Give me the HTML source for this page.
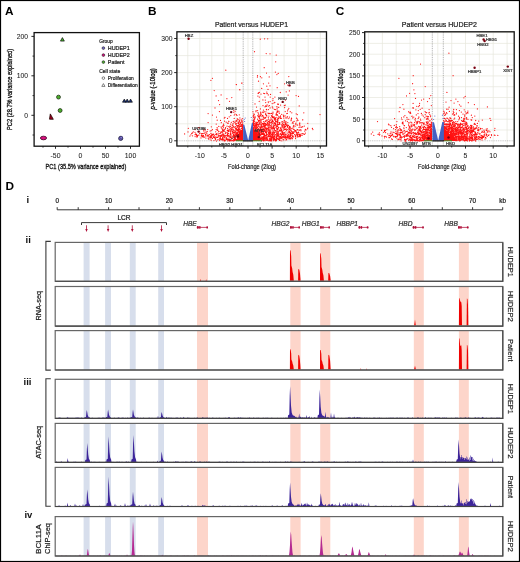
<!DOCTYPE html>
<html><head><meta charset="utf-8"><style>
html,body{margin:0;padding:0;background:#fff;width:520px;height:562px;overflow:hidden}
svg{display:block;will-change:transform}
text{font-family:"Liberation Sans",sans-serif}
</style></head><body>
<svg width="520" height="562" viewBox="0 0 520 562">
<rect width="520" height="562" fill="#fff"/>
<rect x="0.5" y="0.5" width="519" height="561" fill="none" stroke="#000" stroke-width="1.2"/>
<text x="4.9" y="15.0" font-size="11.8" text-anchor="start" fill="#000" font-weight="bold">A</text>
<text x="148.1" y="15.2" font-size="11.8" text-anchor="start" fill="#000" font-weight="bold">B</text>
<text x="335.7" y="15.2" font-size="11.8" text-anchor="start" fill="#000" font-weight="bold">C</text>
<text x="5.5" y="189.6" font-size="11.8" text-anchor="start" fill="#000" font-weight="bold">D</text>
<rect x="34.1" y="32.6" width="105.30000000000001" height="113.6" fill="none" stroke="#111" stroke-width="1.3"/>
<line x1="31.400000000000002" y1="36.4" x2="34.1" y2="36.4" stroke="#111" stroke-width="0.9"/>
<text x="28.0" y="38.79999999999999" font-size="6.8" text-anchor="end" fill="#222" stroke="#222" stroke-width="0.05">200</text>
<line x1="31.400000000000002" y1="75.8" x2="34.1" y2="75.8" stroke="#111" stroke-width="0.9"/>
<text x="28.0" y="78.25" font-size="6.8" text-anchor="end" fill="#222" stroke="#222" stroke-width="0.05">100</text>
<line x1="31.400000000000002" y1="115.3" x2="34.1" y2="115.3" stroke="#111" stroke-width="0.9"/>
<text x="28.0" y="117.7" font-size="6.8" text-anchor="end" fill="#222" stroke="#222" stroke-width="0.05">0</text>
<line x1="32.5" y1="56.1" x2="34.1" y2="56.1" stroke="#111" stroke-width="0.8"/>
<line x1="32.5" y1="95.6" x2="34.1" y2="95.6" stroke="#111" stroke-width="0.8"/>
<line x1="32.5" y1="135.0" x2="34.1" y2="135.0" stroke="#111" stroke-width="0.8"/>
<line x1="55.5" y1="146.2" x2="55.5" y2="148.79999999999998" stroke="#111" stroke-width="0.9"/>
<text x="55.5" y="157.6" font-size="6.9" text-anchor="middle" fill="#222" stroke="#222" stroke-width="0.05">-50</text>
<line x1="80.5" y1="146.2" x2="80.5" y2="148.79999999999998" stroke="#111" stroke-width="0.9"/>
<text x="80.5" y="157.6" font-size="6.9" text-anchor="middle" fill="#222" stroke="#222" stroke-width="0.05">0</text>
<line x1="105.5" y1="146.2" x2="105.5" y2="148.79999999999998" stroke="#111" stroke-width="0.9"/>
<text x="105.5" y="157.6" font-size="6.9" text-anchor="middle" fill="#222" stroke="#222" stroke-width="0.05">50</text>
<line x1="130.5" y1="146.2" x2="130.5" y2="148.79999999999998" stroke="#111" stroke-width="0.9"/>
<text x="130.5" y="157.6" font-size="6.9" text-anchor="middle" fill="#222" stroke="#222" stroke-width="0.05">100</text>
<line x1="43.0" y1="146.2" x2="43.0" y2="147.7" stroke="#111" stroke-width="0.8"/>
<line x1="68.0" y1="146.2" x2="68.0" y2="147.7" stroke="#111" stroke-width="0.8"/>
<line x1="93.0" y1="146.2" x2="93.0" y2="147.7" stroke="#111" stroke-width="0.8"/>
<line x1="118.0" y1="146.2" x2="118.0" y2="147.7" stroke="#111" stroke-width="0.8"/>
<text x="85.9" y="169.3" font-size="8.0" text-anchor="middle" fill="#111" textLength="80.8" lengthAdjust="spacingAndGlyphs" stroke="#111" stroke-width="0.32">PC1 (35.5% variance explained)</text>
<text x="12.5" y="89.4" font-size="8.0" text-anchor="middle" fill="#111" transform="rotate(-90 12.5 89.4)" textLength="81" lengthAdjust="spacingAndGlyphs" stroke="#111" stroke-width="0.32">PC2 (28.7% variance explained)</text>
<text x="99.2" y="42.8" font-size="5.6" text-anchor="start" fill="#222" stroke="#222" stroke-width="0.22" textLength="13.5" lengthAdjust="spacingAndGlyphs">Group</text>
<circle cx="103.4" cy="48.1" r="1.35" fill="#7466c8" stroke="#222" stroke-width="0.6"/>
<text x="107.8" y="50.1" font-size="5.4" text-anchor="start" fill="#222" stroke="#222" stroke-width="0.22">HUDEP1</text>
<circle cx="103.4" cy="55.1" r="1.35" fill="#d8107e" stroke="#222" stroke-width="0.6"/>
<text x="107.8" y="57.1" font-size="5.4" text-anchor="start" fill="#222" stroke="#222" stroke-width="0.22">HUDEP2</text>
<circle cx="103.4" cy="62.1" r="1.35" fill="#4cb02c" stroke="#222" stroke-width="0.6"/>
<text x="107.8" y="64.1" font-size="5.4" text-anchor="start" fill="#222" stroke="#222" stroke-width="0.22">Patient</text>
<text x="99.2" y="72.9" font-size="5.4" text-anchor="start" fill="#222" stroke="#222" stroke-width="0.22" textLength="21" lengthAdjust="spacingAndGlyphs">Cell state</text>
<circle cx="103.4" cy="78.1" r="1.3" fill="none" stroke="#222" stroke-width="0.55"/>
<text x="107.8" y="80.1" font-size="5.4" text-anchor="start" fill="#222" stroke="#222" stroke-width="0.22" textLength="26" lengthAdjust="spacingAndGlyphs">Proliferation</text>
<path d="M103.4 83.6 L105 86.4 L101.8 86.4 Z" fill="none" stroke="#222" stroke-width="0.55"/>
<text x="107.8" y="87.2" font-size="5.4" text-anchor="start" fill="#222" stroke="#222" stroke-width="0.22" textLength="30" lengthAdjust="spacingAndGlyphs">Differentiation</text>
<path d="M62.40 37.60 L64.35 41.10 L60.45 41.10 Z" fill="#46b02c" stroke="#111" stroke-width="0.7" stroke-linejoin="round"/>
<circle cx="58.5" cy="97.1" r="1.95" fill="#4cb02c" stroke="#1a2a10" stroke-width="0.75"/>
<circle cx="60.1" cy="110.5" r="1.95" fill="#4cb02c" stroke="#1a2a10" stroke-width="0.75"/>
<ellipse cx="43.5" cy="138.0" rx="3.1" ry="1.8" fill="#d8107e" stroke="#3a0020" stroke-width="0.8"/>
<path d="M50.3 113.9 L53.3 119.3 L49.5 119.2 Z" fill="#a0001e" stroke="#200" stroke-width="0.8" stroke-linejoin="round"/>
<path d="M124.30 99.10 L126.10 102.20 L122.50 102.20 Z" fill="#17307a" stroke="#111" stroke-width="0.7" stroke-linejoin="round"/>
<path d="M127.20 99.10 L129.00 102.20 L125.40 102.20 Z" fill="#17307a" stroke="#111" stroke-width="0.7" stroke-linejoin="round"/>
<path d="M130.60 99.10 L132.40 102.20 L128.80 102.20 Z" fill="#17307a" stroke="#111" stroke-width="0.7" stroke-linejoin="round"/>
<circle cx="120.7" cy="138.4" r="2.1" fill="#7466c8" stroke="#1a1a3a" stroke-width="0.75"/>
<circle cx="121.2" cy="137.7" r="1.4" fill="#8478d8" stroke="#1a1a3a" stroke-width="0.5"/>
<clipPath id="clip11"><rect x="176.9" y="31.8" width="149.6" height="114.2"/></clipPath>
<rect x="176.9" y="31.8" width="149.6" height="114.2" fill="#fff"/>
<path d="M187.8 31.8V146.0M199.8 31.8V146.0M211.8 31.8V146.0M223.9 31.8V146.0M235.9 31.8V146.0M248.0 31.8V146.0M260.1 31.8V146.0M272.1 31.8V146.0M284.1 31.8V146.0M296.2 31.8V146.0M308.2 31.8V146.0M320.3 31.8V146.0M176.9 123.8H326.5M176.9 106.7H326.5M176.9 89.7H326.5M176.9 72.6H326.5M176.9 55.6H326.5M176.9 38.5H326.5" stroke="#e6e6dc" stroke-width="0.7" fill="none"/>
<line x1="243.2" y1="31.8" x2="243.2" y2="146.0" stroke="#666" stroke-width="0.5" stroke-dasharray="1 0.8"/>
<line x1="252.8" y1="31.8" x2="252.8" y2="146.0" stroke="#666" stroke-width="0.5" stroke-dasharray="1 0.8"/>
<line x1="176.9" y1="140.8" x2="326.5" y2="140.8" stroke="#888" stroke-width="0.5" stroke-dasharray="1 0.8"/>
<g clip-path="url(#clip11)">
<path d="M254.5 51.7h0M225.8 70.2h0M257.5 75.7h0M257.4 77.0h0M260.4 76.7h0M261.8 77.8h0M268.7 83.1h0M287.8 85.1h0M266.8 86.2h0M261.7 88.4h0M268.0 89.4h0M286.2 91.8h0M259.4 92.3h0M258.2 93.4h0M263.7 93.3h0M264.7 93.5h0M266.9 93.5h0M267.3 93.6h0M270.5 94.4h0M257.9 96.0h0M288.1 95.1h0M296.1 95.5h0M259.3 97.0h0M298.5 96.4h0M265.0 97.1h0M270.2 97.1h0M273.0 98.7h0M262.9 99.9h0M268.3 101.8h0M270.1 101.6h0M265.7 102.6h0M268.3 102.6h0M274.8 102.4h0M255.0 103.9h0M272.2 103.5h0M273.9 103.1h0M277.9 103.9h0M267.1 104.9h0M277.9 104.4h0M263.0 105.6h0M265.7 105.8h0M268.3 106.0h0M269.5 105.5h0M280.6 105.1h0M284.3 105.5h0M285.2 105.2h0M265.0 106.8h0M266.2 106.4h0M266.3 106.2h0M272.3 106.9h0M276.9 106.7h0M256.5 107.1h0M270.1 107.9h0M278.7 107.4h0M284.6 107.6h0M260.4 108.9h0M272.9 108.0h0M277.1 108.2h0M288.8 108.3h0M266.8 109.8h0M266.4 109.4h0M268.5 109.6h0M274.3 109.3h0M275.4 109.6h0M277.0 109.8h0M288.1 109.6h0M233.8 110.5h0M256.1 110.6h0M257.6 110.5h0M263.4 110.1h0M287.5 110.9h0M219.4 111.6h0M235.1 111.3h0M253.0 111.8h0M255.9 111.7h0M264.1 111.4h0M265.9 111.8h0M277.5 111.2h0M279.0 111.9h0M278.8 111.1h0M285.2 111.5h0M290.2 111.7h0M233.8 112.3h0M258.0 112.6h0M260.7 112.1h0M260.9 112.8h0M262.6 112.2h0M263.8 112.5h0M268.0 113.0h0M273.0 112.0h0M276.7 112.2h0M277.5 112.2h0M291.8 112.8h0M253.9 113.9h0M258.4 113.9h0M260.5 113.1h0M265.7 113.7h0M268.5 113.6h0M269.5 113.6h0M269.3 113.4h0M270.8 113.6h0M271.6 113.4h0M272.9 113.2h0M276.3 113.6h0M279.3 113.3h0M286.8 113.5h0M287.4 113.3h0M296.2 113.8h0M235.0 114.1h0M236.5 114.5h0M239.3 114.8h0M254.3 114.7h0M259.0 115.0h0M260.6 114.9h0M261.1 114.7h0M261.1 114.2h0M265.6 114.5h0M272.6 114.8h0M276.0 114.6h0M276.5 114.3h0M277.3 114.6h0M281.7 114.3h0M297.3 114.5h0M230.8 115.6h0M234.2 115.1h0M236.9 115.4h0M253.5 115.3h0M257.8 115.6h0M260.3 115.2h0M260.2 115.9h0M262.9 115.3h0M262.3 115.7h0M266.6 115.2h0M266.4 115.5h0M268.9 116.0h0M271.4 115.7h0M276.2 115.5h0M277.7 115.3h0M280.5 115.9h0M283.8 116.0h0M283.3 115.1h0M285.1 115.9h0M229.2 116.8h0M253.3 116.2h0M255.0 116.3h0M258.3 116.8h0M258.3 116.4h0M259.3 117.0h0M259.4 116.7h0M259.7 116.3h0M262.0 116.5h0M262.0 116.7h0M263.6 116.8h0M266.8 116.1h0M271.8 116.3h0M272.9 116.8h0M272.4 116.4h0M273.0 116.8h0M274.1 116.8h0M278.9 116.6h0M283.6 116.6h0M287.3 116.7h0M224.9 117.4h0M224.3 118.0h0M239.9 117.9h0M253.5 117.3h0M254.8 117.5h0M255.3 117.8h0M263.5 117.8h0M264.4 117.9h0M265.1 117.9h0M265.8 117.3h0M268.3 117.5h0M270.8 117.8h0M272.4 117.5h0M272.6 117.4h0M274.0 118.0h0M273.5 117.5h0M274.9 117.9h0M276.1 117.6h0M279.3 117.2h0M280.5 117.1h0M283.8 118.0h0M285.8 117.9h0M287.0 117.9h0M289.4 117.1h0M227.5 118.4h0M234.2 118.4h0M237.2 118.8h0M237.7 119.0h0M242.3 118.5h0M254.3 118.6h0M259.3 118.1h0M259.7 118.8h0M265.0 118.5h0M274.6 118.5h0M275.4 118.3h0M277.8 118.1h0M278.4 118.6h0M278.7 118.2h0M280.4 118.4h0M281.5 118.3h0M288.8 118.6h0M291.6 118.2h0M291.4 118.5h0M296.5 118.2h0M238.1 119.4h0M238.0 119.5h0M240.0 119.8h0M241.7 119.9h0M254.6 119.7h0M254.1 119.6h0M257.5 119.0h0M257.5 119.2h0M260.9 119.4h0M262.1 119.1h0M263.2 119.4h0M267.6 120.0h0M268.5 119.1h0M270.0 119.9h0M271.3 119.2h0M274.4 119.2h0M275.6 119.2h0M277.2 119.7h0M277.8 119.1h0M278.1 120.0h0M291.2 119.5h0M297.5 119.1h0M302.7 119.9h0M302.8 119.8h0M217.2 120.2h0M220.5 120.4h0M236.8 120.3h0M239.3 120.7h0M239.9 120.0h0M241.9 120.5h0M253.4 120.2h0M253.7 120.4h0M258.8 120.7h0M258.3 120.3h0M259.0 120.4h0M259.4 120.5h0M259.9 120.5h0M261.1 120.3h0M265.9 120.5h0M265.9 120.6h0M266.5 120.1h0M270.2 120.5h0M272.2 120.4h0M272.7 120.2h0M272.7 120.5h0M274.8 120.1h0M275.5 120.9h0M275.7 121.0h0M275.1 120.1h0M277.3 120.8h0M284.8 121.0h0M284.2 120.3h0M284.6 120.8h0M291.0 120.7h0M291.2 120.5h0M296.9 120.8h0M298.0 120.3h0M224.6 121.2h0M228.9 121.3h0M228.7 121.3h0M233.4 121.8h0M233.2 121.3h0M235.1 121.1h0M236.9 121.2h0M236.5 121.1h0M236.2 121.1h0M239.4 121.3h0M239.1 121.3h0M241.0 122.0h0M241.7 121.8h0M242.7 121.8h0M253.6 121.1h0M253.3 121.9h0M253.7 121.2h0M254.6 121.3h0M258.4 121.6h0M260.4 121.8h0M261.0 122.0h0M263.7 121.6h0M265.3 121.2h0M266.0 121.7h0M268.4 121.7h0M269.2 121.2h0M269.1 121.3h0M269.2 121.8h0M272.0 121.8h0M272.1 121.0h0M273.1 121.5h0M273.3 121.5h0M275.6 121.6h0M276.9 121.3h0M277.4 121.6h0M277.8 121.3h0M281.8 121.9h0M282.7 121.9h0M282.8 121.7h0M286.0 121.5h0M294.1 121.4h0M208.1 122.6h0M221.3 122.7h0M226.2 122.2h0M231.3 122.3h0M234.9 122.3h0M234.9 122.7h0M235.0 122.7h0M237.9 122.9h0M238.4 122.9h0M238.9 122.2h0M239.0 122.1h0M240.1 122.9h0M242.5 122.1h0M253.4 122.7h0M256.1 122.2h0M256.1 122.5h0M257.2 122.8h0M257.5 122.5h0M258.2 122.1h0M259.8 122.7h0M259.7 122.1h0M260.0 122.0h0M261.6 122.0h0M264.5 122.9h0M267.4 122.3h0M267.5 122.3h0M269.5 122.0h0M270.3 122.8h0M271.4 122.8h0M271.2 122.2h0M274.1 122.6h0M274.9 123.0h0M276.0 122.1h0M277.5 122.5h0M277.9 122.7h0M279.8 122.7h0M279.3 122.7h0M284.1 122.4h0M285.7 122.3h0M287.8 122.6h0M292.9 122.1h0M293.3 123.0h0M227.5 123.2h0M228.3 123.2h0M233.1 123.5h0M235.6 123.8h0M236.4 123.7h0M238.5 123.4h0M238.1 123.3h0M240.1 123.3h0M240.6 123.2h0M242.5 123.8h0M253.1 123.5h0M253.2 123.2h0M253.3 123.5h0M253.9 123.1h0M254.8 123.2h0M255.6 123.1h0M257.0 123.7h0M256.2 123.3h0M258.7 124.0h0M259.5 123.6h0M260.1 123.5h0M262.0 123.6h0M262.1 123.6h0M263.8 123.4h0M263.1 123.4h0M264.0 123.9h0M264.6 123.3h0M265.4 123.6h0M265.2 123.7h0M267.1 123.6h0M267.7 123.5h0M268.8 124.0h0M269.0 123.1h0M269.2 123.7h0M272.3 123.3h0M272.4 123.0h0M274.4 123.7h0M274.1 123.5h0M274.9 123.4h0M274.0 123.2h0M275.6 124.0h0M275.7 123.0h0M277.6 123.0h0M279.5 123.5h0M282.4 123.7h0M282.7 123.8h0M285.3 123.7h0M286.2 123.1h0M292.3 123.0h0M296.0 123.1h0M299.6 123.1h0M299.9 123.1h0M299.6 123.8h0M307.8 123.3h0M216.2 124.1h0M223.5 124.2h0M230.7 124.2h0M232.8 124.0h0M235.8 124.4h0M239.4 124.7h0M239.4 125.0h0M240.9 124.7h0M241.9 124.3h0M242.9 124.9h0M254.0 124.2h0M253.8 124.5h0M253.3 124.4h0M255.3 124.7h0M256.1 124.8h0M256.2 124.8h0M256.4 124.1h0M256.6 124.4h0M257.7 124.7h0M258.7 124.9h0M258.4 125.0h0M260.0 124.5h0M260.4 124.8h0M261.7 124.2h0M261.7 124.5h0M263.4 124.1h0M263.2 124.3h0M264.0 124.4h0M265.5 124.7h0M266.3 124.7h0M267.1 124.5h0M267.1 124.2h0M268.3 125.0h0M269.4 124.7h0M271.1 125.0h0M271.7 124.8h0M273.7 124.9h0M275.3 124.8h0M276.1 124.9h0M277.5 124.4h0M278.4 124.6h0M280.0 124.1h0M279.0 124.4h0M281.5 124.8h0M283.8 124.4h0M283.9 125.0h0M283.1 124.3h0M285.7 124.2h0M285.7 124.7h0M285.2 124.5h0M286.4 125.0h0M287.0 124.5h0M295.5 124.1h0M296.9 124.8h0M299.7 124.3h0M223.0 125.8h0M223.9 125.3h0M229.9 126.0h0M232.2 125.7h0M233.1 125.1h0M236.8 125.6h0M236.7 125.6h0M237.4 125.9h0M238.8 125.0h0M238.2 125.3h0M238.5 125.8h0M240.6 125.0h0M241.4 125.7h0M242.3 125.3h0M253.6 125.9h0M253.4 125.4h0M254.1 125.3h0M254.0 125.9h0M255.0 125.9h0M256.0 125.4h0M255.4 125.1h0M255.3 125.1h0M255.9 125.2h0M256.7 125.6h0M257.1 125.0h0M261.6 125.0h0M261.7 125.9h0M263.7 125.1h0M264.4 125.3h0M264.5 125.2h0M264.8 125.9h0M265.5 125.6h0M267.1 125.6h0M267.2 125.5h0M268.8 125.3h0M269.2 125.5h0M270.6 125.7h0M271.3 125.1h0M274.8 125.4h0M275.2 125.2h0M277.0 125.2h0M277.6 125.8h0M282.3 125.8h0M282.3 125.9h0M282.9 125.1h0M284.4 125.8h0M286.6 125.1h0M286.8 125.6h0M288.0 125.4h0M288.4 125.4h0M293.8 125.3h0M297.7 125.0h0M299.8 125.8h0M299.9 125.5h0M211.3 126.8h0M218.8 126.4h0M221.1 126.9h0M222.6 126.2h0M227.0 126.2h0M228.7 126.5h0M230.5 126.3h0M233.7 127.0h0M233.4 126.6h0M233.4 126.5h0M235.7 126.6h0M238.8 126.5h0M240.0 126.5h0M239.4 126.8h0M239.8 126.5h0M240.8 126.4h0M241.3 126.2h0M242.2 126.8h0M242.1 126.6h0M242.4 126.8h0M242.8 126.1h0M243.0 126.6h0M242.2 126.3h0M254.7 126.4h0M254.9 126.0h0M254.6 126.1h0M254.2 126.0h0M254.6 126.2h0M256.2 126.5h0M256.0 126.6h0M257.6 126.8h0M257.7 127.0h0M258.7 126.3h0M259.9 126.9h0M260.8 126.8h0M261.8 126.9h0M261.3 126.1h0M262.5 126.9h0M263.5 126.7h0M263.1 126.2h0M264.2 126.7h0M268.1 126.8h0M269.1 126.9h0M271.1 126.5h0M271.6 126.8h0M273.4 126.8h0M273.9 126.3h0M273.1 126.1h0M276.6 126.3h0M277.8 126.7h0M277.4 126.2h0M281.9 126.1h0M282.7 126.3h0M283.0 126.7h0M284.4 126.7h0M285.6 126.4h0M285.1 126.3h0M287.6 126.2h0M289.5 126.8h0M289.7 126.5h0M289.4 126.4h0M290.0 126.7h0M293.3 126.3h0M293.4 126.0h0M295.1 126.2h0M302.7 126.7h0M304.3 126.1h0M198.4 127.7h0M199.5 127.7h0M217.1 127.6h0M223.4 127.2h0M225.6 127.5h0M229.8 127.3h0M231.7 127.5h0M232.6 127.9h0M232.1 127.3h0M234.6 127.0h0M237.5 127.2h0M238.4 128.0h0M238.8 127.9h0M239.2 127.6h0M242.1 127.7h0M242.6 127.6h0M253.6 127.3h0M254.5 127.6h0M255.6 127.3h0M255.7 127.1h0M256.9 127.3h0M256.9 127.8h0M256.7 127.2h0M257.3 127.7h0M257.7 127.3h0M259.9 127.8h0M260.1 127.7h0M260.9 127.1h0M261.0 127.6h0M264.2 127.3h0M264.9 127.2h0M265.4 127.1h0M266.2 127.8h0M268.8 127.6h0M268.2 128.0h0M269.5 127.1h0M270.7 127.5h0M271.0 127.3h0M272.3 127.7h0M273.8 127.1h0M273.5 127.8h0M274.4 128.0h0M275.8 127.2h0M276.4 127.9h0M278.7 127.6h0M278.6 127.6h0M278.8 127.5h0M281.0 127.4h0M282.8 127.7h0M283.2 127.3h0M283.1 127.6h0M284.4 127.8h0M284.8 127.4h0M287.7 127.1h0M287.4 127.2h0M289.1 127.6h0M289.5 127.4h0M290.5 127.8h0M293.8 127.1h0M299.1 127.4h0M300.9 127.2h0M301.8 127.1h0M188.3 128.3h0M221.4 128.1h0M222.8 128.9h0M225.5 128.6h0M227.6 128.7h0M231.0 128.6h0M230.1 128.8h0M235.5 128.3h0M235.5 128.1h0M235.4 128.4h0M236.3 128.6h0M236.5 128.1h0M238.6 128.5h0M238.8 128.6h0M239.2 128.7h0M241.8 128.8h0M241.3 128.7h0M241.9 128.6h0M242.5 128.7h0M253.7 128.5h0M253.1 128.3h0M254.6 128.0h0M255.3 128.2h0M256.5 128.3h0M256.9 128.4h0M258.5 128.5h0M258.5 129.0h0M260.4 128.6h0M262.1 128.1h0M263.6 128.8h0M263.7 128.5h0M264.3 128.9h0M264.6 129.0h0M265.9 128.4h0M265.9 128.8h0M265.3 128.9h0M267.6 128.8h0M267.2 128.4h0M269.0 128.3h0M271.1 128.5h0M271.5 128.5h0M271.2 128.9h0M272.6 128.9h0M273.2 128.7h0M274.4 128.7h0M274.2 128.6h0M276.4 128.2h0M277.2 128.3h0M277.4 128.7h0M278.2 128.9h0M280.8 128.7h0M280.4 128.1h0M283.7 128.9h0M286.2 128.9h0M288.9 128.4h0M289.5 128.5h0M291.1 128.4h0M292.3 128.1h0M307.6 128.8h0M307.7 128.1h0M312.4 128.4h0M195.1 129.6h0M204.0 129.7h0M204.1 129.2h0M207.7 129.6h0M212.4 129.7h0M216.2 129.4h0M217.6 129.1h0M222.3 129.6h0M224.7 129.4h0M228.7 130.0h0M229.8 129.5h0M231.9 129.4h0M233.2 129.3h0M233.2 129.7h0M235.8 129.6h0M236.6 129.4h0M236.9 129.6h0M236.2 129.4h0M237.7 129.6h0M237.8 129.4h0M237.2 129.6h0M237.9 129.9h0M237.0 129.4h0M238.8 129.9h0M239.0 129.8h0M239.4 129.6h0M240.1 129.3h0M254.3 129.9h0M255.6 129.1h0M255.9 129.0h0M256.1 129.6h0M257.5 129.5h0M257.2 129.9h0M259.4 129.7h0M259.6 129.9h0M260.6 129.4h0M260.9 129.6h0M261.7 129.2h0M262.1 129.6h0M262.7 129.4h0M262.6 129.6h0M263.7 129.6h0M264.5 129.8h0M266.0 130.0h0M266.6 129.4h0M268.5 129.7h0M269.0 129.8h0M269.7 130.0h0M274.4 129.6h0M274.3 129.3h0M276.8 129.8h0M276.9 129.7h0M277.4 129.6h0M281.2 129.8h0M281.7 129.2h0M285.0 129.3h0M284.4 129.6h0M285.7 129.0h0M286.0 129.7h0M286.5 130.0h0M287.5 129.3h0M289.1 129.4h0M289.0 129.3h0M290.1 129.5h0M294.0 129.4h0M293.2 129.1h0M297.6 129.6h0M297.1 129.9h0M298.9 130.0h0M300.8 129.5h0M305.3 129.5h0M305.8 129.3h0M312.9 129.6h0M203.7 130.9h0M205.2 130.1h0M211.2 130.6h0M217.3 130.4h0M222.6 130.7h0M223.0 131.0h0M223.4 130.2h0M224.3 130.8h0M227.2 130.3h0M227.7 130.7h0M228.2 130.3h0M230.1 131.0h0M230.1 130.5h0M231.2 130.2h0M233.3 130.5h0M234.8 130.3h0M234.9 130.6h0M236.4 130.2h0M237.6 130.7h0M238.8 130.3h0M238.0 130.1h0M240.6 130.8h0M240.5 130.7h0M240.2 130.9h0M241.0 130.9h0M255.3 130.1h0M255.9 130.2h0M256.0 130.3h0M256.5 130.4h0M256.2 130.5h0M257.0 130.7h0M257.0 130.1h0M257.9 130.8h0M258.8 130.5h0M260.0 130.7h0M259.2 130.5h0M259.2 130.6h0M260.4 130.7h0M260.7 131.0h0M260.5 130.8h0M262.0 130.1h0M261.5 130.6h0M262.6 130.9h0M262.6 130.2h0M262.8 130.2h0M264.3 130.1h0M264.2 131.0h0M264.6 130.2h0M265.0 130.8h0M266.0 130.2h0M266.8 130.0h0M267.1 130.3h0M268.7 130.5h0M268.7 130.5h0M270.0 130.0h0M269.5 130.1h0M270.7 130.1h0M273.0 130.5h0M274.7 130.7h0M275.3 130.6h0M275.4 130.7h0M275.9 131.0h0M277.2 131.0h0M277.1 130.8h0M279.3 130.9h0M279.4 130.2h0M279.4 130.0h0M279.4 130.2h0M280.9 130.4h0M280.1 130.2h0M281.3 130.0h0M281.5 130.4h0M283.2 130.5h0M286.6 130.3h0M289.1 130.9h0M290.5 130.2h0M291.1 130.0h0M294.7 130.3h0M295.6 130.6h0M295.7 130.6h0M299.6 130.2h0M301.0 130.7h0M305.9 130.1h0M188.0 131.9h0M193.3 131.8h0M207.3 131.5h0M210.1 131.0h0M215.7 131.8h0M218.5 131.1h0M218.9 131.4h0M221.0 131.8h0M221.5 131.9h0M223.9 131.0h0M224.2 131.3h0M228.7 131.4h0M228.2 131.3h0M230.7 131.6h0M232.9 131.4h0M232.2 131.2h0M232.4 131.3h0M232.3 131.9h0M235.0 131.7h0M235.8 131.5h0M238.4 131.2h0M239.3 131.3h0M239.7 131.1h0M255.4 131.2h0M255.3 131.2h0M255.8 131.2h0M255.8 131.7h0M256.3 131.9h0M256.0 131.1h0M257.6 131.5h0M257.5 131.7h0M258.1 131.3h0M258.8 131.3h0M261.8 131.2h0M261.3 131.3h0M261.6 131.5h0M261.3 132.0h0M261.2 131.6h0M262.9 131.9h0M263.6 131.0h0M264.8 131.2h0M265.2 131.9h0M265.1 131.0h0M266.1 131.7h0M267.2 131.6h0M268.9 131.9h0M268.9 131.9h0M268.7 131.9h0M269.7 131.6h0M269.1 131.1h0M270.8 131.6h0M273.1 132.0h0M273.3 131.7h0M273.3 131.8h0M273.0 131.6h0M276.0 131.9h0M278.0 131.9h0M279.1 131.1h0M280.8 131.1h0M281.9 131.1h0M282.3 131.4h0M285.9 131.9h0M288.2 131.0h0M289.3 131.1h0M289.4 131.4h0M291.5 131.1h0M292.2 131.9h0M293.2 131.9h0M293.2 131.9h0M294.2 131.9h0M295.2 131.6h0M296.0 131.2h0M304.7 131.1h0M192.5 132.9h0M195.0 132.3h0M205.1 132.1h0M206.4 132.1h0M220.8 132.3h0M221.6 132.1h0M221.5 132.0h0M222.5 132.2h0M225.5 132.1h0M227.0 132.8h0M227.0 132.4h0M230.6 132.9h0M232.9 132.1h0M233.2 132.2h0M233.4 132.6h0M234.3 132.3h0M234.5 132.9h0M235.7 132.2h0M236.2 132.9h0M236.1 132.9h0M237.7 132.7h0M237.3 132.9h0M237.5 132.3h0M237.0 132.4h0M238.3 132.2h0M239.5 132.2h0M239.6 132.7h0M239.8 132.1h0M240.0 132.7h0M256.2 132.4h0M256.0 132.4h0M257.1 132.9h0M257.1 132.5h0M258.8 132.1h0M258.1 132.3h0M258.9 132.3h0M259.4 132.7h0M259.2 132.5h0M260.6 132.2h0M261.7 132.7h0M263.3 132.4h0M265.6 132.7h0M266.8 132.1h0M266.1 132.6h0M268.6 132.5h0M269.0 132.1h0M269.3 133.0h0M269.7 132.3h0M269.9 132.4h0M270.9 132.6h0M272.2 132.8h0M272.6 133.0h0M272.7 132.4h0M272.7 132.4h0M273.3 132.2h0M274.5 132.4h0M274.1 132.0h0M275.9 132.2h0M276.3 132.0h0M277.9 132.9h0M278.5 132.0h0M281.9 132.1h0M282.8 132.3h0M282.0 132.5h0M283.3 132.8h0M284.4 132.5h0M288.8 132.7h0M289.6 132.3h0M290.7 132.2h0M292.7 132.5h0M292.9 132.2h0M296.4 132.3h0M296.6 133.0h0M297.2 132.7h0M298.4 132.8h0M298.6 132.4h0M298.6 132.2h0M184.6 133.9h0M191.7 133.4h0M195.7 133.8h0M199.6 133.6h0M200.0 133.1h0M201.4 133.6h0M202.3 133.5h0M203.2 133.4h0M204.7 133.2h0M206.8 133.5h0M210.8 133.3h0M216.4 133.7h0M218.1 133.0h0M219.8 133.6h0M220.3 133.3h0M222.3 133.9h0M223.6 134.0h0M225.5 133.3h0M228.0 133.2h0M227.5 133.2h0M228.7 133.6h0M230.7 133.9h0M230.8 133.4h0M230.6 133.6h0M233.0 133.4h0M232.6 133.1h0M235.9 133.6h0M236.6 133.7h0M237.0 133.8h0M237.3 133.8h0M238.1 133.3h0M257.5 133.8h0M257.5 133.8h0M258.3 133.9h0M259.0 134.0h0M258.1 133.7h0M258.8 133.1h0M259.1 133.2h0M259.5 133.7h0M260.2 133.8h0M261.7 133.6h0M261.3 133.1h0M262.8 133.5h0M262.3 133.7h0M263.3 133.5h0M263.5 133.6h0M264.5 133.9h0M266.5 133.1h0M266.6 133.9h0M268.4 133.2h0M269.6 134.0h0M269.0 133.8h0M269.9 133.5h0M270.0 133.4h0M270.5 133.4h0M270.6 133.3h0M270.6 133.0h0M271.8 133.9h0M272.4 133.8h0M274.2 133.2h0M274.2 133.5h0M274.1 133.1h0M276.7 133.4h0M278.0 133.6h0M277.1 133.1h0M278.4 133.6h0M278.2 133.6h0M280.7 133.3h0M282.4 133.0h0M282.3 133.4h0M282.1 133.2h0M283.2 133.5h0M284.3 133.8h0M285.9 133.9h0M287.7 133.0h0M290.0 133.0h0M290.3 133.9h0M291.1 133.4h0M292.9 133.0h0M292.2 133.7h0M292.9 133.4h0M292.9 133.2h0M293.5 133.3h0M293.0 133.0h0M298.0 133.0h0M301.8 133.8h0M302.4 133.5h0M303.6 133.8h0M305.4 133.0h0M190.9 134.8h0M195.1 134.7h0M196.5 134.6h0M196.5 134.4h0M205.8 134.8h0M205.5 134.4h0M209.5 134.6h0M211.9 134.1h0M213.0 134.3h0M213.2 134.6h0M213.7 134.2h0M213.2 134.6h0M215.7 134.3h0M216.2 134.8h0M216.1 134.0h0M216.6 134.4h0M218.1 134.2h0M222.8 134.4h0M223.9 134.1h0M227.4 134.4h0M230.3 134.4h0M231.1 134.8h0M233.4 134.4h0M234.0 134.5h0M235.8 134.6h0M235.3 134.1h0M236.0 134.9h0M236.7 134.4h0M237.1 134.7h0M237.8 134.5h0M237.4 134.1h0M258.4 134.2h0M258.5 134.9h0M259.5 134.7h0M259.3 134.0h0M260.8 134.4h0M260.3 134.0h0M262.0 134.1h0M261.6 134.7h0M262.1 134.3h0M262.5 134.2h0M263.3 134.6h0M263.0 134.3h0M264.3 134.4h0M264.1 134.3h0M266.5 134.4h0M266.5 135.0h0M267.9 134.5h0M267.9 134.5h0M267.8 134.6h0M269.3 134.8h0M270.2 134.8h0M270.1 134.9h0M271.2 134.5h0M272.1 134.4h0M273.1 134.4h0M273.0 134.5h0M273.4 134.1h0M274.3 135.0h0M275.2 134.6h0M277.0 134.4h0M276.0 134.8h0M277.9 134.7h0M278.7 134.8h0M279.9 134.1h0M280.9 134.3h0M280.2 134.2h0M281.5 134.7h0M281.7 134.5h0M282.5 134.3h0M283.9 134.5h0M283.4 134.9h0M283.2 134.1h0M285.2 134.8h0M286.1 134.5h0M288.0 134.9h0M288.8 134.6h0M288.3 135.0h0M290.2 135.0h0M291.0 134.9h0M294.6 134.5h0M295.3 135.0h0M296.6 134.7h0M297.2 134.0h0M298.2 134.7h0M299.5 134.4h0M299.4 134.6h0M300.1 134.1h0M300.3 134.6h0M303.8 134.1h0M304.6 134.3h0M189.9 136.0h0M192.5 135.8h0M196.7 135.7h0M196.6 135.9h0M197.4 135.4h0M198.7 135.2h0M201.7 135.4h0M201.9 135.1h0M201.4 135.3h0M203.4 135.4h0M203.1 135.7h0M205.8 135.9h0M205.8 135.6h0M207.7 135.0h0M207.2 135.8h0M208.5 135.1h0M210.6 135.9h0M211.8 136.0h0M211.2 135.2h0M212.4 135.1h0M214.2 135.4h0M218.3 135.7h0M219.4 135.7h0M220.6 135.4h0M221.5 135.1h0M221.7 135.6h0M222.9 135.6h0M223.9 135.4h0M225.1 135.3h0M226.7 135.5h0M227.7 135.1h0M228.3 135.4h0M228.1 135.7h0M228.1 135.8h0M229.3 135.8h0M230.2 135.9h0M233.4 135.6h0M233.2 135.4h0M233.9 135.3h0M234.9 135.8h0M234.3 135.4h0M234.8 135.5h0M234.3 135.4h0M235.6 135.7h0M236.0 135.5h0M236.8 135.7h0M236.3 135.2h0M236.3 135.8h0M236.5 135.7h0M237.3 135.4h0M258.7 135.7h0M258.4 135.2h0M258.9 135.0h0M258.2 135.1h0M258.9 135.3h0M259.1 135.1h0M259.6 135.3h0M260.4 135.7h0M264.6 135.3h0M264.8 135.8h0M264.0 135.9h0M264.9 135.7h0M264.8 135.2h0M264.4 135.3h0M265.9 135.4h0M265.8 135.5h0M266.4 135.8h0M266.1 135.4h0M266.0 135.5h0M266.0 135.2h0M268.9 135.7h0M268.2 135.9h0M269.1 135.2h0M270.2 135.1h0M270.6 135.3h0M272.3 135.4h0M272.1 135.6h0M272.9 135.3h0M276.8 135.8h0M276.3 135.8h0M277.2 135.8h0M277.8 135.1h0M277.3 135.1h0M278.4 135.5h0M278.5 135.2h0M278.1 135.9h0M281.7 135.5h0M281.3 135.8h0M283.8 135.1h0M285.0 135.3h0M286.1 135.0h0M287.6 135.5h0M287.7 135.4h0M288.2 135.2h0M290.0 135.8h0M290.0 135.5h0M292.1 135.2h0M295.7 135.5h0M297.5 135.4h0M297.6 135.8h0M299.4 135.1h0M300.1 135.7h0M300.8 135.6h0M302.1 135.3h0M195.1 136.5h0M197.4 136.7h0M201.3 136.1h0M202.4 136.3h0M203.6 136.9h0M203.2 137.0h0M204.6 137.0h0M208.2 136.2h0M210.0 136.9h0M210.4 136.1h0M211.1 136.3h0M213.6 136.5h0M213.4 136.9h0M215.0 136.7h0M218.2 136.5h0M220.2 136.7h0M221.2 136.4h0M222.7 136.9h0M223.2 137.0h0M223.2 136.3h0M224.2 136.2h0M225.7 136.1h0M227.7 136.3h0M227.6 136.1h0M228.2 136.3h0M229.7 136.2h0M229.6 136.3h0M230.2 136.2h0M231.2 136.1h0M232.8 136.7h0M232.5 136.8h0M233.5 136.3h0M233.3 136.6h0M234.1 136.1h0M234.6 136.3h0M234.1 136.2h0M235.1 136.9h0M236.3 136.6h0M236.1 136.0h0M259.4 136.6h0M259.4 136.6h0M261.8 136.9h0M263.7 136.1h0M263.2 136.8h0M263.6 136.8h0M263.0 136.8h0M263.9 137.0h0M264.2 136.1h0M264.3 136.9h0M265.8 136.0h0M265.8 136.2h0M267.8 136.2h0M268.6 136.6h0M268.5 136.3h0M268.0 136.7h0M269.9 136.5h0M269.4 136.4h0M270.5 136.9h0M270.4 136.3h0M270.9 136.6h0M271.9 136.0h0M272.2 136.4h0M273.6 136.7h0M273.4 136.9h0M274.8 136.4h0M274.0 136.0h0M276.6 136.1h0M277.3 136.3h0M278.7 136.6h0M279.8 136.1h0M279.8 136.5h0M280.5 136.8h0M280.7 136.4h0M282.6 136.5h0M283.6 136.5h0M284.3 136.3h0M284.2 137.0h0M285.4 136.3h0M287.1 137.0h0M287.7 136.1h0M287.1 136.3h0M287.0 136.6h0M288.2 136.3h0M289.3 136.6h0M289.1 136.1h0M290.7 136.0h0M290.2 136.8h0M292.6 136.4h0M292.6 136.1h0M293.3 136.1h0M295.8 136.9h0M295.6 136.3h0M295.3 136.8h0M297.6 136.9h0M298.8 136.7h0M299.5 136.2h0M300.2 136.7h0M196.9 137.1h0M201.0 137.9h0M203.1 137.2h0M205.9 138.0h0M209.6 137.1h0M209.3 137.0h0M210.7 137.6h0M211.6 137.5h0M213.8 137.4h0M213.5 137.3h0M214.4 137.5h0M215.1 137.5h0M216.7 137.2h0M216.8 137.4h0M217.8 137.4h0M219.9 137.0h0M220.4 137.3h0M222.5 137.9h0M222.9 137.4h0M224.6 137.6h0M224.9 137.1h0M224.7 137.8h0M225.0 137.8h0M226.6 137.5h0M228.9 138.0h0M230.0 137.7h0M230.8 137.4h0M231.7 137.9h0M234.5 137.4h0M234.1 137.5h0M235.1 137.0h0M236.0 137.6h0M259.2 137.5h0M259.7 137.4h0M260.2 137.3h0M262.2 137.5h0M262.7 137.6h0M263.1 137.2h0M264.3 137.8h0M264.3 137.4h0M264.2 137.5h0M265.6 137.9h0M265.5 137.6h0M266.9 137.3h0M266.6 137.4h0M271.4 138.0h0M271.4 137.1h0M271.1 137.7h0M272.0 137.3h0M272.9 137.1h0M272.3 137.3h0M273.3 137.9h0M274.3 137.7h0M276.0 137.4h0M276.7 137.3h0M276.5 137.4h0M279.0 137.5h0M280.9 137.9h0M280.2 137.1h0M280.1 137.3h0M281.8 137.3h0M282.0 137.6h0M281.8 137.6h0M281.6 137.3h0M282.3 137.9h0M283.4 137.6h0M284.4 137.3h0M285.8 137.2h0M286.0 137.1h0M285.3 137.3h0M286.7 137.2h0M286.4 137.1h0M286.0 137.8h0M287.7 137.4h0M288.0 137.2h0M287.3 137.4h0M287.2 137.2h0M288.3 137.4h0M289.4 137.8h0M291.9 137.3h0M291.6 137.9h0M293.2 137.1h0M208.2 138.2h0M208.5 139.0h0M210.0 138.9h0M212.5 138.4h0M215.2 138.7h0M215.7 138.1h0M219.7 138.6h0M220.7 138.4h0M222.4 138.8h0M223.1 138.7h0M226.3 138.7h0M226.2 138.9h0M226.6 138.2h0M226.5 138.5h0M226.8 138.7h0M231.6 138.9h0M231.8 138.8h0M232.3 138.7h0M232.1 138.7h0M234.3 138.8h0M234.3 138.7h0M234.9 138.1h0M235.8 138.1h0M259.4 138.2h0M259.6 138.1h0M259.9 138.3h0M260.7 138.5h0M261.7 138.8h0M261.5 138.8h0M261.4 138.1h0M262.4 138.0h0M263.9 138.7h0M263.6 138.8h0M263.6 138.4h0M263.5 138.1h0M263.4 138.5h0M264.7 138.2h0M264.3 138.9h0M265.8 138.8h0M265.5 138.3h0M266.2 138.4h0M267.0 138.1h0M266.5 138.9h0M267.4 138.1h0M267.1 138.8h0M269.3 138.2h0M269.6 138.8h0M270.3 138.8h0M271.5 138.3h0M271.0 138.2h0M272.9 138.7h0M273.2 138.9h0M273.5 138.5h0M273.2 139.0h0M274.0 138.5h0M274.2 138.5h0M274.6 138.3h0M276.6 138.7h0M277.1 138.3h0M277.9 138.4h0M278.0 138.7h0M279.3 138.1h0M279.3 139.0h0M281.0 138.6h0M280.0 138.2h0M281.3 138.3h0M281.2 138.7h0M285.1 138.6h0M286.2 138.1h0M287.9 138.5h0M289.0 138.9h0M289.3 138.7h0M289.4 138.4h0M289.6 138.6h0M290.4 138.2h0M290.8 138.9h0M290.7 138.4h0M290.5 138.7h0M292.5 138.7h0M295.5 138.6h0M215.5 139.7h0M217.4 139.8h0M219.0 139.4h0M220.7 139.4h0M221.8 139.4h0M221.3 139.4h0M222.5 139.3h0M223.3 139.6h0M224.3 139.8h0M226.2 139.6h0M227.7 139.4h0M227.5 139.0h0M227.3 139.7h0M227.3 139.2h0M228.6 139.6h0M228.5 139.6h0M228.6 139.8h0M229.7 139.7h0M229.8 139.8h0M233.5 139.5h0M234.7 139.4h0M234.4 139.8h0M234.2 139.9h0M234.7 139.3h0M234.0 139.2h0M235.2 139.4h0M235.6 139.2h0M259.7 139.6h0M259.6 139.4h0M259.8 139.3h0M259.2 139.2h0M260.4 139.5h0M260.5 139.2h0M260.3 139.5h0M262.0 139.9h0M262.8 139.3h0M263.7 139.2h0M264.3 139.7h0M264.2 139.9h0M265.7 139.4h0M266.1 139.0h0M266.1 139.8h0M267.4 139.8h0M267.4 139.6h0M267.7 139.4h0M267.2 140.0h0M267.7 139.9h0M270.0 139.4h0M270.8 139.7h0M270.1 139.1h0M271.8 139.2h0M271.3 139.9h0M271.3 139.7h0M271.8 139.2h0M271.1 139.1h0M271.1 139.9h0M274.0 139.2h0M273.5 139.6h0M273.6 139.7h0M274.3 139.5h0M274.6 139.3h0M275.2 139.1h0M276.0 139.7h0M276.8 139.5h0M278.0 139.1h0M278.3 139.1h0M278.5 139.4h0M279.8 139.5h0M283.0 139.3h0M283.8 139.9h0M286.4 139.3h0M286.1 139.9h0M286.6 139.7h0M211.1 140.2h0M214.0 140.5h0M216.5 141.0h0M219.6 140.6h0M222.1 140.5h0M223.9 140.2h0M224.3 140.9h0M224.9 140.9h0M225.2 140.4h0M227.8 140.9h0M229.0 140.4h0M229.3 140.8h0M229.8 140.4h0M230.1 140.2h0M230.6 140.2h0M230.2 140.8h0M231.1 140.6h0M232.0 140.7h0M232.6 140.7h0M233.1 140.8h0M233.9 140.8h0M234.9 140.4h0M234.2 140.7h0M234.2 140.7h0M234.1 140.1h0M236.0 140.1h0M260.9 140.2h0M261.6 140.9h0M261.3 140.5h0M263.0 140.3h0M263.8 140.9h0M263.3 140.1h0M263.3 140.4h0M265.1 140.5h0M266.5 140.2h0M266.9 140.4h0M267.9 140.2h0M268.8 140.8h0M269.9 140.7h0M269.3 140.2h0M270.9 140.6h0M270.7 140.8h0M270.1 140.1h0M271.6 140.8h0M271.5 140.4h0M271.0 140.3h0M273.4 140.7h0M273.7 140.3h0M275.5 140.9h0M276.0 140.5h0M275.1 140.1h0M276.0 140.2h0M276.5 140.5h0M279.5 140.4h0M280.2 140.6h0M281.9 140.8h0" stroke="#ff1414" stroke-width="1.25" stroke-linecap="round" fill="none"/>
<path d="M242 129.5h1M253 129.5h1M241 130.5h2M253 130.5h2M240 131.5h3M253 131.5h2M240 132.5h3M253 132.5h3M239 133.5h4M253 133.5h4M238 134.5h5M253 134.5h5M238 135.5h5M253 135.5h5M237 136.5h6M253 136.5h5M237 137.5h6M253 137.5h6M237 138.5h6M253 138.5h6M236 139.5h7M253 139.5h6M236 140.5h7M253 140.5h7" stroke="#ff1010" stroke-width="1" fill="none"/>
<path d="M260.3 39.2h0M264.6 38.8h0M267.7 38.8h0M266.2 53.5h0M270.0 53.8h0M276.2 55.1h0M275.7 61.8h0M264.2 67.7h0M266.5 73.1h0M275.4 72.0h0M278.2 73.4h0M276.9 74.6h0M269.2 76.9h0M288.8 76.5h0M258.5 81.2h0M263.4 83.8h0M270.0 85.8h0M277.2 87.7h0M242.0 83.1h0M236.2 84.6h0M239.7 89.7h0M280.3 92.3h0M284.6 83.8h0M212.4 78.3h0M210.9 80.3h0M214.2 90.6h0M216.1 95.9h0M221.1 94.9h0M218.5 100.5h0M219.6 104.6h0M226.9 98.7h0M229.5 101.3h0M231.8 97.5h0M236.4 84.5h0M239.9 89.8h0M241.7 83.2h0M215.0 107.9h0M208.1 113.5h0M212.4 115.0h0M216.5 117.0h0M289.4 90.9h0M258.4 92.9h0M261.0 94.0h0M266.8 92.1h0M268.3 94.9h0M280.3 92.6h0M274.9 97.0h0M259.2 101.3h0M265.3 100.1h0M272.9 100.5h0M278.3 104.3h0M285.5 100.1h0M299.2 105.9h0M320.0 114.6h0M303.8 112.8h0" stroke="#ff1414" stroke-width="1.25" stroke-linecap="round" fill="none"/>
<path d="M243.1 124.7L243.1 140.6L248.2 140.6L244.3 124.7Z M253.0 123.0L253.0 140.6L248.2 140.6L251.9 123.0Z" fill="#4560c2"/>
<circle cx="244.6" cy="121.5" r="0.6" fill="#5b6fd0"/><circle cx="245.2" cy="118.0" r="0.6" fill="#5b6fd0"/><circle cx="252.0" cy="120.0" r="0.6" fill="#5b6fd0"/><circle cx="251.3" cy="117.5" r="0.6" fill="#5b6fd0"/><circle cx="244.2" cy="119.5" r="0.6" fill="#5b6fd0"/>
<path d="M236 140.8H243M253 140.8H262" stroke="#2a9a2a" stroke-width="0.9"/>
<path d="M243 140.9H253" stroke="#111" stroke-width="1.1"/>
<circle cx="188.6" cy="38.8" r="1.2" fill="#7a0010"/><circle cx="289.5" cy="85.4" r="1.2" fill="#7a0010"/><circle cx="282.7" cy="101.9" r="1.2" fill="#7a0010"/><circle cx="231.2" cy="112.1" r="1.2" fill="#7a0010"/><circle cx="198.6" cy="131.6" r="1.2" fill="#7a0010"/><circle cx="258.7" cy="137.1" r="1.2" fill="#7a0010"/><circle cx="238.0" cy="136.5" r="1.2" fill="#7a0010"/>
<path d="M229 140.2L239 134.4M259.2 132.3V138" stroke="#222" stroke-width="0.5"/>
</g>
<rect x="176.9" y="31.8" width="149.6" height="114.2" fill="none" stroke="#111" stroke-width="1.3"/>
<line x1="174.20000000000002" y1="140.8" x2="176.9" y2="140.8" stroke="#111" stroke-width="0.9"/>
<text x="172.6" y="143.20000000000002" font-size="6.8" text-anchor="end" fill="#222" stroke="#222" stroke-width="0.05">0</text>
<line x1="174.20000000000002" y1="106.7" x2="176.9" y2="106.7" stroke="#111" stroke-width="0.9"/>
<text x="172.6" y="109.10000000000002" font-size="6.8" text-anchor="end" fill="#222" stroke="#222" stroke-width="0.05">100</text>
<line x1="174.20000000000002" y1="72.6" x2="176.9" y2="72.6" stroke="#111" stroke-width="0.9"/>
<text x="172.6" y="75.00000000000001" font-size="6.8" text-anchor="end" fill="#222" stroke="#222" stroke-width="0.05">200</text>
<line x1="174.20000000000002" y1="38.5" x2="176.9" y2="38.5" stroke="#111" stroke-width="0.9"/>
<text x="172.6" y="40.9" font-size="6.8" text-anchor="end" fill="#222" stroke="#222" stroke-width="0.05">300</text>
<line x1="175.3" y1="123.8" x2="176.9" y2="123.8" stroke="#111" stroke-width="0.8"/>
<line x1="175.3" y1="89.7" x2="176.9" y2="89.7" stroke="#111" stroke-width="0.8"/>
<line x1="175.3" y1="55.6" x2="176.9" y2="55.6" stroke="#111" stroke-width="0.8"/>
<line x1="199.8" y1="146.0" x2="199.8" y2="148.6" stroke="#111" stroke-width="0.9"/>
<text x="199.8" y="157.6" font-size="6.9" text-anchor="middle" fill="#222" stroke="#222" stroke-width="0.05">-10</text>
<line x1="223.9" y1="146.0" x2="223.9" y2="148.6" stroke="#111" stroke-width="0.9"/>
<text x="223.9" y="157.6" font-size="6.9" text-anchor="middle" fill="#222" stroke="#222" stroke-width="0.05">-5</text>
<line x1="248.0" y1="146.0" x2="248.0" y2="148.6" stroke="#111" stroke-width="0.9"/>
<text x="248.0" y="157.6" font-size="6.9" text-anchor="middle" fill="#222" stroke="#222" stroke-width="0.05">0</text>
<line x1="272.1" y1="146.0" x2="272.1" y2="148.6" stroke="#111" stroke-width="0.9"/>
<text x="272.1" y="157.6" font-size="6.9" text-anchor="middle" fill="#222" stroke="#222" stroke-width="0.05">5</text>
<line x1="296.2" y1="146.0" x2="296.2" y2="148.6" stroke="#111" stroke-width="0.9"/>
<text x="296.2" y="157.6" font-size="6.9" text-anchor="middle" fill="#222" stroke="#222" stroke-width="0.05">10</text>
<line x1="320.3" y1="146.0" x2="320.3" y2="148.6" stroke="#111" stroke-width="0.9"/>
<text x="320.3" y="157.6" font-size="6.9" text-anchor="middle" fill="#222" stroke="#222" stroke-width="0.05">15</text>
<line x1="187.8" y1="146.0" x2="187.8" y2="147.5" stroke="#111" stroke-width="0.8"/>
<line x1="211.8" y1="146.0" x2="211.8" y2="147.5" stroke="#111" stroke-width="0.8"/>
<line x1="235.9" y1="146.0" x2="235.9" y2="147.5" stroke="#111" stroke-width="0.8"/>
<line x1="260.1" y1="146.0" x2="260.1" y2="147.5" stroke="#111" stroke-width="0.8"/>
<line x1="284.1" y1="146.0" x2="284.1" y2="147.5" stroke="#111" stroke-width="0.8"/>
<line x1="308.2" y1="146.0" x2="308.2" y2="147.5" stroke="#111" stroke-width="0.8"/>
<text x="251.5" y="27.0" font-size="7.4" text-anchor="middle" fill="#222" stroke="#222" stroke-width="0.22" textLength="73" lengthAdjust="spacingAndGlyphs">Patient versus HUDEP1</text>
<text x="252.0" y="169.0" font-size="7.6" text-anchor="middle" fill="#111" textLength="48" lengthAdjust="spacingAndGlyphs" stroke="#111" stroke-width="0.18">Fold-change (2log)</text>
<text x="154.6" y="88.9" font-size="7.6" text-anchor="middle" fill="#111" stroke="#111" stroke-width="0.32" transform="rotate(-90 154.6 88.9)" textLength="41.3" lengthAdjust="spacingAndGlyphs"><tspan font-style="italic">p</tspan>-value (-10log)</text>
<text x="189" y="37.2" font-size="4.2" text-anchor="middle" fill="#333" stroke="#333" stroke-width="0.22">HBZ</text>
<text x="231.5" y="110.3" font-size="4.2" text-anchor="middle" fill="#333" stroke="#333" stroke-width="0.22">HBE1</text>
<text x="290.4" y="84.0" font-size="4.2" text-anchor="middle" fill="#333" stroke="#333" stroke-width="0.22">HBB</text>
<text x="282.7" y="100.3" font-size="4.2" text-anchor="middle" fill="#333" stroke="#333" stroke-width="0.22">RBD</text>
<text x="199" y="130.3" font-size="4.2" text-anchor="middle" fill="#333" stroke="#333" stroke-width="0.22">UN39B</text>
<text x="259.2" y="131.8" font-size="4.2" text-anchor="middle" fill="#333" stroke="#333" stroke-width="0.22">MYC</text>
<text x="230.8" y="145.5" font-size="4.2" text-anchor="middle" fill="#333" stroke="#333" stroke-width="0.22">HBG2 HBG1</text>
<text x="264.7" y="145.5" font-size="4.2" text-anchor="middle" fill="#333" stroke="#333" stroke-width="0.22">BCL11A</text>
<clipPath id="clip12"><rect x="364.7" y="31.8" width="149.50000000000006" height="114.2"/></clipPath>
<rect x="364.7" y="31.8" width="149.50000000000006" height="114.2" fill="#fff"/>
<path d="M368.6 31.8V146.0M382.4 31.8V146.0M396.2 31.8V146.0M410.1 31.8V146.0M423.9 31.8V146.0M437.8 31.8V146.0M451.7 31.8V146.0M465.5 31.8V146.0M479.4 31.8V146.0M493.2 31.8V146.0M507.1 31.8V146.0M364.7 130.0H514.2M364.7 119.2H514.2M364.7 108.3H514.2M364.7 97.5H514.2M364.7 86.7H514.2M364.7 75.9H514.2M364.7 65.1H514.2M364.7 54.2H514.2M364.7 43.4H514.2M364.7 32.6H514.2" stroke="#e6e6dc" stroke-width="0.7" fill="none"/>
<line x1="432.3" y1="31.8" x2="432.3" y2="146.0" stroke="#666" stroke-width="0.5" stroke-dasharray="1 0.8"/>
<line x1="443.3" y1="31.8" x2="443.3" y2="146.0" stroke="#666" stroke-width="0.5" stroke-dasharray="1 0.8"/>
<line x1="364.7" y1="140.8" x2="514.2" y2="140.8" stroke="#888" stroke-width="0.5" stroke-dasharray="1 0.8"/>
<g clip-path="url(#clip12)">
<path d="M448.9 53.2h0M420.5 64.0h0M453.1 75.7h0M413.9 89.8h0M463.9 97.8h0M415.5 98.4h0M421.5 100.0h0M423.7 99.1h0M455.9 99.0h0M468.3 102.7h0M413.1 103.4h0M419.6 103.3h0M402.9 104.6h0M459.4 104.8h0M419.4 105.4h0M400.0 107.4h0M413.0 107.7h0M449.1 107.2h0M403.9 109.2h0M415.9 109.8h0M420.2 109.3h0M429.1 109.6h0M448.1 109.2h0M453.7 109.4h0M456.4 109.5h0M464.2 109.8h0M443.7 111.0h0M408.6 111.8h0M408.7 111.8h0M425.1 111.5h0M449.4 111.4h0M465.2 111.8h0M467.9 111.0h0M410.3 112.2h0M425.9 112.5h0M426.7 112.5h0M428.9 112.9h0M429.3 112.4h0M444.3 112.2h0M446.5 112.7h0M453.8 112.4h0M461.3 112.0h0M467.1 112.7h0M467.8 112.7h0M467.9 113.0h0M410.6 113.0h0M418.0 113.6h0M421.4 113.4h0M443.5 113.8h0M444.9 113.6h0M447.0 113.6h0M452.6 114.0h0M453.3 113.7h0M456.5 113.1h0M466.2 113.7h0M416.3 114.9h0M422.1 114.9h0M425.2 114.5h0M429.8 114.5h0M445.6 114.5h0M454.4 114.5h0M456.2 114.1h0M463.0 114.1h0M464.8 114.9h0M404.9 115.6h0M412.1 116.0h0M430.6 115.8h0M444.7 115.4h0M453.9 115.1h0M454.7 115.1h0M471.4 115.2h0M403.8 116.9h0M411.9 116.4h0M413.8 117.0h0M423.3 116.1h0M426.1 116.1h0M427.3 116.4h0M428.6 116.8h0M428.5 116.6h0M430.6 116.7h0M458.5 116.2h0M464.7 116.2h0M474.8 116.0h0M401.5 117.9h0M406.9 117.4h0M412.7 117.9h0M418.7 117.1h0M419.0 117.0h0M424.8 117.7h0M449.8 117.9h0M459.5 117.3h0M461.5 117.5h0M466.6 117.5h0M472.3 117.6h0M415.4 118.3h0M418.2 118.4h0M427.2 118.2h0M427.8 118.3h0M427.4 118.2h0M427.5 118.3h0M444.0 118.3h0M444.6 118.3h0M446.9 118.2h0M447.8 118.3h0M450.5 118.2h0M450.9 118.7h0M454.0 119.0h0M454.7 118.0h0M459.4 118.7h0M463.8 118.4h0M464.9 118.1h0M466.7 118.7h0M402.0 119.5h0M407.1 119.2h0M408.8 119.3h0M415.0 119.5h0M420.5 119.2h0M426.5 119.2h0M427.7 119.1h0M428.3 119.1h0M431.6 119.2h0M445.4 119.1h0M448.8 119.5h0M458.8 119.8h0M464.2 119.2h0M464.1 119.7h0M466.4 119.1h0M468.0 119.3h0M471.0 119.8h0M405.6 120.8h0M415.3 120.9h0M420.8 120.6h0M429.3 120.8h0M430.2 120.8h0M443.7 120.6h0M443.7 120.8h0M446.3 120.3h0M448.9 120.5h0M449.6 120.7h0M449.4 120.4h0M450.2 120.5h0M451.4 120.3h0M451.3 120.7h0M452.4 120.5h0M461.5 120.6h0M463.5 120.2h0M471.7 120.1h0M471.6 120.2h0M475.7 120.3h0M475.7 120.5h0M482.3 120.1h0M377.5 121.6h0M403.1 122.0h0M407.4 121.3h0M417.3 121.4h0M418.8 121.3h0M419.5 121.8h0M426.3 121.8h0M427.9 121.3h0M444.0 121.3h0M445.4 121.0h0M445.1 121.0h0M446.5 121.0h0M447.5 121.5h0M448.5 121.7h0M449.7 121.9h0M450.2 121.3h0M451.2 121.2h0M453.3 121.5h0M455.8 121.6h0M457.7 121.5h0M462.5 121.1h0M463.0 121.4h0M462.3 121.3h0M463.6 121.6h0M463.8 121.2h0M463.3 121.1h0M464.3 121.2h0M464.3 121.8h0M465.8 121.8h0M478.7 121.1h0M402.5 122.4h0M402.4 122.7h0M408.4 122.8h0M409.2 122.8h0M410.9 122.2h0M411.8 122.9h0M414.6 122.6h0M416.5 122.2h0M417.6 122.4h0M417.7 122.6h0M419.8 123.0h0M420.8 122.6h0M421.4 122.8h0M422.3 122.6h0M424.0 122.8h0M426.4 122.3h0M427.3 122.9h0M428.2 122.6h0M431.1 122.8h0M431.7 122.2h0M443.6 122.9h0M444.2 122.7h0M449.9 122.5h0M452.5 122.5h0M452.6 122.5h0M453.6 122.1h0M454.3 122.4h0M465.8 122.6h0M466.5 122.6h0M402.3 123.6h0M403.3 123.9h0M416.3 123.9h0M417.3 123.5h0M423.2 123.3h0M424.1 123.7h0M426.8 123.1h0M427.5 123.6h0M427.3 123.5h0M429.1 123.9h0M431.6 123.0h0M431.6 123.2h0M443.5 124.0h0M445.1 123.7h0M446.9 123.6h0M449.6 123.8h0M449.0 123.9h0M450.5 123.5h0M450.4 123.4h0M450.4 123.5h0M452.5 123.1h0M452.5 123.2h0M453.7 123.9h0M453.1 123.9h0M454.7 123.9h0M455.8 123.3h0M455.5 123.7h0M456.5 123.3h0M456.4 123.8h0M457.1 124.0h0M460.4 123.3h0M460.6 123.4h0M463.1 123.5h0M464.9 123.7h0M465.2 123.6h0M465.2 123.5h0M465.0 123.6h0M466.6 123.8h0M467.0 123.2h0M474.7 123.3h0M477.4 123.4h0M389.1 124.9h0M396.3 124.7h0M408.5 124.9h0M411.2 124.9h0M413.2 124.3h0M414.5 124.6h0M423.8 124.7h0M424.0 124.4h0M425.8 124.8h0M427.0 124.8h0M429.5 124.7h0M429.0 124.2h0M430.5 124.3h0M430.6 125.0h0M431.6 124.8h0M431.3 124.3h0M444.9 124.4h0M444.7 124.7h0M444.3 124.4h0M445.4 124.6h0M445.9 124.9h0M446.5 124.0h0M447.5 124.2h0M447.8 124.4h0M448.4 124.3h0M448.1 124.1h0M448.9 124.1h0M449.1 124.5h0M449.9 124.5h0M450.6 124.8h0M450.8 124.2h0M452.4 124.6h0M453.0 124.5h0M454.8 124.4h0M457.8 124.1h0M458.4 124.0h0M458.2 124.5h0M459.6 124.3h0M460.1 124.3h0M460.7 124.3h0M461.6 124.2h0M461.0 124.5h0M462.6 124.1h0M465.2 124.7h0M466.3 124.6h0M467.0 124.6h0M474.9 124.3h0M474.0 124.1h0M475.3 124.4h0M394.3 125.4h0M404.5 125.7h0M404.1 125.6h0M409.0 125.9h0M411.3 125.4h0M412.9 125.0h0M413.3 125.6h0M414.5 125.6h0M421.8 125.1h0M421.6 125.1h0M427.4 125.6h0M427.2 125.8h0M428.5 125.5h0M428.5 125.8h0M431.6 125.6h0M443.8 125.9h0M447.2 125.0h0M448.8 125.8h0M449.3 125.3h0M449.1 125.1h0M450.3 125.0h0M451.5 125.7h0M451.4 125.3h0M452.8 126.0h0M453.2 125.8h0M453.4 125.9h0M454.3 125.7h0M455.4 125.3h0M457.6 125.0h0M458.6 125.0h0M459.7 125.8h0M459.9 125.2h0M459.8 125.8h0M460.5 125.0h0M462.7 125.1h0M463.3 125.4h0M464.8 125.2h0M465.6 125.2h0M467.6 125.8h0M467.9 125.5h0M468.1 125.8h0M470.6 125.4h0M471.8 125.4h0M472.0 125.8h0M476.5 125.8h0M477.4 125.8h0M396.4 126.3h0M399.7 126.5h0M409.6 126.7h0M412.0 126.6h0M411.1 126.6h0M414.9 126.8h0M418.4 126.3h0M419.7 126.7h0M420.3 126.4h0M420.7 126.5h0M424.3 126.7h0M424.5 126.7h0M427.3 126.0h0M428.9 126.8h0M428.7 126.7h0M429.2 126.5h0M429.5 126.8h0M429.5 126.3h0M430.7 126.1h0M430.5 126.9h0M431.5 126.4h0M431.5 126.2h0M431.7 126.0h0M431.9 126.4h0M443.7 126.1h0M443.0 126.5h0M444.5 126.9h0M444.6 126.6h0M444.4 126.5h0M446.9 126.1h0M446.1 126.3h0M447.4 126.6h0M448.2 126.6h0M448.6 126.9h0M449.4 126.2h0M451.1 126.8h0M453.3 126.3h0M454.0 126.6h0M454.7 126.1h0M454.5 126.5h0M455.8 126.8h0M457.9 126.1h0M459.2 126.5h0M460.1 127.0h0M460.1 126.7h0M462.2 126.7h0M462.8 127.0h0M465.2 126.8h0M466.8 127.0h0M467.5 126.2h0M468.0 126.2h0M467.3 126.0h0M467.0 126.8h0M469.8 126.8h0M471.5 126.2h0M473.5 126.8h0M395.7 127.4h0M396.5 127.9h0M397.4 127.6h0M403.8 127.9h0M406.3 127.5h0M409.5 128.0h0M409.3 127.6h0M409.4 127.9h0M410.6 128.0h0M416.0 127.2h0M417.5 127.8h0M419.2 127.9h0M420.2 127.2h0M420.5 127.5h0M422.2 127.0h0M423.4 127.2h0M424.8 127.0h0M425.6 127.8h0M425.2 127.3h0M425.6 127.6h0M427.2 127.7h0M429.0 127.4h0M428.9 127.2h0M428.2 127.3h0M429.8 127.6h0M430.8 127.9h0M430.8 127.1h0M430.5 127.3h0M430.2 127.7h0M431.0 127.8h0M431.2 127.0h0M443.2 127.4h0M443.4 127.1h0M444.4 127.7h0M444.0 127.9h0M445.7 127.9h0M445.5 127.5h0M445.3 127.0h0M446.5 127.7h0M446.1 127.4h0M446.4 127.7h0M447.5 127.1h0M450.0 127.1h0M449.4 127.1h0M449.0 127.7h0M450.7 127.1h0M450.7 128.0h0M451.7 127.1h0M451.9 127.8h0M451.2 127.9h0M451.8 127.6h0M452.4 127.2h0M452.8 127.9h0M452.5 127.2h0M454.1 127.8h0M454.2 127.1h0M456.6 127.5h0M457.6 127.2h0M458.6 127.4h0M459.8 127.2h0M459.6 127.1h0M460.2 127.8h0M461.2 127.6h0M461.7 127.4h0M464.9 127.3h0M465.7 127.5h0M466.0 127.0h0M466.5 127.5h0M468.8 127.8h0M468.6 127.7h0M470.9 127.1h0M471.6 127.1h0M472.0 127.7h0M471.9 127.1h0M471.2 127.8h0M473.6 127.2h0M476.7 127.9h0M476.3 127.6h0M476.9 128.0h0M478.7 127.5h0M393.6 128.7h0M399.9 128.4h0M404.0 128.3h0M416.8 128.8h0M416.6 128.5h0M419.9 128.7h0M421.2 128.3h0M423.5 128.2h0M426.7 128.9h0M427.0 128.7h0M428.5 128.9h0M428.7 128.6h0M428.4 128.9h0M428.3 129.0h0M428.3 128.9h0M429.7 128.0h0M431.4 128.3h0M431.5 128.5h0M443.3 128.2h0M443.9 128.9h0M444.1 128.4h0M444.3 128.3h0M444.3 128.2h0M444.1 128.0h0M444.8 128.3h0M444.8 128.9h0M445.9 128.9h0M445.4 128.3h0M445.9 128.3h0M445.7 128.9h0M445.2 128.3h0M445.2 128.2h0M446.9 128.6h0M446.0 128.2h0M446.7 128.8h0M447.9 128.9h0M448.6 128.3h0M449.6 128.5h0M449.9 128.8h0M451.5 128.6h0M452.0 128.7h0M454.0 128.9h0M453.5 128.5h0M456.0 128.4h0M455.2 128.4h0M455.5 128.2h0M456.0 128.9h0M456.1 128.8h0M457.5 128.6h0M458.1 128.4h0M460.9 128.2h0M462.8 128.9h0M462.8 128.8h0M463.3 128.1h0M463.6 128.6h0M463.6 128.5h0M464.6 128.8h0M466.5 128.2h0M466.1 128.9h0M466.7 128.6h0M467.5 128.9h0M467.0 128.6h0M468.4 128.5h0M470.8 128.5h0M470.1 128.1h0M471.8 128.3h0M473.3 128.7h0M474.6 128.3h0M475.7 128.5h0M475.5 128.2h0M478.0 129.0h0M480.6 128.4h0M482.1 128.6h0M487.3 128.8h0M386.9 129.6h0M395.5 129.6h0M398.8 129.6h0M400.6 129.3h0M401.2 129.7h0M408.7 129.2h0M411.8 129.8h0M411.1 129.8h0M412.7 129.0h0M413.0 129.2h0M415.5 129.8h0M415.0 129.0h0M418.7 129.3h0M419.9 129.9h0M419.8 129.2h0M420.3 129.5h0M423.4 129.4h0M424.4 129.4h0M425.0 129.4h0M425.4 129.4h0M426.3 129.4h0M427.8 129.4h0M427.6 130.0h0M427.2 129.2h0M427.6 129.8h0M427.4 129.1h0M428.7 129.8h0M428.7 129.7h0M430.4 129.4h0M430.6 129.7h0M430.5 129.5h0M430.8 129.1h0M431.7 129.5h0M431.8 129.5h0M444.3 129.8h0M444.4 129.5h0M444.4 129.0h0M445.6 129.3h0M445.5 129.1h0M445.5 129.1h0M446.1 129.3h0M446.0 129.9h0M446.9 129.3h0M447.1 129.4h0M447.6 129.7h0M447.2 129.1h0M448.0 129.1h0M448.5 129.8h0M448.2 129.3h0M448.1 129.5h0M448.5 129.7h0M449.3 129.5h0M450.2 129.0h0M451.9 129.6h0M452.8 129.8h0M452.9 129.1h0M452.6 129.5h0M453.1 130.0h0M454.7 129.2h0M454.9 129.8h0M455.9 129.2h0M456.9 129.8h0M457.3 129.5h0M457.2 129.5h0M457.1 129.4h0M458.6 129.5h0M458.3 129.8h0M459.8 129.2h0M460.1 129.9h0M460.9 129.4h0M460.9 129.4h0M462.8 129.8h0M463.7 129.8h0M463.2 129.6h0M464.9 129.0h0M464.2 129.8h0M465.9 129.2h0M466.8 129.8h0M466.3 129.2h0M467.0 129.6h0M466.7 129.6h0M469.8 129.7h0M471.3 129.8h0M472.0 129.9h0M473.9 129.4h0M474.9 129.1h0M478.7 129.9h0M480.2 129.2h0M486.2 129.1h0M384.6 130.4h0M385.5 130.3h0M397.3 130.2h0M398.9 130.4h0M400.7 130.7h0M401.6 130.3h0M404.5 130.8h0M404.1 130.3h0M409.6 130.7h0M409.8 130.1h0M410.3 130.2h0M411.8 130.3h0M412.1 130.7h0M414.5 130.2h0M418.0 130.5h0M419.2 130.7h0M419.5 130.0h0M419.2 130.8h0M419.5 130.6h0M420.8 130.7h0M420.4 130.8h0M422.6 130.2h0M425.8 130.2h0M425.7 130.5h0M425.6 130.0h0M426.5 130.1h0M427.8 130.8h0M428.0 130.9h0M429.4 130.8h0M429.5 130.3h0M430.0 130.4h0M431.6 130.5h0M431.3 130.8h0M447.0 130.6h0M446.9 130.3h0M447.9 131.0h0M449.0 130.9h0M448.4 130.7h0M448.8 130.3h0M449.5 130.1h0M451.1 130.1h0M451.0 130.5h0M451.1 130.8h0M451.7 130.6h0M451.9 130.2h0M451.2 130.2h0M452.5 130.6h0M453.4 130.7h0M453.7 130.3h0M455.6 130.6h0M456.0 130.1h0M455.2 130.7h0M456.2 130.8h0M456.6 130.7h0M456.2 130.7h0M457.9 131.0h0M457.0 130.5h0M457.6 130.5h0M457.6 130.6h0M458.3 130.0h0M459.5 130.5h0M460.2 130.6h0M461.4 130.4h0M462.7 130.5h0M464.3 130.2h0M466.6 130.9h0M466.9 130.0h0M467.3 130.2h0M467.5 130.6h0M467.4 130.6h0M467.3 130.5h0M468.6 130.4h0M470.7 130.1h0M470.1 130.5h0M471.5 130.1h0M472.0 130.7h0M471.4 130.1h0M472.9 130.2h0M472.9 130.6h0M473.6 130.6h0M473.8 130.1h0M477.6 130.2h0M478.3 130.4h0M478.8 130.1h0M478.6 130.7h0M484.0 130.1h0M484.0 131.0h0M486.7 130.6h0M486.2 130.3h0M488.9 130.9h0M494.7 130.3h0M384.6 131.4h0M391.0 131.8h0M395.9 131.3h0M397.8 131.5h0M403.0 131.6h0M405.9 131.4h0M407.1 131.4h0M407.2 131.4h0M410.9 131.9h0M411.2 131.7h0M418.2 131.7h0M420.8 131.7h0M420.3 131.4h0M421.4 131.4h0M421.1 132.0h0M422.1 131.3h0M423.8 131.4h0M423.5 131.8h0M424.8 131.8h0M424.3 131.4h0M425.7 131.1h0M426.0 131.1h0M426.5 131.7h0M427.4 131.8h0M427.9 131.0h0M430.3 131.5h0M430.8 131.0h0M447.8 131.8h0M447.6 131.1h0M447.3 131.7h0M447.3 131.7h0M447.5 131.6h0M448.0 131.0h0M447.4 131.8h0M448.6 131.1h0M448.1 131.6h0M450.3 131.7h0M450.9 131.3h0M450.8 131.6h0M451.1 131.2h0M451.3 131.5h0M451.6 131.3h0M451.6 131.8h0M451.7 131.5h0M452.0 131.9h0M452.4 131.4h0M453.5 131.0h0M453.2 131.5h0M454.8 131.4h0M455.9 131.2h0M455.1 131.0h0M457.0 131.3h0M456.3 131.5h0M458.9 131.1h0M459.9 131.6h0M459.2 131.1h0M460.0 131.9h0M460.6 131.6h0M461.1 131.4h0M461.5 131.8h0M463.5 131.4h0M463.2 131.7h0M464.6 131.1h0M465.6 131.9h0M466.3 131.3h0M466.6 131.6h0M467.6 131.1h0M467.1 132.0h0M469.4 131.9h0M469.6 131.6h0M469.2 131.7h0M471.3 131.2h0M471.1 131.7h0M472.1 131.3h0M472.1 131.7h0M472.8 131.7h0M473.9 131.4h0M473.9 131.4h0M473.6 131.1h0M475.1 131.8h0M482.3 131.5h0M482.1 131.2h0M482.1 131.3h0M482.2 131.9h0M484.3 131.4h0M487.7 131.0h0M490.0 131.8h0M372.7 132.1h0M379.4 132.8h0M383.7 132.3h0M385.6 132.5h0M393.0 132.2h0M394.1 132.5h0M397.8 132.6h0M397.9 133.0h0M398.0 132.6h0M400.0 132.7h0M400.8 132.3h0M400.4 132.8h0M401.7 132.5h0M401.9 132.2h0M405.1 132.5h0M408.8 132.3h0M408.8 132.5h0M408.2 132.7h0M408.7 132.3h0M410.0 132.1h0M412.1 132.8h0M413.2 132.8h0M413.4 132.4h0M415.1 132.9h0M417.5 132.3h0M418.4 132.8h0M418.1 132.6h0M418.4 132.8h0M421.3 132.5h0M421.8 132.7h0M422.8 132.6h0M424.0 132.5h0M425.9 132.0h0M426.2 132.5h0M426.6 132.6h0M427.9 132.1h0M427.4 132.3h0M428.3 132.9h0M429.5 133.0h0M429.3 132.7h0M431.0 132.0h0M430.2 132.1h0M430.9 132.6h0M448.7 132.1h0M448.3 133.0h0M448.3 132.1h0M449.5 132.3h0M449.1 132.0h0M450.0 132.5h0M450.1 132.8h0M450.2 132.6h0M450.8 132.8h0M450.8 132.2h0M451.0 132.8h0M451.2 132.4h0M451.7 132.3h0M452.1 132.9h0M452.2 133.0h0M453.4 132.7h0M453.9 132.1h0M453.6 132.1h0M453.6 132.9h0M453.8 132.7h0M454.9 133.0h0M454.1 132.9h0M455.8 132.7h0M456.3 132.9h0M456.1 132.2h0M456.5 132.8h0M456.4 132.6h0M457.9 132.7h0M457.3 132.6h0M458.6 132.1h0M458.1 132.7h0M459.7 132.4h0M459.7 132.2h0M460.6 132.7h0M460.1 132.6h0M460.5 132.8h0M461.7 132.3h0M461.3 132.4h0M461.8 133.0h0M462.0 132.2h0M462.4 132.7h0M463.9 133.0h0M463.6 132.3h0M464.0 133.0h0M465.1 132.4h0M465.2 132.0h0M466.4 132.1h0M466.7 132.7h0M467.3 132.1h0M468.3 132.1h0M470.4 132.2h0M471.8 132.3h0M471.3 132.7h0M471.8 132.3h0M472.6 132.0h0M474.8 132.1h0M475.5 132.3h0M475.2 132.7h0M475.3 132.8h0M477.8 132.4h0M481.8 132.4h0M483.8 132.3h0M484.5 132.1h0M487.7 132.2h0M387.8 133.9h0M390.1 133.8h0M391.0 133.1h0M395.5 133.4h0M396.4 133.1h0M396.6 133.4h0M397.9 133.3h0M400.3 133.1h0M402.8 133.1h0M404.1 133.6h0M408.0 133.9h0M408.1 133.7h0M409.5 133.1h0M410.2 133.2h0M411.6 133.9h0M411.7 133.2h0M411.4 133.6h0M414.2 133.3h0M414.3 133.1h0M416.0 134.0h0M415.0 133.8h0M415.8 133.1h0M416.4 133.7h0M416.3 133.5h0M416.1 133.4h0M416.7 134.0h0M418.0 133.2h0M418.7 133.5h0M419.8 133.2h0M419.9 133.9h0M419.7 133.1h0M419.3 133.9h0M421.2 133.1h0M424.3 133.8h0M424.8 133.8h0M425.3 133.0h0M425.3 133.6h0M426.6 133.4h0M426.3 133.5h0M426.8 133.6h0M426.3 133.1h0M427.4 133.9h0M429.3 133.7h0M450.2 133.3h0M450.6 133.3h0M450.5 133.3h0M451.3 133.2h0M451.9 133.8h0M451.2 133.8h0M452.3 133.7h0M452.2 133.5h0M452.9 133.1h0M453.5 133.5h0M453.9 133.4h0M453.4 133.0h0M454.5 133.1h0M454.6 133.6h0M455.9 133.5h0M455.1 133.4h0M455.1 133.6h0M455.6 133.0h0M456.2 133.7h0M456.7 133.6h0M456.2 133.2h0M456.6 133.6h0M456.7 133.7h0M457.8 133.0h0M457.7 133.2h0M458.6 133.2h0M458.9 133.3h0M458.6 134.0h0M459.8 133.7h0M460.7 133.4h0M460.8 133.9h0M461.7 133.0h0M462.0 133.5h0M463.9 133.8h0M463.1 133.7h0M466.3 133.7h0M468.0 133.7h0M467.3 133.3h0M470.4 133.2h0M470.1 133.2h0M470.2 133.8h0M472.1 133.3h0M474.9 133.9h0M475.6 133.8h0M475.8 133.2h0M476.0 133.9h0M477.2 133.8h0M479.0 133.6h0M480.2 133.8h0M486.0 133.1h0M378.3 134.1h0M378.1 134.4h0M379.8 134.3h0M392.3 134.6h0M392.4 134.2h0M396.3 134.1h0M396.6 134.1h0M397.7 134.4h0M399.1 134.4h0M399.9 134.2h0M399.2 135.0h0M400.4 135.0h0M403.0 134.4h0M406.3 134.7h0M407.7 134.6h0M407.4 134.2h0M407.9 134.3h0M413.5 134.8h0M415.9 134.6h0M416.0 134.6h0M416.3 134.5h0M417.9 134.1h0M418.4 134.6h0M418.0 134.7h0M418.6 134.6h0M418.9 134.5h0M419.7 134.1h0M419.4 134.2h0M420.2 134.1h0M420.6 134.5h0M422.2 134.9h0M422.1 134.2h0M423.3 134.5h0M423.6 134.0h0M424.4 134.7h0M424.9 134.5h0M426.0 134.7h0M427.8 134.4h0M429.0 134.9h0M451.4 134.6h0M451.0 134.7h0M452.7 135.0h0M453.5 134.6h0M453.6 134.7h0M453.9 134.7h0M454.5 134.9h0M454.4 134.3h0M454.1 134.3h0M455.2 134.6h0M455.0 134.2h0M455.9 134.3h0M456.2 134.4h0M456.7 134.7h0M457.0 134.5h0M456.3 134.8h0M456.1 134.5h0M457.3 134.8h0M458.3 134.7h0M458.3 134.4h0M461.1 134.9h0M461.0 134.4h0M462.5 134.3h0M464.1 134.2h0M464.5 134.5h0M465.0 134.3h0M465.9 134.6h0M467.4 134.8h0M467.2 134.8h0M467.3 134.9h0M467.1 134.5h0M469.8 134.5h0M470.3 134.0h0M471.5 134.6h0M471.9 134.5h0M473.3 134.9h0M474.0 134.4h0M475.0 134.5h0M475.1 134.1h0M475.0 134.1h0M476.0 134.6h0M476.8 134.3h0M477.2 134.6h0M479.6 134.0h0M484.0 134.9h0M484.5 134.1h0M486.2 134.7h0M486.8 134.3h0M489.0 134.8h0M491.4 134.5h0M373.8 135.3h0M379.4 135.1h0M382.0 135.9h0M388.9 135.6h0M389.9 135.3h0M391.6 135.4h0M392.9 135.0h0M397.6 135.4h0M400.6 135.5h0M404.3 135.5h0M406.6 135.7h0M406.2 135.7h0M407.4 136.0h0M407.1 135.5h0M408.3 135.3h0M409.9 135.0h0M410.7 135.6h0M412.2 135.9h0M414.7 135.7h0M420.7 135.1h0M421.1 135.6h0M422.5 135.9h0M422.7 135.7h0M422.1 135.8h0M423.0 135.1h0M423.3 135.8h0M424.3 135.3h0M425.3 135.6h0M426.5 135.5h0M426.7 135.6h0M426.1 135.1h0M426.5 135.7h0M427.3 135.5h0M427.2 135.2h0M427.9 135.2h0M427.5 135.3h0M428.8 136.0h0M428.6 135.1h0M452.8 135.1h0M452.4 135.1h0M452.4 135.9h0M452.1 135.6h0M452.3 135.1h0M452.5 135.6h0M453.5 135.3h0M453.3 135.2h0M453.9 135.1h0M454.7 135.5h0M455.0 135.7h0M455.1 135.8h0M458.9 135.3h0M459.1 135.1h0M461.8 135.5h0M461.8 135.3h0M461.5 135.4h0M461.7 135.4h0M461.5 135.6h0M461.6 135.8h0M463.1 135.9h0M464.1 135.1h0M465.0 135.9h0M465.6 136.0h0M466.4 135.8h0M467.3 135.6h0M469.7 135.9h0M470.3 135.9h0M471.9 135.5h0M471.6 135.3h0M472.5 135.7h0M474.7 135.4h0M476.1 135.9h0M481.1 135.4h0M482.1 135.7h0M484.5 135.8h0M486.3 135.5h0M488.4 135.4h0M491.5 135.6h0M495.0 135.3h0M494.3 135.1h0M497.8 135.4h0M384.4 136.4h0M385.7 136.3h0M390.4 136.8h0M390.4 136.8h0M390.7 136.2h0M393.4 136.7h0M394.9 136.3h0M395.5 136.5h0M395.9 136.6h0M396.3 136.3h0M397.3 136.3h0M400.1 136.1h0M401.0 136.4h0M403.5 136.6h0M404.7 136.4h0M405.3 136.0h0M406.6 136.3h0M409.0 136.3h0M410.0 136.7h0M412.9 136.2h0M412.6 136.5h0M413.6 136.7h0M413.9 136.3h0M416.5 136.6h0M417.8 136.6h0M417.1 136.6h0M417.3 136.4h0M422.0 136.9h0M422.8 136.3h0M422.9 136.0h0M423.9 136.1h0M423.7 136.4h0M423.7 136.7h0M423.6 136.6h0M424.9 136.4h0M424.6 136.5h0M425.7 136.5h0M426.2 136.0h0M428.0 136.9h0M427.4 136.5h0M427.8 136.8h0M427.7 137.0h0M428.3 136.7h0M428.6 136.2h0M428.4 136.1h0M453.9 136.6h0M453.6 136.8h0M453.6 136.2h0M453.9 136.9h0M456.0 136.9h0M456.0 136.6h0M455.6 136.5h0M455.9 136.1h0M456.2 136.8h0M456.4 136.5h0M456.9 136.5h0M457.0 136.9h0M457.4 136.4h0M458.4 136.3h0M458.1 137.0h0M458.7 136.6h0M459.2 136.4h0M459.5 136.4h0M459.2 136.3h0M459.5 136.9h0M459.3 136.0h0M459.6 136.8h0M460.9 136.4h0M460.4 136.6h0M460.8 136.3h0M460.0 136.9h0M461.7 137.0h0M462.5 136.8h0M462.4 136.2h0M463.2 136.4h0M464.2 136.4h0M464.7 136.1h0M464.6 136.4h0M464.3 136.3h0M465.0 136.2h0M465.3 136.8h0M466.9 136.8h0M466.9 136.5h0M466.8 137.0h0M469.0 136.9h0M469.4 136.3h0M471.9 136.4h0M471.6 136.5h0M472.0 136.4h0M473.9 136.3h0M474.4 136.8h0M476.0 136.1h0M475.8 136.8h0M476.1 136.5h0M476.7 136.3h0M478.2 136.7h0M478.7 136.5h0M479.7 136.9h0M482.0 136.8h0M482.3 136.4h0M483.0 136.6h0M482.6 136.5h0M483.8 136.7h0M483.6 136.4h0M487.3 136.3h0M384.6 137.8h0M386.5 137.1h0M388.9 137.5h0M389.5 137.6h0M395.3 137.3h0M399.9 137.5h0M400.4 137.7h0M400.7 137.3h0M401.1 137.1h0M401.9 137.4h0M402.3 137.1h0M404.4 137.5h0M410.0 137.5h0M410.7 137.2h0M411.6 137.5h0M411.9 138.0h0M411.4 137.5h0M411.1 137.8h0M413.1 137.2h0M414.5 137.6h0M415.8 137.0h0M415.2 137.1h0M416.6 137.8h0M416.7 137.8h0M416.4 137.1h0M418.5 137.8h0M419.6 137.5h0M419.6 137.1h0M420.4 137.2h0M421.5 137.3h0M422.3 137.2h0M422.4 137.2h0M423.9 137.8h0M423.2 137.9h0M424.7 137.0h0M424.5 137.0h0M424.3 137.8h0M424.8 137.9h0M424.0 137.3h0M425.4 137.3h0M425.2 137.7h0M426.2 137.7h0M427.0 137.5h0M426.6 137.7h0M426.3 137.7h0M426.4 137.9h0M427.7 137.7h0M427.1 137.8h0M427.2 137.3h0M454.7 137.6h0M455.4 137.1h0M455.9 138.0h0M456.7 137.5h0M456.2 137.2h0M458.7 138.0h0M458.8 137.6h0M458.1 137.9h0M459.5 137.3h0M459.7 137.6h0M460.1 137.8h0M460.6 137.6h0M461.6 137.0h0M461.5 137.4h0M462.6 137.5h0M462.8 137.7h0M462.8 137.0h0M463.7 137.1h0M463.5 137.8h0M464.3 137.0h0M466.0 137.5h0M466.4 137.1h0M467.9 137.1h0M469.8 137.5h0M470.7 137.3h0M471.2 137.6h0M471.9 137.6h0M472.5 137.3h0M472.4 137.8h0M474.6 137.9h0M474.7 137.8h0M475.2 137.1h0M475.5 137.1h0M476.8 137.3h0M476.2 137.3h0M476.2 137.7h0M477.1 137.6h0M478.8 137.2h0M479.9 137.7h0M479.8 137.1h0M479.9 137.5h0M480.6 137.3h0M481.0 137.1h0M481.1 137.9h0M482.4 137.3h0M483.3 137.4h0M483.8 137.1h0M485.7 137.6h0M485.5 137.4h0M490.4 137.6h0M391.5 138.9h0M396.9 138.1h0M399.0 138.8h0M401.3 138.9h0M407.8 138.5h0M407.7 138.5h0M408.0 138.9h0M410.4 139.0h0M411.4 138.1h0M412.1 138.2h0M412.1 138.1h0M413.0 139.0h0M416.3 138.8h0M417.8 138.3h0M417.2 138.9h0M420.2 138.8h0M420.3 138.7h0M420.7 138.6h0M422.5 138.1h0M422.1 138.6h0M422.5 138.9h0M423.1 138.9h0M423.3 138.2h0M424.7 138.6h0M424.5 138.6h0M424.8 138.8h0M425.8 138.8h0M426.6 138.4h0M427.9 138.3h0M427.4 138.2h0M427.1 138.9h0M427.7 138.7h0M427.6 138.5h0M455.2 139.0h0M456.0 138.8h0M455.7 138.3h0M456.7 138.8h0M456.0 138.9h0M456.3 138.3h0M456.4 138.8h0M456.1 138.3h0M458.0 138.8h0M457.9 138.6h0M458.5 138.7h0M458.7 139.0h0M459.8 138.5h0M459.6 138.8h0M459.9 139.0h0M459.6 138.1h0M459.3 138.5h0M460.2 138.7h0M460.3 138.2h0M461.3 138.2h0M461.2 138.9h0M462.6 138.9h0M462.3 138.9h0M463.4 138.6h0M463.2 138.2h0M464.0 138.3h0M465.5 138.5h0M465.0 138.1h0M465.4 139.0h0M466.1 138.9h0M466.4 138.9h0M466.1 138.9h0M466.0 138.8h0M466.7 138.2h0M467.4 138.3h0M467.3 138.9h0M468.6 138.6h0M468.4 138.9h0M468.5 138.9h0M469.9 138.0h0M469.5 138.5h0M469.7 138.6h0M470.1 138.1h0M471.7 138.8h0M471.0 138.7h0M472.6 138.3h0M475.0 138.5h0M474.2 138.1h0M474.9 138.3h0M475.6 138.4h0M475.0 138.6h0M478.8 138.8h0M478.3 138.6h0M481.7 138.4h0M482.3 138.3h0M485.0 139.0h0M486.0 138.1h0M392.4 139.3h0M397.9 139.6h0M398.7 139.6h0M398.9 139.2h0M400.2 139.3h0M404.6 139.8h0M404.5 139.3h0M405.3 139.7h0M406.3 139.2h0M406.7 139.5h0M406.4 139.3h0M409.5 139.1h0M409.2 139.8h0M410.9 139.8h0M411.7 139.2h0M412.5 139.7h0M412.5 139.7h0M413.2 139.9h0M413.8 139.9h0M414.5 139.9h0M414.4 139.9h0M415.9 139.1h0M419.4 139.3h0M420.8 139.0h0M420.4 139.4h0M420.3 139.9h0M420.3 139.1h0M421.5 140.0h0M423.1 139.1h0M423.1 139.2h0M423.2 139.4h0M424.2 139.2h0M424.3 139.7h0M424.8 139.6h0M426.6 139.9h0M426.4 139.8h0M426.6 140.0h0M426.6 139.7h0M426.7 139.6h0M426.9 140.0h0M427.5 139.6h0M455.6 139.8h0M456.5 139.3h0M458.0 139.5h0M458.2 139.9h0M458.4 139.5h0M459.6 139.9h0M459.4 139.3h0M459.6 139.7h0M460.8 139.8h0M461.3 139.4h0M461.7 140.0h0M461.9 139.2h0M462.0 139.5h0M462.8 139.5h0M462.0 139.5h0M463.1 140.0h0M463.6 139.6h0M463.9 139.8h0M463.9 139.5h0M465.7 139.8h0M465.2 139.1h0M466.3 139.6h0M467.2 139.7h0M469.0 139.9h0M469.3 139.4h0M470.2 139.9h0M471.1 140.0h0M472.5 139.6h0M472.8 139.0h0M474.8 139.5h0M474.2 139.6h0M475.4 139.6h0M475.4 139.8h0M476.7 139.4h0M476.1 139.6h0M476.2 139.5h0M476.8 139.1h0M477.7 139.2h0M479.2 139.0h0M480.2 139.3h0M482.0 139.9h0M401.0 140.8h0M405.0 141.0h0M405.9 141.0h0M405.6 140.9h0M405.4 140.8h0M408.7 140.3h0M410.3 140.5h0M410.3 140.9h0M411.3 140.0h0M411.5 140.4h0M412.4 140.9h0M413.6 140.1h0M413.5 140.1h0M414.4 140.6h0M414.8 140.6h0M415.0 140.3h0M415.7 140.8h0M415.8 140.6h0M416.8 140.7h0M416.9 140.1h0M416.2 140.5h0M416.2 140.4h0M417.6 140.0h0M417.2 140.1h0M417.3 140.7h0M417.8 140.9h0M418.6 140.5h0M419.5 141.0h0M419.8 140.8h0M419.5 140.7h0M421.0 140.9h0M420.0 140.1h0M421.3 140.7h0M421.2 140.6h0M422.2 140.5h0M423.2 140.2h0M423.2 140.7h0M423.3 140.0h0M424.0 140.2h0M424.3 140.3h0M425.9 140.6h0M425.5 140.7h0M426.1 140.6h0M426.7 140.1h0M455.5 140.1h0M455.4 140.6h0M455.2 140.0h0M456.5 140.5h0M456.9 140.4h0M456.4 140.4h0M456.9 140.7h0M457.3 140.0h0M458.4 140.3h0M459.8 140.4h0M459.6 140.9h0M460.3 140.6h0M463.9 140.1h0M465.0 140.6h0M464.4 140.9h0M464.9 140.1h0M465.2 140.6h0M466.1 140.3h0M466.9 140.1h0M467.1 140.3h0M467.2 140.3h0M467.1 140.8h0M467.4 140.9h0M469.4 140.9h0M470.0 140.3h0M472.0 140.9h0M471.2 140.5h0M472.7 140.1h0M473.6 140.0h0M475.7 141.0h0M475.2 140.6h0" stroke="#ff1414" stroke-width="1.25" stroke-linecap="round" fill="none"/>
<path d="M443 129.5h1M443 130.5h3M431 131.5h1M443 131.5h4M431 132.5h1M443 132.5h5M430 133.5h2M443 133.5h6M430 134.5h2M443 134.5h8M429 135.5h3M443 135.5h9M429 136.5h3M443 136.5h10M429 137.5h3M443 137.5h11M428 138.5h4M443 138.5h12M428 139.5h4M443 139.5h12M427 140.5h5M443 140.5h12" stroke="#ff1010" stroke-width="1" fill="none"/>
<path d="M398.9 78.3h0M413.2 75.7h0M412.6 83.7h0M425.2 86.5h0M409.6 93.3h0M414.9 93.6h0M406.5 95.9h0M430.8 95.5h0M429.4 98.5h0M427.5 101.6h0M431.3 105.6h0M416.8 106.3h0M418.7 106.6h0M422.1 108.2h0M413.2 108.2h0M418.3 110.5h0M399.2 111.7h0M409.6 112.8h0M410.6 113.2h0M394.6 118.6h0M396.9 121.6h0M388.5 124.2h0M390.8 125.7h0M391.5 127.3h0M371.3 133.9h0M381.6 130.3h0M446.9 92.4h0M465.2 96.4h0M451.0 100.5h0M457.9 101.6h0M446.0 102.0h0M454.1 103.1h0M474.4 104.6h0M460.9 106.2h0M487.4 106.9h0M477.4 108.9h0M446.7 109.2h0M453.3 111.2h0M459.4 110.5h0M494.9 128.3h0M490.0 118.4h0M490.8 120.4h0" stroke="#ff1414" stroke-width="1.25" stroke-linecap="round" fill="none"/>
<path d="M432.4 122.3L432.4 140.6L438.2 140.6L434.0 122.3Z M443.9 122.0L443.9 140.6L438.2 140.6L442.3 122.0Z" fill="#4560c2"/>
<circle cx="433.6" cy="119.5" r="0.6" fill="#5b6fd0"/><circle cx="434.8" cy="116.0" r="0.6" fill="#5b6fd0"/><circle cx="443.0" cy="118.5" r="0.6" fill="#5b6fd0"/><circle cx="442.4" cy="115.2" r="0.6" fill="#5b6fd0"/>
<path d="M424 140.8H432.4M443.9 140.8H452" stroke="#2a9a2a" stroke-width="0.9"/>
<path d="M432.4 140.9H443.9" stroke="#111" stroke-width="1.1"/>
<circle cx="483.6" cy="39.5" r="1.2" fill="#7a0010"/><circle cx="484.6" cy="41.0" r="1.2" fill="#7a0010"/><circle cx="474.6" cy="67.7" r="1.2" fill="#7a0010"/><circle cx="507.8" cy="66.6" r="1.2" fill="#7a0010"/><circle cx="448.5" cy="137.5" r="1.2" fill="#7a0010"/><circle cx="428.5" cy="138.2" r="1.2" fill="#7a0010"/>
</g>
<rect x="364.7" y="31.8" width="149.50000000000006" height="114.2" fill="none" stroke="#111" stroke-width="1.3"/>
<line x1="362.0" y1="140.8" x2="364.7" y2="140.8" stroke="#111" stroke-width="0.9"/>
<text x="360.4" y="143.20000000000002" font-size="6.8" text-anchor="end" fill="#222" stroke="#222" stroke-width="0.05">0</text>
<line x1="362.0" y1="119.2" x2="364.7" y2="119.2" stroke="#111" stroke-width="0.9"/>
<text x="360.4" y="121.56000000000002" font-size="6.8" text-anchor="end" fill="#222" stroke="#222" stroke-width="0.05">50</text>
<line x1="362.0" y1="97.5" x2="364.7" y2="97.5" stroke="#111" stroke-width="0.9"/>
<text x="360.4" y="99.92000000000002" font-size="6.8" text-anchor="end" fill="#222" stroke="#222" stroke-width="0.05">100</text>
<line x1="362.0" y1="75.9" x2="364.7" y2="75.9" stroke="#111" stroke-width="0.9"/>
<text x="360.4" y="78.28000000000002" font-size="6.8" text-anchor="end" fill="#222" stroke="#222" stroke-width="0.05">150</text>
<line x1="362.0" y1="54.2" x2="364.7" y2="54.2" stroke="#111" stroke-width="0.9"/>
<text x="360.4" y="56.64000000000001" font-size="6.8" text-anchor="end" fill="#222" stroke="#222" stroke-width="0.05">200</text>
<line x1="362.0" y1="32.6" x2="364.7" y2="32.6" stroke="#111" stroke-width="0.9"/>
<text x="360.4" y="35.00000000000001" font-size="6.8" text-anchor="end" fill="#222" stroke="#222" stroke-width="0.05">250</text>
<line x1="363.09999999999997" y1="130.0" x2="364.7" y2="130.0" stroke="#111" stroke-width="0.8"/>
<line x1="363.09999999999997" y1="108.3" x2="364.7" y2="108.3" stroke="#111" stroke-width="0.8"/>
<line x1="363.09999999999997" y1="86.7" x2="364.7" y2="86.7" stroke="#111" stroke-width="0.8"/>
<line x1="363.09999999999997" y1="65.1" x2="364.7" y2="65.1" stroke="#111" stroke-width="0.8"/>
<line x1="363.09999999999997" y1="43.4" x2="364.7" y2="43.4" stroke="#111" stroke-width="0.8"/>
<line x1="382.4" y1="146.0" x2="382.4" y2="148.6" stroke="#111" stroke-width="0.9"/>
<text x="382.40000000000003" y="157.6" font-size="6.9" text-anchor="middle" fill="#222" stroke="#222" stroke-width="0.05">-10</text>
<line x1="410.1" y1="146.0" x2="410.1" y2="148.6" stroke="#111" stroke-width="0.9"/>
<text x="410.1" y="157.6" font-size="6.9" text-anchor="middle" fill="#222" stroke="#222" stroke-width="0.05">-5</text>
<line x1="437.8" y1="146.0" x2="437.8" y2="148.6" stroke="#111" stroke-width="0.9"/>
<text x="437.8" y="157.6" font-size="6.9" text-anchor="middle" fill="#222" stroke="#222" stroke-width="0.05">0</text>
<line x1="465.5" y1="146.0" x2="465.5" y2="148.6" stroke="#111" stroke-width="0.9"/>
<text x="465.5" y="157.6" font-size="6.9" text-anchor="middle" fill="#222" stroke="#222" stroke-width="0.05">5</text>
<line x1="493.2" y1="146.0" x2="493.2" y2="148.6" stroke="#111" stroke-width="0.9"/>
<text x="493.2" y="157.6" font-size="6.9" text-anchor="middle" fill="#222" stroke="#222" stroke-width="0.05">10</text>
<line x1="368.6" y1="146.0" x2="368.6" y2="147.5" stroke="#111" stroke-width="0.8"/>
<line x1="396.2" y1="146.0" x2="396.2" y2="147.5" stroke="#111" stroke-width="0.8"/>
<line x1="423.9" y1="146.0" x2="423.9" y2="147.5" stroke="#111" stroke-width="0.8"/>
<line x1="451.7" y1="146.0" x2="451.7" y2="147.5" stroke="#111" stroke-width="0.8"/>
<line x1="479.4" y1="146.0" x2="479.4" y2="147.5" stroke="#111" stroke-width="0.8"/>
<line x1="507.1" y1="146.0" x2="507.1" y2="147.5" stroke="#111" stroke-width="0.8"/>
<text x="439.3" y="27.0" font-size="7.4" text-anchor="middle" fill="#222" stroke="#222" stroke-width="0.22" textLength="75" lengthAdjust="spacingAndGlyphs">Patient versus HUDEP2</text>
<text x="442.0" y="169.0" font-size="7.6" text-anchor="middle" fill="#111" textLength="48" lengthAdjust="spacingAndGlyphs" stroke="#111" stroke-width="0.18">Fold-change (2log)</text>
<text x="342.8" y="88.9" font-size="7.6" text-anchor="middle" fill="#111" stroke="#111" stroke-width="0.32" transform="rotate(-90 342.8 88.9)" textLength="41.3" lengthAdjust="spacingAndGlyphs"><tspan font-style="italic">p</tspan>-value (-10log)</text>
<text x="482" y="37" font-size="4.2" text-anchor="middle" fill="#333" stroke="#333" stroke-width="0.22">HBE1</text>
<text x="491.5" y="41" font-size="4.2" text-anchor="middle" fill="#333" stroke="#333" stroke-width="0.22">HBG1</text>
<text x="483" y="46" font-size="4.2" text-anchor="middle" fill="#333" stroke="#333" stroke-width="0.22">HBG2</text>
<text x="474.5" y="72.6" font-size="4.2" text-anchor="middle" fill="#333" stroke="#333" stroke-width="0.22">HBBP1</text>
<text x="508" y="71.8" font-size="4.2" text-anchor="middle" fill="#333" stroke="#333" stroke-width="0.22">XIST</text>
<text x="410.1" y="145.2" font-size="4.2" text-anchor="middle" fill="#333" stroke="#333" stroke-width="0.22">UN2897</text>
<text x="426.4" y="145.2" font-size="4.2" text-anchor="middle" fill="#333" stroke="#333" stroke-width="0.22">MTB</text>
<text x="450.5" y="145.2" font-size="4.2" text-anchor="middle" fill="#333" stroke="#333" stroke-width="0.22">HBD</text>
<text x="26.6" y="203.2" font-size="9.5" text-anchor="start" fill="#111" font-weight="bold">i</text>
<text x="25.6" y="243.3" font-size="9.5" text-anchor="start" fill="#111" font-weight="bold">ii</text>
<text x="23.6" y="384.6" font-size="9.5" text-anchor="start" fill="#111" font-weight="bold">iii</text>
<text x="24.4" y="518.4" font-size="9.5" text-anchor="start" fill="#111" font-weight="bold">iv</text>
<path d="M57.2 209.8H502.7M57.2 209.8V207.20000000000002M78.2 209.8V207.20000000000002M108.6 209.8V207.20000000000002M139.0 209.8V207.20000000000002M169.2 209.8V207.20000000000002M199.4 209.8V207.20000000000002M229.8 209.8V207.20000000000002M260.1 209.8V207.20000000000002M290.4 209.8V207.20000000000002M320.7 209.8V207.20000000000002M351.0 209.8V207.20000000000002M381.3 209.8V207.20000000000002M411.8 209.8V207.20000000000002M442.3 209.8V207.20000000000002M472.6 209.8V207.20000000000002M502.7 209.8V207.20000000000002" stroke="#222" stroke-width="0.9" fill="none"/>
<text x="57.2" y="203.0" font-size="6.3" text-anchor="middle" fill="#222" stroke="#222" stroke-width="0.22">0</text>
<text x="108.6" y="203.0" font-size="6.3" text-anchor="middle" fill="#222" stroke="#222" stroke-width="0.22">10</text>
<text x="169.2" y="203.0" font-size="6.3" text-anchor="middle" fill="#222" stroke="#222" stroke-width="0.22">20</text>
<text x="229.8" y="203.0" font-size="6.3" text-anchor="middle" fill="#222" stroke="#222" stroke-width="0.22">30</text>
<text x="290.4" y="203.0" font-size="6.3" text-anchor="middle" fill="#222" stroke="#222" stroke-width="0.22">40</text>
<text x="351.0" y="203.0" font-size="6.3" text-anchor="middle" fill="#222" stroke="#222" stroke-width="0.22">50</text>
<text x="411.8" y="203.0" font-size="6.3" text-anchor="middle" fill="#222" stroke="#222" stroke-width="0.22">60</text>
<text x="472.6" y="203.0" font-size="6.3" text-anchor="middle" fill="#222" stroke="#222" stroke-width="0.22">70</text>
<text x="502.7" y="203.0" font-size="6.3" text-anchor="middle" fill="#222" stroke="#222" stroke-width="0.22">kb</text>
<path d="M81.5 225V222.6H166.5V225" stroke="#222" stroke-width="0.9" fill="none"/>
<text x="124.0" y="219.7" font-size="6.6" text-anchor="middle" fill="#222" stroke="#222" stroke-width="0.22">LCR</text>
<path d="M86.5 225.3V229.5" stroke="#b0103a" stroke-width="0.8" fill="none"/>
<path d="M85.25 229.0L86.5 232.0L87.75 229.0Z" fill="#b0103a"/>
<path d="M108.1 225.3V229.5" stroke="#b0103a" stroke-width="0.8" fill="none"/>
<path d="M106.85 229.0L108.1 232.0L109.35 229.0Z" fill="#b0103a"/>
<path d="M132.3 225.3V229.5" stroke="#b0103a" stroke-width="0.8" fill="none"/>
<path d="M131.05 229.0L132.3 232.0L133.55 229.0Z" fill="#b0103a"/>
<path d="M161.5 225.3V229.5" stroke="#b0103a" stroke-width="0.8" fill="none"/>
<path d="M160.25 229.0L161.5 232.0L162.75 229.0Z" fill="#b0103a"/>
<text x="196.7" y="225.9" font-size="6.6" text-anchor="end" fill="#333" font-style="italic" stroke="#333" stroke-width="0.22">HBE</text>
<path d="M196.9 227.4H208.0" stroke="#b0103a" stroke-width="0.75"/>
<rect x="196.9" y="226.1" width="1.9" height="2.6" rx="0.6" fill="#b0103a"/>
<rect x="199.20000000000002" y="226.1" width="1.3" height="2.6" rx="0.5" fill="#b0103a"/>
<rect x="206.4" y="226.20000000000002" width="1.6" height="2.4" rx="0.6" fill="#b0103a"/>
<text x="289.5" y="225.9" font-size="6.6" text-anchor="end" fill="#333" font-style="italic" stroke="#333" stroke-width="0.22">HBG2</text>
<path d="M290.0 227.4H300.0" stroke="#b0103a" stroke-width="0.75"/>
<rect x="290.0" y="226.1" width="1.9" height="2.6" rx="0.6" fill="#b0103a"/>
<rect x="292.3" y="226.1" width="1.3" height="2.6" rx="0.5" fill="#b0103a"/>
<rect x="298.4" y="226.20000000000002" width="1.6" height="2.4" rx="0.6" fill="#b0103a"/>
<text x="319.8" y="225.9" font-size="6.6" text-anchor="end" fill="#333" font-style="italic" stroke="#333" stroke-width="0.22">HBG1</text>
<path d="M320.0 227.4H330.0" stroke="#b0103a" stroke-width="0.75"/>
<rect x="320.0" y="226.1" width="1.9" height="2.6" rx="0.6" fill="#b0103a"/>
<rect x="322.3" y="226.1" width="1.3" height="2.6" rx="0.5" fill="#b0103a"/>
<rect x="328.4" y="226.20000000000002" width="1.6" height="2.4" rx="0.6" fill="#b0103a"/>
<text x="358.0" y="225.9" font-size="6.6" text-anchor="end" fill="#333" font-style="italic" stroke="#333" stroke-width="0.22">HBBP1</text>
<path d="M358.5 227.4H368.4" stroke="#b0103a" stroke-width="0.75"/>
<rect x="358.5" y="226.1" width="1.9" height="2.6" rx="0.6" fill="#b0103a"/>
<rect x="360.8" y="226.1" width="1.3" height="2.6" rx="0.5" fill="#b0103a"/>
<rect x="366.79999999999995" y="226.20000000000002" width="1.6" height="2.4" rx="0.6" fill="#b0103a"/>
<text x="412.5" y="225.9" font-size="6.6" text-anchor="end" fill="#333" font-style="italic" stroke="#333" stroke-width="0.22">HBD</text>
<path d="M412.7 227.4H423.8" stroke="#b0103a" stroke-width="0.75"/>
<rect x="412.7" y="226.1" width="1.9" height="2.6" rx="0.6" fill="#b0103a"/>
<rect x="415.0" y="226.1" width="1.3" height="2.6" rx="0.5" fill="#b0103a"/>
<rect x="422.2" y="226.20000000000002" width="1.6" height="2.4" rx="0.6" fill="#b0103a"/>
<text x="457.9" y="225.9" font-size="6.6" text-anchor="end" fill="#333" font-style="italic" stroke="#333" stroke-width="0.22">HBB</text>
<path d="M458.0 227.4H468.5" stroke="#b0103a" stroke-width="0.75"/>
<rect x="458.0" y="226.1" width="1.9" height="2.6" rx="0.6" fill="#b0103a"/>
<rect x="460.3" y="226.1" width="1.3" height="2.6" rx="0.5" fill="#b0103a"/>
<rect x="466.9" y="226.20000000000002" width="1.6" height="2.4" rx="0.6" fill="#b0103a"/>
<rect x="83.6" y="242.4" width="6.0" height="38.9" fill="#d7deec"/>
<rect x="105.1" y="242.4" width="5.9" height="38.9" fill="#d7deec"/>
<rect x="129.8" y="242.4" width="5.9" height="38.9" fill="#d7deec"/>
<rect x="158.2" y="242.4" width="5.8" height="38.9" fill="#d7deec"/>
<rect x="197.0" y="242.4" width="11.0" height="38.9" fill="#fdd5ca"/>
<rect x="290.3" y="242.4" width="10.3" height="38.9" fill="#fdd5ca"/>
<rect x="320.2" y="242.4" width="10.1" height="38.9" fill="#fdd5ca"/>
<rect x="413.8" y="242.4" width="10.0" height="38.9" fill="#fdd5ca"/>
<rect x="458.9" y="242.4" width="9.9" height="38.9" fill="#fdd5ca"/>
<text x="508.2" y="261.85" font-size="8.0" text-anchor="middle" fill="#222" stroke="#222" stroke-width="0.18" transform="rotate(90 508.2 261.85)" textLength="30.3" lengthAdjust="spacingAndGlyphs">HUDEP1</text>
<rect x="83.6" y="286.5" width="6.0" height="39.6" fill="#d7deec"/>
<rect x="105.1" y="286.5" width="5.9" height="39.6" fill="#d7deec"/>
<rect x="129.8" y="286.5" width="5.9" height="39.6" fill="#d7deec"/>
<rect x="158.2" y="286.5" width="5.8" height="39.6" fill="#d7deec"/>
<rect x="197.0" y="286.5" width="11.0" height="39.6" fill="#fdd5ca"/>
<rect x="290.3" y="286.5" width="10.3" height="39.6" fill="#fdd5ca"/>
<rect x="320.2" y="286.5" width="10.1" height="39.6" fill="#fdd5ca"/>
<rect x="413.8" y="286.5" width="10.0" height="39.6" fill="#fdd5ca"/>
<rect x="458.9" y="286.5" width="9.9" height="39.6" fill="#fdd5ca"/>
<text x="508.2" y="306.3" font-size="8.0" text-anchor="middle" fill="#222" stroke="#222" stroke-width="0.18" transform="rotate(90 508.2 306.3)" textLength="31.2" lengthAdjust="spacingAndGlyphs">HUDEP2</text>
<rect x="83.6" y="330.6" width="6.0" height="39.4" fill="#d7deec"/>
<rect x="105.1" y="330.6" width="5.9" height="39.4" fill="#d7deec"/>
<rect x="129.8" y="330.6" width="5.9" height="39.4" fill="#d7deec"/>
<rect x="158.2" y="330.6" width="5.8" height="39.4" fill="#d7deec"/>
<rect x="197.0" y="330.6" width="11.0" height="39.4" fill="#fdd5ca"/>
<rect x="290.3" y="330.6" width="10.3" height="39.4" fill="#fdd5ca"/>
<rect x="320.2" y="330.6" width="10.1" height="39.4" fill="#fdd5ca"/>
<rect x="413.8" y="330.6" width="10.0" height="39.4" fill="#fdd5ca"/>
<rect x="458.9" y="330.6" width="9.9" height="39.4" fill="#fdd5ca"/>
<text x="508.2" y="350.3" font-size="8.0" text-anchor="middle" fill="#222" stroke="#222" stroke-width="0.18" transform="rotate(90 508.2 350.3)" textLength="22.3" lengthAdjust="spacingAndGlyphs">Patient</text>
<rect x="83.6" y="379.3" width="6.0" height="39.1" fill="#d7deec"/>
<rect x="105.1" y="379.3" width="5.9" height="39.1" fill="#d7deec"/>
<rect x="129.8" y="379.3" width="5.9" height="39.1" fill="#d7deec"/>
<rect x="158.2" y="379.3" width="5.8" height="39.1" fill="#d7deec"/>
<rect x="197.0" y="379.3" width="11.0" height="39.1" fill="#fdd5ca"/>
<rect x="290.3" y="379.3" width="10.3" height="39.1" fill="#fdd5ca"/>
<rect x="320.2" y="379.3" width="10.1" height="39.1" fill="#fdd5ca"/>
<rect x="413.8" y="379.3" width="10.0" height="39.1" fill="#fdd5ca"/>
<rect x="458.9" y="379.3" width="9.9" height="39.1" fill="#fdd5ca"/>
<text x="508.2" y="398.85" font-size="8.0" text-anchor="middle" fill="#222" stroke="#222" stroke-width="0.18" transform="rotate(90 508.2 398.85)" textLength="30.3" lengthAdjust="spacingAndGlyphs">HUDEP1</text>
<rect x="83.6" y="423.4" width="6.0" height="39.0" fill="#d7deec"/>
<rect x="105.1" y="423.4" width="5.9" height="39.0" fill="#d7deec"/>
<rect x="129.8" y="423.4" width="5.9" height="39.0" fill="#d7deec"/>
<rect x="158.2" y="423.4" width="5.8" height="39.0" fill="#d7deec"/>
<rect x="197.0" y="423.4" width="11.0" height="39.0" fill="#fdd5ca"/>
<rect x="290.3" y="423.4" width="10.3" height="39.0" fill="#fdd5ca"/>
<rect x="320.2" y="423.4" width="10.1" height="39.0" fill="#fdd5ca"/>
<rect x="413.8" y="423.4" width="10.0" height="39.0" fill="#fdd5ca"/>
<rect x="458.9" y="423.4" width="9.9" height="39.0" fill="#fdd5ca"/>
<text x="508.2" y="442.9" font-size="8.0" text-anchor="middle" fill="#222" stroke="#222" stroke-width="0.18" transform="rotate(90 508.2 442.9)" textLength="31.2" lengthAdjust="spacingAndGlyphs">HUDEP2</text>
<rect x="83.6" y="467.4" width="6.0" height="39.1" fill="#d7deec"/>
<rect x="105.1" y="467.4" width="5.9" height="39.1" fill="#d7deec"/>
<rect x="129.8" y="467.4" width="5.9" height="39.1" fill="#d7deec"/>
<rect x="158.2" y="467.4" width="5.8" height="39.1" fill="#d7deec"/>
<rect x="197.0" y="467.4" width="11.0" height="39.1" fill="#fdd5ca"/>
<rect x="290.3" y="467.4" width="10.3" height="39.1" fill="#fdd5ca"/>
<rect x="320.2" y="467.4" width="10.1" height="39.1" fill="#fdd5ca"/>
<rect x="413.8" y="467.4" width="10.0" height="39.1" fill="#fdd5ca"/>
<rect x="458.9" y="467.4" width="9.9" height="39.1" fill="#fdd5ca"/>
<text x="508.2" y="486.95" font-size="8.0" text-anchor="middle" fill="#222" stroke="#222" stroke-width="0.18" transform="rotate(90 508.2 486.95)" textLength="22.3" lengthAdjust="spacingAndGlyphs">Patient</text>
<rect x="83.6" y="516.6" width="6.0" height="39.4" fill="#d7deec"/>
<rect x="105.1" y="516.6" width="5.9" height="39.4" fill="#d7deec"/>
<rect x="129.8" y="516.6" width="5.9" height="39.4" fill="#d7deec"/>
<rect x="158.2" y="516.6" width="5.8" height="39.4" fill="#d7deec"/>
<rect x="197.0" y="516.6" width="11.0" height="39.4" fill="#fdd5ca"/>
<rect x="290.3" y="516.6" width="10.3" height="39.4" fill="#fdd5ca"/>
<rect x="320.2" y="516.6" width="10.1" height="39.4" fill="#fdd5ca"/>
<rect x="413.8" y="516.6" width="10.0" height="39.4" fill="#fdd5ca"/>
<rect x="458.9" y="516.6" width="9.9" height="39.4" fill="#fdd5ca"/>
<text x="508.2" y="536.3" font-size="8.0" text-anchor="middle" fill="#222" stroke="#222" stroke-width="0.18" transform="rotate(90 508.2 536.3)" textLength="31.2" lengthAdjust="spacingAndGlyphs">HUDEP2</text>
<path d="M289.9 280.8 L290.0 250.2 L290.6 250.5 L291.2 256.3 L291.4 265.5 L292.2 268.6 L292.6 271.9 L293.3 274.7 L293.8 280.8Z" fill="#f00000"/>
<path d="M298.1 280.8 L298.3 269.0 L299.2 269.6 L300.0 273.7 L300.6 280.8Z" fill="#f00000"/>
<path d="M320.0 280.8 L320.1 253.3 L320.7 253.6 L321.3 258.8 L321.5 267.1 L322.3 269.8 L322.7 272.8 L323.4 275.3 L323.9 280.8Z" fill="#f00000"/>
<path d="M328.2 280.8 L328.4 272.9 L329.3 273.3 L330.1 276.1 L330.7 280.8Z" fill="#f00000"/>
<path d="M200.0 280.8 L200.5 279.0 L201.0 280.8Z" fill="#f00000"/>
<path d="M205.7 280.8 L206.2 279.3 L206.7 280.8Z" fill="#f00000"/>
<path d="M414.2 325.6 L415.0 319.7 L415.8 325.6Z" fill="#f00000"/>
<path d="M458.9 325.6 L459.1 298.0 L459.6 298.5 L460.2 301.0 L460.8 302.0 L461.3 302.3 L461.7 306.0 L462.0 325.6Z" fill="#f00000"/>
<path d="M466.6 325.6 L466.9 298.4 L467.5 299.0 L468.0 305.0 L468.3 325.6Z" fill="#f00000"/>
<path d="M289.9 369.5 L290.0 349.3 L290.6 349.5 L291.2 353.3 L291.4 359.4 L292.2 361.4 L292.6 363.6 L293.3 365.5 L293.8 369.5Z" fill="#f00000"/>
<path d="M298.1 369.5 L298.3 354.8 L299.2 355.5 L300.0 360.7 L300.6 369.5Z" fill="#f00000"/>
<path d="M320.0 369.5 L320.1 349.9 L320.7 350.1 L321.3 353.8 L321.5 359.7 L322.3 361.7 L322.7 363.8 L323.4 365.6 L323.9 369.5Z" fill="#f00000"/>
<path d="M328.2 369.5 L328.4 354.8 L329.3 355.5 L330.1 360.7 L330.7 369.5Z" fill="#f00000"/>
<path d="M414.1 369.5 L415.0 365.7 L415.9 369.5Z" fill="#f00000"/>
<path d="M458.9 369.5 L459.1 338.0 L459.6 339.0 L460.2 346.0 L460.8 345.6 L461.3 345.3 L461.7 350.0 L462.0 369.5Z" fill="#f00000"/>
<path d="M466.6 369.5 L466.9 345.0 L467.5 345.6 L468.0 351.0 L468.3 369.5Z" fill="#f00000"/>
<path d="M360.2 369.5 L360.8 368.3 L361.4 369.5Z" fill="#f00000"/>
<path d="M365.9 369.5 L366.5 368.5 L367.1 369.5Z" fill="#f00000"/>
<path d="M56.0 418.1 L56.0 417.9 L56.6 418.0 L57.2 418.0 L57.8 418.1 L58.4 417.8 L59.0 417.8 L59.6 417.6 L60.2 417.6 L60.8 418.1 L61.4 418.0 L62.0 418.1 L62.6 417.9 L63.2 417.9 L63.8 418.1 L64.4 418.1 L65.0 417.9 L65.6 417.9 L66.2 418.0 L66.8 417.8 L67.4 418.0 L68.0 418.0 L68.6 417.8 L69.2 418.0 L69.8 417.8 L70.4 417.9 L71.0 417.7 L71.6 418.0 L72.2 417.8 L72.8 418.1 L73.4 418.0 L74.0 417.7 L74.6 417.9 L75.2 418.1 L75.8 417.6 L76.4 417.4 L77.0 417.9 L77.6 417.3 L78.2 418.1 L78.8 417.2 L79.4 417.9 L80.0 417.7 L80.6 417.9 L81.2 417.9 L81.8 417.3 L82.4 417.9 L83.0 417.9 L83.6 418.1 L84.2 418.1 L84.8 417.3 L85.4 417.9 L86.0 418.0 L86.6 418.0 L87.2 417.9 L87.8 418.1 L88.4 418.0 L89.0 416.7 L89.6 417.9 L90.2 417.9 L90.8 418.0 L91.4 418.0 L92.0 417.7 L92.6 417.8 L93.2 418.1 L93.8 418.1 L94.4 418.1 L95.0 417.9 L95.6 417.9 L96.2 418.0 L96.8 417.9 L97.4 418.0 L98.0 417.8 L98.6 417.7 L99.2 417.9 L99.8 417.6 L100.4 417.9 L101.0 418.1 L101.6 418.0 L102.2 417.6 L102.8 417.8 L103.4 417.5 L104.0 417.7 L104.6 417.8 L105.2 417.9 L105.8 417.7 L106.4 417.4 L107.0 417.2 L107.6 417.8 L108.2 418.1 L108.8 418.0 L109.4 418.1 L110.0 418.1 L110.6 418.0 L111.2 417.9 L111.8 418.0 L112.4 418.0 L113.0 418.1 L113.6 418.0 L114.2 417.7 L114.8 417.8 L115.4 418.1 L116.0 418.1 L116.6 417.9 L117.2 417.8 L117.8 418.1 L118.4 417.3 L119.0 417.7 L119.6 417.7 L120.2 418.1 L120.8 418.1 L121.4 417.8 L122.0 417.9 L122.6 417.6 L123.2 417.7 L123.8 417.7 L124.4 417.9 L125.0 418.0 L125.6 417.8 L126.2 417.9 L126.8 418.0 L127.4 417.5 L128.0 417.8 L128.6 418.1 L129.2 417.8 L129.8 418.0 L130.4 417.8 L131.0 417.2 L131.6 417.8 L132.2 417.9 L132.8 417.9 L133.4 418.0 L134.0 418.0 L134.6 417.8 L135.2 417.7 L135.8 418.0 L136.4 418.0 L137.0 417.4 L137.6 417.5 L138.2 417.9 L138.8 417.7 L139.4 418.0 L140.0 418.0 L140.6 417.8 L141.2 418.1 L141.8 417.9 L142.4 417.9 L143.0 418.1 L143.6 417.5 L144.2 418.0 L144.8 418.1 L145.4 418.1 L146.0 418.0 L146.6 417.9 L147.2 418.1 L147.8 418.1 L148.4 418.0 L149.0 417.6 L149.6 417.8 L150.2 418.0 L150.8 418.0 L151.4 417.9 L152.0 417.8 L152.6 417.9 L153.2 417.9 L153.8 418.0 L154.4 418.0 L155.0 418.0 L155.6 417.9 L156.2 417.8 L156.8 417.9 L157.4 417.9 L158.0 415.8 L158.6 417.9 L159.2 418.1 L159.8 417.9 L160.4 417.8 L161.0 417.8 L161.6 418.0 L162.2 418.1 L162.8 417.9 L163.4 417.8 L164.0 418.0 L164.6 417.9 L165.2 418.0 L165.8 418.1 L166.4 416.8 L167.0 417.8 L167.6 418.0 L168.2 417.3 L168.8 418.0 L169.4 417.6 L170.0 418.1 L170.6 417.7 L171.2 417.6 L171.8 418.0 L172.4 417.9 L173.0 417.8 L173.6 418.1 L174.2 418.0 L174.8 418.0 L175.4 417.8 L176.0 417.9 L176.6 417.6 L177.2 417.7 L177.8 417.5 L178.4 417.9 L179.0 417.9 L179.6 418.0 L180.2 418.0 L180.8 417.2 L181.4 418.0 L182.0 418.1 L182.6 418.0 L183.2 417.8 L183.8 416.7 L184.4 418.1 L185.0 418.0 L185.6 418.0 L186.2 418.0 L186.8 418.1 L187.4 417.7 L188.0 417.2 L188.6 417.9 L189.2 418.1 L189.8 417.8 L190.4 417.9 L191.0 417.9 L191.6 418.0 L192.2 417.9 L192.8 418.0 L193.4 417.9 L194.0 418.1 L194.6 417.8 L195.2 418.1 L195.8 418.1 L196.4 418.0 L197.0 417.4 L197.6 417.6 L198.2 418.1 L198.8 418.0 L199.4 418.0 L200.0 418.0 L200.6 418.0 L201.2 417.9 L201.8 417.9 L202.4 417.6 L203.0 417.1 L203.6 417.9 L204.2 418.0 L204.8 417.8 L205.4 417.7 L206.0 417.9 L206.6 417.7 L207.2 417.2 L207.8 418.1 L208.4 418.0 L209.0 418.1 L209.6 417.8 L210.2 418.0 L210.8 417.9 L211.4 418.0 L212.0 418.0 L212.6 417.5 L213.2 417.8 L213.8 417.9 L214.4 418.0 L215.0 418.1 L215.6 418.0 L216.2 418.0 L216.8 417.7 L217.4 418.0 L218.0 417.9 L218.6 418.0 L219.2 417.4 L219.8 418.1 L220.4 417.9 L221.0 418.1 L221.6 418.0 L222.2 418.0 L222.8 418.1 L223.4 417.9 L224.0 417.8 L224.6 417.9 L225.2 418.1 L225.8 417.6 L226.4 418.0 L227.0 418.1 L227.6 418.1 L228.2 417.4 L228.8 417.3 L229.4 416.9 L230.0 418.0 L230.6 418.0 L231.2 418.0 L231.8 418.1 L232.4 418.0 L233.0 417.9 L233.6 418.1 L234.2 417.5 L234.8 418.1 L235.4 417.9 L236.0 417.8 L236.6 418.1 L237.2 418.0 L237.8 417.5 L238.4 417.3 L239.0 417.7 L239.6 417.9 L240.2 417.4 L240.8 417.4 L241.4 417.9 L242.0 417.4 L242.6 417.9 L243.2 417.8 L243.8 418.0 L244.4 417.9 L245.0 417.7 L245.6 418.0 L246.2 418.0 L246.8 418.0 L247.4 417.8 L248.0 418.0 L248.6 417.9 L249.2 416.9 L249.8 418.0 L250.4 418.0 L251.0 417.8 L251.6 417.9 L252.2 418.0 L252.8 418.1 L253.4 417.5 L254.0 417.8 L254.6 418.1 L255.2 417.9 L255.8 418.0 L256.4 418.1 L257.0 417.6 L257.6 418.0 L258.2 418.1 L258.8 417.4 L259.4 418.1 L260.0 417.9 L260.6 418.1 L261.2 417.9 L261.8 417.9 L262.4 418.0 L263.0 417.8 L263.6 417.8 L264.2 418.0 L264.8 418.1 L265.4 417.9 L266.0 417.5 L266.6 417.9 L267.2 418.1 L267.8 417.5 L268.4 418.0 L269.0 417.9 L269.6 418.0 L270.2 418.0 L270.8 417.9 L271.4 417.8 L272.0 417.7 L272.6 418.0 L273.2 417.9 L273.8 418.1 L274.4 418.0 L275.0 418.0 L275.6 418.0 L276.2 417.9 L276.8 418.0 L277.4 417.7 L278.0 418.1 L278.6 418.0 L279.2 417.9 L279.8 418.0 L280.4 417.9 L281.0 417.8 L281.6 418.1 L282.2 418.1 L282.8 418.1 L283.4 417.8 L284.0 418.1 L284.6 418.1 L285.2 418.0 L285.8 417.4 L286.4 417.7 L287.0 418.0 L287.6 418.0 L288.2 418.0 L288.8 417.7 L289.4 418.0 L290.0 417.7 L290.6 418.0 L291.2 418.0 L291.8 417.8 L292.4 418.0 L293.0 417.7 L293.6 418.1 L294.2 418.1 L294.8 417.4 L295.4 417.9 L296.0 418.0 L296.6 418.0 L297.2 418.1 L297.8 418.0 L298.4 417.5 L299.0 417.9 L299.6 418.1 L300.2 418.1 L300.8 417.8 L301.4 418.1 L302.0 417.9 L302.6 418.0 L303.2 417.7 L303.8 418.1 L304.4 417.9 L305.0 418.1 L305.6 418.0 L306.2 417.7 L306.8 418.1 L307.4 418.0 L308.0 417.6 L308.6 418.1 L309.2 418.0 L309.8 418.1 L310.4 418.0 L311.0 418.0 L311.6 418.1 L312.2 418.0 L312.8 418.1 L313.4 417.9 L314.0 417.5 L314.6 417.3 L315.2 417.4 L315.8 417.9 L316.4 417.9 L317.0 417.6 L317.6 418.1 L318.2 418.0 L318.8 417.9 L319.4 418.0 L320.0 418.0 L320.6 417.7 L321.2 417.8 L321.8 418.0 L322.4 417.5 L323.0 418.1 L323.6 417.9 L324.2 417.6 L324.8 417.9 L325.4 416.4 L326.0 417.9 L326.6 418.0 L327.2 418.0 L327.8 417.9 L328.4 417.2 L329.0 417.8 L329.6 418.0 L330.2 417.9 L330.8 418.0 L331.4 417.5 L332.0 418.1 L332.6 417.9 L333.2 418.1 L333.8 417.8 L334.4 417.6 L335.0 418.0 L335.6 418.0 L336.2 417.9 L336.8 417.9 L337.4 417.7 L338.0 418.1 L338.6 417.8 L339.2 417.9 L339.8 418.1 L340.4 417.9 L341.0 417.9 L341.6 417.7 L342.2 418.0 L342.8 417.9 L343.4 417.9 L344.0 417.9 L344.6 418.0 L345.2 418.0 L345.8 417.7 L346.4 417.7 L347.0 418.0 L347.6 417.8 L348.2 417.5 L348.8 417.4 L349.4 418.1 L350.0 418.0 L350.6 418.1 L351.2 418.1 L351.8 418.1 L352.4 418.0 L353.0 417.8 L353.6 417.6 L354.2 418.1 L354.8 417.9 L355.4 417.9 L356.0 417.9 L356.6 418.0 L357.2 418.0 L357.8 417.8 L358.4 417.9 L359.0 418.1 L359.6 418.0 L360.2 418.0 L360.8 417.6 L361.4 417.8 L362.0 417.9 L362.6 417.8 L363.2 418.0 L363.8 418.1 L364.4 417.6 L365.0 417.8 L365.6 418.1 L366.2 417.7 L366.8 417.7 L367.4 417.7 L368.0 418.1 L368.6 418.1 L369.2 418.1 L369.8 417.6 L370.4 418.0 L371.0 417.9 L371.6 418.1 L372.2 418.1 L372.8 418.1 L373.4 418.0 L374.0 417.0 L374.6 417.9 L375.2 417.8 L375.8 418.1 L376.4 418.1 L377.0 418.0 L377.6 417.8 L378.2 417.8 L378.8 418.1 L379.4 417.3 L380.0 418.0 L380.6 417.9 L381.2 417.7 L381.8 417.9 L382.4 417.9 L383.0 418.1 L383.6 417.9 L384.2 417.9 L384.8 418.1 L385.4 417.9 L386.0 418.1 L386.6 417.7 L387.2 418.0 L387.8 417.9 L388.4 417.9 L389.0 417.5 L389.6 417.9 L390.2 418.1 L390.8 417.6 L391.4 417.7 L392.0 417.9 L392.6 417.7 L393.2 417.5 L393.8 418.1 L394.4 417.9 L395.0 418.0 L395.6 418.0 L396.2 417.8 L396.8 417.8 L397.4 417.6 L398.0 418.1 L398.6 418.0 L399.2 418.1 L399.8 417.4 L400.4 418.0 L401.0 417.5 L401.6 418.0 L402.2 417.6 L402.8 418.0 L403.4 418.0 L404.0 418.0 L404.6 417.8 L405.2 417.9 L405.8 417.9 L406.4 418.1 L407.0 418.1 L407.6 417.5 L408.2 417.3 L408.8 418.0 L409.4 417.9 L410.0 418.1 L410.6 418.0 L411.2 418.1 L411.8 418.0 L412.4 417.2 L413.0 418.1 L413.6 418.0 L414.2 417.9 L414.8 418.0 L415.4 418.1 L416.0 418.0 L416.6 418.0 L417.2 418.0 L417.8 417.0 L418.4 417.4 L419.0 418.0 L419.6 418.1 L420.2 418.0 L420.8 417.8 L421.4 417.9 L422.0 418.0 L422.6 417.4 L423.2 418.1 L423.8 418.1 L424.4 417.9 L425.0 417.8 L425.6 416.9 L426.2 418.0 L426.8 418.0 L427.4 418.0 L428.0 417.8 L428.6 417.8 L429.2 417.8 L429.8 418.1 L430.4 417.7 L431.0 418.0 L431.6 417.7 L432.2 417.9 L432.8 418.1 L433.4 417.9 L434.0 418.0 L434.6 417.8 L435.2 417.1 L435.8 417.7 L436.4 417.4 L437.0 418.0 L437.6 417.2 L438.2 417.9 L438.8 417.3 L439.4 417.6 L440.0 417.7 L440.6 417.9 L441.2 417.9 L441.8 417.9 L442.4 417.4 L443.0 417.8 L443.6 417.7 L444.2 418.0 L444.8 417.3 L445.4 418.0 L446.0 417.8 L446.6 417.4 L447.2 417.9 L447.8 418.0 L448.4 418.0 L449.0 417.9 L449.6 417.9 L450.2 418.0 L450.8 417.9 L451.4 417.8 L452.0 417.9 L452.6 418.0 L453.2 418.0 L453.8 418.1 L454.4 418.0 L455.0 418.1 L455.6 417.4 L456.2 417.5 L456.8 418.0 L457.4 417.6 L458.0 417.9 L458.6 418.0 L459.2 418.1 L459.8 418.1 L460.4 417.4 L461.0 418.0 L461.6 417.8 L462.2 418.0 L462.8 418.0 L463.4 418.1 L464.0 417.8 L464.6 417.9 L465.2 416.9 L465.8 417.8 L466.4 417.7 L467.0 418.0 L467.6 417.9 L468.2 417.5 L468.8 417.5 L469.4 418.1 L470.0 417.8 L470.6 418.0 L471.2 418.1 L471.8 418.1 L472.4 417.9 L473.0 417.9 L473.6 418.0 L474.2 418.0 L474.8 417.5 L475.4 417.3 L476.0 417.8 L476.6 418.1 L477.2 418.0 L477.8 417.4 L478.4 417.4 L479.0 417.7 L479.6 417.8 L480.2 418.0 L480.8 417.9 L481.4 417.9 L482.0 417.6 L482.6 416.8 L483.2 417.4 L483.8 417.8 L484.4 418.0 L485.0 417.9 L485.6 417.9 L486.2 417.7 L486.8 417.8 L487.4 418.0 L488.0 417.9 L488.6 418.1 L489.2 418.0 L489.8 417.9 L490.4 417.8 L491.0 417.9 L491.6 417.6 L492.2 417.8 L492.8 417.9 L493.4 418.0 L494.0 417.8 L494.6 418.0 L495.2 417.9 L495.8 418.0 L496.4 417.9 L497.0 417.0 L497.6 417.9 L498.2 417.8 L498.8 417.8 L499.4 417.4 L500.0 418.1Z" fill="#3d259a"/>
<path d="M84.4 418.1 L84.8 417.2 L86.0 417.0 L86.4 412.5 L86.8 410.1 L87.2 412.1 L87.7 414.9 L88.4 416.7 L89.3 417.3 L89.3 417.3 L89.8 418.1Z" fill="#3d259a"/>
<path d="M105.7 418.1 L106.1 417.1 L107.3 416.9 L107.7 412.2 L108.1 409.6 L108.5 411.7 L109.0 414.7 L109.7 416.6 L110.6 417.2 L110.6 417.3 L111.1 418.1Z" fill="#3d259a"/>
<path d="M130.6 418.1 L131.0 417.1 L132.2 416.9 L132.6 412.2 L133.0 409.6 L133.4 411.7 L133.9 414.7 L134.6 416.6 L135.5 417.2 L135.5 417.3 L136.0 418.1Z" fill="#3d259a"/>
<path d="M159.3 418.1 L159.7 417.4 L160.9 417.2 L161.3 413.8 L161.7 412.0 L162.1 413.5 L162.6 415.7 L163.3 417.0 L164.2 417.5 L164.2 417.3 L164.7 418.1Z" fill="#3d259a"/>
<path d="M67.1 418.1 L67.7 416.8 L68.3 418.1Z" fill="#3d259a"/>
<path d="M287.7 418.1 L288.1 415.3 L289.3 414.6 L289.7 395.8 L290.1 386.3 L290.5 394.2 L291.0 405.4 L291.7 412.4 L292.6 414.9 L296.1 417.3 L296.6 418.1Z" fill="#3d259a"/>
<path d="M317.4 418.1 L317.8 415.3 L319.0 414.6 L319.4 398.1 L319.8 389.5 L320.2 396.6 L320.7 406.7 L321.4 413.0 L322.3 415.2 L325.8 417.3 L326.3 418.1Z" fill="#3d259a"/>
<path d="M292.0 418.1 L292.0 416.5 L292.6 416.6 L293.2 417.6 L293.8 417.5 L294.4 415.4 L295.0 417.8 L295.6 418.0 L296.2 416.4 L296.8 417.9 L297.4 417.5 L298.0 418.1 L298.6 417.5 L299.2 413.6 L299.8 417.5 L300.4 416.8 L301.0 416.7 L301.6 418.1 L302.2 417.2 L302.8 417.4 L303.4 417.8 L304.0 417.6 L304.6 417.6 L305.2 417.4 L305.8 418.0 L306.4 415.0 L307.0 417.8 L307.6 417.9 L308.2 416.9 L308.8 417.5 L309.4 416.0 L310.0 417.9 L310.6 417.9 L311.2 417.9 L311.8 416.6 L312.0 418.1Z" fill="#3d259a"/>
<path d="M322.0 418.1 L322.0 417.0 L322.6 416.3 L323.2 417.6 L323.8 417.4 L324.4 417.6 L325.0 417.0 L325.6 411.8 L326.2 418.0 L326.8 417.3 L327.4 416.8 L328.0 417.9 L328.6 417.6 L329.2 417.9 L329.8 417.7 L330.4 417.9 L331.0 412.6 L331.6 417.7 L332.2 418.0 L332.8 416.5 L333.4 417.7 L334.0 413.6 L334.6 417.3 L335.2 417.7 L335.8 418.0 L336.0 418.1Z" fill="#3d259a"/>
<path d="M348.0 418.1 L348.0 417.6 L348.6 417.8 L349.2 418.1 L349.8 416.7 L350.4 417.4 L351.0 417.9 L351.6 418.0 L352.2 417.7 L352.8 417.5 L353.4 418.0 L354.0 417.7 L354.6 416.5 L355.2 418.0 L355.8 417.7 L356.4 417.6 L357.0 417.5 L357.6 416.9 L358.2 417.6 L358.8 417.5 L359.4 417.1 L360.0 417.9 L360.6 417.8 L361.2 417.9 L361.8 418.0 L362.0 418.1Z" fill="#3d259a"/>
<path d="M56.0 462.2 L56.0 461.7 L56.6 461.6 L57.2 461.9 L57.8 462.2 L58.4 462.1 L59.0 462.2 L59.6 462.2 L60.2 462.2 L60.8 461.7 L61.4 461.2 L62.0 462.1 L62.6 462.2 L63.2 462.0 L63.8 462.0 L64.4 462.2 L65.0 462.2 L65.6 461.9 L66.2 461.9 L66.8 462.0 L67.4 462.2 L68.0 462.2 L68.6 461.5 L69.2 462.0 L69.8 462.1 L70.4 462.1 L71.0 462.2 L71.6 462.1 L72.2 462.2 L72.8 461.9 L73.4 462.1 L74.0 461.6 L74.6 462.0 L75.2 462.0 L75.8 461.4 L76.4 462.1 L77.0 461.9 L77.6 461.9 L78.2 462.2 L78.8 462.2 L79.4 462.0 L80.0 462.2 L80.6 461.9 L81.2 462.1 L81.8 461.6 L82.4 462.2 L83.0 462.1 L83.6 462.0 L84.2 462.2 L84.8 462.1 L85.4 462.1 L86.0 462.1 L86.6 462.0 L87.2 461.5 L87.8 461.3 L88.4 462.0 L89.0 462.1 L89.6 462.2 L90.2 462.0 L90.8 462.2 L91.4 461.4 L92.0 462.1 L92.6 462.1 L93.2 462.2 L93.8 461.7 L94.4 461.8 L95.0 462.2 L95.6 461.8 L96.2 462.2 L96.8 462.1 L97.4 462.0 L98.0 462.0 L98.6 462.1 L99.2 461.8 L99.8 462.0 L100.4 461.9 L101.0 462.1 L101.6 462.2 L102.2 462.0 L102.8 462.2 L103.4 462.1 L104.0 462.0 L104.6 462.2 L105.2 461.9 L105.8 461.4 L106.4 462.0 L107.0 462.0 L107.6 462.2 L108.2 460.7 L108.8 462.2 L109.4 462.2 L110.0 461.8 L110.6 462.2 L111.2 461.9 L111.8 462.1 L112.4 462.0 L113.0 461.8 L113.6 461.9 L114.2 462.1 L114.8 461.9 L115.4 462.1 L116.0 462.2 L116.6 461.7 L117.2 461.4 L117.8 462.2 L118.4 462.2 L119.0 461.6 L119.6 461.7 L120.2 462.2 L120.8 461.9 L121.4 461.8 L122.0 462.2 L122.6 461.8 L123.2 461.9 L123.8 461.9 L124.4 462.2 L125.0 462.1 L125.6 461.8 L126.2 462.1 L126.8 461.1 L127.4 462.2 L128.0 462.1 L128.6 461.6 L129.2 462.1 L129.8 462.0 L130.4 461.9 L131.0 462.0 L131.6 461.8 L132.2 461.8 L132.8 462.1 L133.4 462.0 L134.0 462.2 L134.6 462.0 L135.2 462.1 L135.8 462.1 L136.4 462.2 L137.0 461.8 L137.6 462.1 L138.2 462.2 L138.8 462.2 L139.4 461.9 L140.0 462.0 L140.6 462.0 L141.2 462.2 L141.8 461.7 L142.4 461.9 L143.0 462.0 L143.6 462.1 L144.2 461.9 L144.8 461.9 L145.4 462.0 L146.0 462.1 L146.6 461.8 L147.2 462.1 L147.8 462.0 L148.4 462.0 L149.0 462.0 L149.6 462.0 L150.2 462.2 L150.8 462.1 L151.4 462.0 L152.0 462.1 L152.6 462.2 L153.2 462.0 L153.8 461.8 L154.4 461.9 L155.0 462.1 L155.6 462.1 L156.2 462.0 L156.8 462.2 L157.4 460.5 L158.0 462.1 L158.6 462.2 L159.2 462.0 L159.8 461.8 L160.4 462.0 L161.0 461.9 L161.6 461.9 L162.2 462.1 L162.8 462.2 L163.4 462.1 L164.0 462.0 L164.6 462.1 L165.2 461.6 L165.8 461.9 L166.4 462.1 L167.0 462.0 L167.6 461.5 L168.2 461.9 L168.8 462.2 L169.4 462.0 L170.0 462.0 L170.6 462.0 L171.2 462.2 L171.8 462.1 L172.4 462.2 L173.0 462.1 L173.6 461.7 L174.2 462.0 L174.8 462.0 L175.4 461.2 L176.0 461.6 L176.6 461.8 L177.2 461.2 L177.8 462.1 L178.4 461.6 L179.0 462.0 L179.6 462.1 L180.2 462.2 L180.8 462.0 L181.4 462.1 L182.0 461.8 L182.6 462.0 L183.2 461.7 L183.8 462.0 L184.4 462.1 L185.0 461.9 L185.6 461.6 L186.2 462.1 L186.8 461.5 L187.4 462.1 L188.0 461.7 L188.6 462.2 L189.2 462.2 L189.8 461.9 L190.4 461.6 L191.0 462.2 L191.6 461.1 L192.2 461.8 L192.8 462.2 L193.4 462.1 L194.0 462.0 L194.6 461.0 L195.2 461.7 L195.8 462.0 L196.4 462.1 L197.0 462.2 L197.6 461.7 L198.2 462.1 L198.8 462.2 L199.4 461.6 L200.0 461.8 L200.6 461.6 L201.2 462.1 L201.8 461.9 L202.4 461.9 L203.0 462.1 L203.6 462.2 L204.2 461.6 L204.8 462.1 L205.4 461.9 L206.0 462.1 L206.6 461.5 L207.2 461.8 L207.8 462.2 L208.4 462.0 L209.0 461.2 L209.6 462.0 L210.2 462.1 L210.8 462.1 L211.4 462.1 L212.0 461.9 L212.6 462.1 L213.2 462.1 L213.8 461.9 L214.4 462.0 L215.0 462.0 L215.6 462.0 L216.2 462.0 L216.8 462.0 L217.4 462.1 L218.0 462.0 L218.6 462.0 L219.2 461.2 L219.8 462.2 L220.4 461.8 L221.0 462.1 L221.6 462.2 L222.2 461.9 L222.8 461.8 L223.4 462.0 L224.0 462.1 L224.6 462.1 L225.2 462.1 L225.8 462.0 L226.4 462.0 L227.0 461.1 L227.6 461.9 L228.2 462.1 L228.8 462.0 L229.4 462.2 L230.0 462.0 L230.6 461.8 L231.2 462.0 L231.8 461.7 L232.4 462.1 L233.0 462.1 L233.6 461.8 L234.2 461.8 L234.8 462.1 L235.4 462.2 L236.0 462.0 L236.6 461.6 L237.2 462.0 L237.8 462.0 L238.4 462.2 L239.0 461.9 L239.6 462.2 L240.2 462.2 L240.8 461.8 L241.4 461.9 L242.0 461.9 L242.6 461.5 L243.2 462.2 L243.8 461.2 L244.4 462.0 L245.0 461.9 L245.6 462.2 L246.2 462.2 L246.8 462.1 L247.4 462.2 L248.0 462.0 L248.6 461.9 L249.2 462.0 L249.8 462.2 L250.4 461.7 L251.0 462.1 L251.6 462.1 L252.2 461.9 L252.8 462.2 L253.4 461.9 L254.0 461.8 L254.6 461.7 L255.2 462.1 L255.8 461.7 L256.4 462.0 L257.0 462.2 L257.6 461.7 L258.2 461.8 L258.8 462.2 L259.4 462.1 L260.0 462.0 L260.6 462.0 L261.2 461.9 L261.8 461.9 L262.4 461.4 L263.0 462.1 L263.6 461.8 L264.2 462.0 L264.8 462.2 L265.4 462.0 L266.0 461.7 L266.6 462.2 L267.2 462.2 L267.8 461.8 L268.4 461.9 L269.0 462.2 L269.6 461.1 L270.2 461.9 L270.8 462.2 L271.4 462.0 L272.0 462.2 L272.6 461.7 L273.2 462.2 L273.8 461.9 L274.4 462.1 L275.0 461.7 L275.6 462.0 L276.2 461.8 L276.8 462.2 L277.4 462.0 L278.0 462.0 L278.6 461.9 L279.2 462.0 L279.8 462.1 L280.4 461.8 L281.0 462.0 L281.6 462.2 L282.2 462.0 L282.8 462.2 L283.4 462.1 L284.0 462.1 L284.6 461.9 L285.2 461.5 L285.8 461.5 L286.4 462.1 L287.0 462.1 L287.6 461.6 L288.2 461.8 L288.8 462.1 L289.4 462.2 L290.0 461.7 L290.6 461.4 L291.2 462.1 L291.8 461.6 L292.4 462.0 L293.0 462.0 L293.6 462.0 L294.2 462.1 L294.8 462.2 L295.4 462.2 L296.0 462.2 L296.6 462.1 L297.2 461.9 L297.8 462.1 L298.4 462.2 L299.0 461.8 L299.6 462.1 L300.2 461.9 L300.8 462.1 L301.4 462.2 L302.0 462.2 L302.6 462.1 L303.2 461.6 L303.8 462.0 L304.4 461.1 L305.0 461.7 L305.6 462.2 L306.2 462.1 L306.8 462.1 L307.4 462.2 L308.0 461.7 L308.6 462.0 L309.2 462.2 L309.8 462.0 L310.4 462.2 L311.0 462.1 L311.6 462.2 L312.2 461.1 L312.8 462.1 L313.4 461.7 L314.0 462.0 L314.6 462.1 L315.2 462.1 L315.8 461.9 L316.4 462.2 L317.0 461.9 L317.6 462.2 L318.2 461.5 L318.8 462.1 L319.4 461.5 L320.0 462.1 L320.6 461.8 L321.2 461.7 L321.8 461.8 L322.4 462.0 L323.0 462.2 L323.6 462.1 L324.2 461.8 L324.8 461.5 L325.4 462.1 L326.0 461.4 L326.6 462.1 L327.2 461.8 L327.8 461.3 L328.4 462.1 L329.0 462.1 L329.6 462.1 L330.2 462.2 L330.8 461.9 L331.4 462.1 L332.0 461.8 L332.6 461.9 L333.2 462.1 L333.8 461.4 L334.4 461.2 L335.0 462.1 L335.6 462.2 L336.2 461.6 L336.8 462.2 L337.4 462.2 L338.0 462.2 L338.6 461.9 L339.2 462.2 L339.8 461.7 L340.4 462.1 L341.0 462.0 L341.6 462.1 L342.2 462.0 L342.8 462.1 L343.4 461.9 L344.0 461.9 L344.6 462.1 L345.2 461.6 L345.8 461.9 L346.4 462.2 L347.0 461.8 L347.6 461.4 L348.2 461.6 L348.8 462.1 L349.4 462.1 L350.0 461.8 L350.6 462.1 L351.2 462.1 L351.8 462.2 L352.4 462.1 L353.0 461.8 L353.6 462.0 L354.2 461.9 L354.8 461.9 L355.4 461.6 L356.0 461.8 L356.6 461.8 L357.2 462.2 L357.8 462.2 L358.4 462.2 L359.0 461.1 L359.6 462.1 L360.2 461.8 L360.8 461.5 L361.4 461.7 L362.0 462.2 L362.6 461.9 L363.2 462.1 L363.8 462.0 L364.4 462.2 L365.0 461.9 L365.6 462.2 L366.2 462.1 L366.8 462.1 L367.4 462.2 L368.0 462.2 L368.6 462.1 L369.2 462.2 L369.8 462.1 L370.4 461.9 L371.0 462.1 L371.6 462.2 L372.2 462.0 L372.8 462.1 L373.4 462.1 L374.0 462.0 L374.6 461.9 L375.2 461.5 L375.8 462.2 L376.4 461.8 L377.0 462.1 L377.6 462.2 L378.2 462.1 L378.8 461.7 L379.4 461.8 L380.0 462.0 L380.6 461.9 L381.2 462.1 L381.8 461.8 L382.4 461.6 L383.0 461.7 L383.6 462.0 L384.2 462.0 L384.8 462.1 L385.4 462.1 L386.0 462.0 L386.6 462.1 L387.2 462.1 L387.8 461.7 L388.4 462.1 L389.0 461.9 L389.6 462.1 L390.2 461.8 L390.8 462.1 L391.4 462.1 L392.0 461.9 L392.6 461.7 L393.2 462.1 L393.8 462.2 L394.4 462.0 L395.0 461.9 L395.6 462.1 L396.2 461.9 L396.8 461.6 L397.4 461.8 L398.0 462.1 L398.6 462.2 L399.2 462.1 L399.8 461.6 L400.4 461.9 L401.0 461.8 L401.6 462.2 L402.2 462.0 L402.8 461.6 L403.4 462.2 L404.0 462.2 L404.6 462.1 L405.2 462.1 L405.8 462.2 L406.4 462.0 L407.0 462.1 L407.6 461.4 L408.2 462.2 L408.8 462.2 L409.4 461.7 L410.0 461.6 L410.6 462.0 L411.2 462.0 L411.8 461.6 L412.4 462.0 L413.0 462.2 L413.6 462.1 L414.2 462.0 L414.8 462.1 L415.4 461.8 L416.0 461.5 L416.6 462.0 L417.2 462.0 L417.8 462.1 L418.4 461.4 L419.0 461.9 L419.6 462.1 L420.2 461.8 L420.8 461.7 L421.4 462.0 L422.0 462.0 L422.6 462.2 L423.2 462.2 L423.8 461.9 L424.4 461.8 L425.0 461.8 L425.6 461.9 L426.2 461.7 L426.8 461.8 L427.4 461.8 L428.0 462.2 L428.6 461.5 L429.2 461.9 L429.8 461.9 L430.4 461.9 L431.0 461.9 L431.6 462.2 L432.2 462.1 L432.8 461.7 L433.4 462.1 L434.0 461.8 L434.6 462.0 L435.2 461.5 L435.8 461.9 L436.4 461.5 L437.0 462.0 L437.6 462.1 L438.2 461.7 L438.8 462.2 L439.4 462.1 L440.0 461.4 L440.6 462.2 L441.2 462.1 L441.8 461.7 L442.4 462.1 L443.0 461.8 L443.6 462.1 L444.2 462.1 L444.8 462.2 L445.4 461.1 L446.0 462.2 L446.6 462.2 L447.2 462.1 L447.8 462.0 L448.4 462.1 L449.0 461.8 L449.6 462.1 L450.2 462.0 L450.8 462.1 L451.4 462.0 L452.0 462.0 L452.6 461.8 L453.2 462.0 L453.8 462.2 L454.4 461.9 L455.0 462.2 L455.6 462.2 L456.2 461.6 L456.8 461.3 L457.4 462.2 L458.0 462.1 L458.6 461.9 L459.2 462.1 L459.8 461.2 L460.4 462.1 L461.0 462.1 L461.6 462.1 L462.2 462.1 L462.8 461.9 L463.4 461.8 L464.0 462.1 L464.6 461.9 L465.2 461.8 L465.8 461.9 L466.4 462.2 L467.0 462.1 L467.6 461.6 L468.2 461.4 L468.8 461.6 L469.4 462.2 L470.0 462.2 L470.6 462.0 L471.2 462.1 L471.8 461.2 L472.4 462.2 L473.0 462.0 L473.6 461.4 L474.2 461.6 L474.8 462.0 L475.4 462.0 L476.0 462.0 L476.6 462.1 L477.2 462.1 L477.8 462.0 L478.4 462.0 L479.0 461.9 L479.6 462.2 L480.2 462.1 L480.8 462.1 L481.4 462.2 L482.0 462.1 L482.6 462.0 L483.2 462.2 L483.8 462.1 L484.4 462.1 L485.0 461.9 L485.6 462.0 L486.2 462.2 L486.8 461.8 L487.4 461.9 L488.0 462.2 L488.6 461.8 L489.2 462.1 L489.8 462.1 L490.4 461.6 L491.0 462.2 L491.6 462.2 L492.2 461.8 L492.8 461.9 L493.4 461.9 L494.0 462.1 L494.6 462.2 L495.2 462.2 L495.8 461.9 L496.4 462.2 L497.0 462.2 L497.6 462.1 L498.2 461.4 L498.8 462.1 L499.4 462.1 L500.0 462.2Z" fill="#3d259a"/>
<path d="M84.9 462.2 L85.3 460.1 L86.5 459.5 L86.9 448.8 L87.3 443.1 L87.7 447.9 L88.2 454.6 L88.9 458.8 L89.8 460.3 L90.1 461.4 L90.6 462.2Z" fill="#3d259a"/>
<path d="M106.2 462.2 L106.6 459.4 L107.8 458.7 L108.2 444.3 L108.6 436.6 L109.0 443.0 L109.5 452.0 L110.2 457.6 L111.1 459.6 L111.4 461.4 L111.9 462.2Z" fill="#3d259a"/>
<path d="M131.1 462.2 L131.5 459.4 L132.7 458.7 L133.1 443.2 L133.5 435.0 L133.9 441.8 L134.4 451.3 L135.1 457.3 L136.0 459.5 L136.3 461.4 L136.8 462.2Z" fill="#3d259a"/>
<path d="M159.3 462.2 L159.7 461.0 L160.9 460.7 L161.3 454.8 L161.7 451.6 L162.1 454.2 L162.6 458.0 L163.3 460.3 L164.2 461.1 L164.2 461.4 L164.7 462.2Z" fill="#3d259a"/>
<path d="M67.0 462.2 L67.7 458.0 L68.4 462.2Z" fill="#3d259a"/>
<path d="M459.0 462.2 L459.0 456.7 L459.5 456.7 L459.5 459.0 L460.0 459.0 L460.0 457.1 L460.5 457.1 L460.5 460.1 L461.0 460.1 L461.0 454.9 L461.5 454.9 L461.5 457.3 L462.0 457.3 L462.0 456.9 L462.5 456.9 L462.5 458.8 L463.0 458.8 L463.0 457.9 L463.5 457.9 L463.5 457.5 L464.0 457.5 L464.0 459.9 L464.5 459.9 L464.5 457.9 L465.0 457.9 L465.0 458.3 L465.5 458.3 L465.5 458.2 L466.0 458.2 L466.0 459.3 L466.5 459.3 L466.5 456.6 L467.0 456.6 L467.0 457.5 L467.5 457.5 L467.5 459.7 L468.0 459.7 L468.0 459.5 L468.5 459.5 L468.5 459.4 L469.0 459.4 L469.0 460.7 L469.5 460.7 L469.5 457.6 L470.0 457.6 L470.0 455.6 L470.5 455.6 L470.5 459.9 L471.0 459.9 L471.0 457.3 L471.5 457.3 L471.5 456.8 L472.0 456.8 L472.0 460.5 L472.5 460.5 L472.5 456.9 L473.0 456.9 L473.0 458.8 L473.5 458.8 L473.5 461.0 L474.0 461.0 L474.0 460.1 L474.5 460.1 L474.5 461.1 L475.0 461.1 L475.0 461.2 L475.5 461.2 L475.5 461.0 L476.0 461.0 L476.0 461.6 L476.5 461.6 L476.5 461.8 L477.0 461.8 L477.0 462.1 L477.5 462.1 L477.0 462.2Z" fill="#3d259a"/>
<path d="M456.2 462.2 L456.6 459.7 L457.8 459.0 L458.2 446.4 L458.6 439.6 L459.0 445.2 L459.5 453.2 L460.2 458.1 L461.1 459.9 L460.1 461.4 L460.6 462.2Z" fill="#3d259a"/>
<path d="M412.2 462.2 L413.0 459.5 L413.8 462.2Z" fill="#3d259a"/>
<path d="M492.2 462.2 L492.7 457.5 L493.2 462.2Z" fill="#3d259a"/>
<path d="M56.0 506.3 L56.0 506.0 L56.6 505.9 L57.2 506.1 L57.8 506.1 L58.4 506.3 L59.0 505.1 L59.6 506.1 L60.2 505.9 L60.8 506.3 L61.4 506.2 L62.0 506.1 L62.6 505.9 L63.2 506.1 L63.8 506.2 L64.4 505.9 L65.0 505.8 L65.6 505.8 L66.2 506.1 L66.8 506.1 L67.4 506.2 L68.0 506.2 L68.6 506.3 L69.2 505.9 L69.8 506.1 L70.4 505.0 L71.0 506.1 L71.6 505.9 L72.2 506.1 L72.8 506.3 L73.4 506.2 L74.0 506.2 L74.6 506.3 L75.2 505.9 L75.8 505.8 L76.4 505.5 L77.0 506.1 L77.6 505.9 L78.2 506.1 L78.8 506.1 L79.4 505.5 L80.0 505.6 L80.6 506.3 L81.2 506.2 L81.8 506.2 L82.4 506.1 L83.0 506.2 L83.6 506.3 L84.2 506.1 L84.8 505.3 L85.4 504.7 L86.0 505.2 L86.6 506.1 L87.2 505.8 L87.8 506.1 L88.4 506.0 L89.0 505.1 L89.6 506.1 L90.2 506.2 L90.8 506.1 L91.4 506.2 L92.0 506.1 L92.6 506.3 L93.2 505.9 L93.8 506.2 L94.4 506.1 L95.0 506.2 L95.6 506.1 L96.2 506.3 L96.8 506.2 L97.4 506.0 L98.0 506.1 L98.6 506.2 L99.2 505.4 L99.8 506.2 L100.4 506.3 L101.0 506.1 L101.6 505.9 L102.2 506.1 L102.8 506.1 L103.4 506.1 L104.0 506.2 L104.6 506.0 L105.2 505.5 L105.8 506.2 L106.4 506.2 L107.0 505.5 L107.6 506.2 L108.2 505.9 L108.8 505.8 L109.4 505.4 L110.0 506.1 L110.6 506.1 L111.2 506.2 L111.8 506.3 L112.4 505.8 L113.0 506.3 L113.6 506.0 L114.2 505.9 L114.8 505.6 L115.4 506.3 L116.0 506.3 L116.6 505.6 L117.2 505.9 L117.8 506.2 L118.4 506.2 L119.0 506.2 L119.6 505.9 L120.2 505.8 L120.8 505.3 L121.4 506.0 L122.0 506.2 L122.6 506.3 L123.2 506.2 L123.8 506.3 L124.4 506.1 L125.0 505.9 L125.6 505.7 L126.2 505.9 L126.8 506.2 L127.4 505.7 L128.0 505.2 L128.6 506.0 L129.2 506.0 L129.8 505.6 L130.4 505.1 L131.0 506.1 L131.6 506.0 L132.2 505.6 L132.8 505.9 L133.4 505.6 L134.0 506.2 L134.6 506.2 L135.2 506.1 L135.8 506.3 L136.4 506.2 L137.0 506.1 L137.6 506.0 L138.2 505.7 L138.8 505.7 L139.4 505.1 L140.0 506.1 L140.6 506.1 L141.2 506.2 L141.8 505.6 L142.4 505.9 L143.0 506.0 L143.6 506.2 L144.2 506.0 L144.8 505.4 L145.4 506.2 L146.0 506.1 L146.6 506.2 L147.2 506.2 L147.8 506.3 L148.4 506.1 L149.0 506.2 L149.6 505.9 L150.2 505.8 L150.8 506.1 L151.4 506.3 L152.0 506.2 L152.6 506.0 L153.2 506.2 L153.8 505.0 L154.4 506.2 L155.0 506.1 L155.6 506.1 L156.2 505.5 L156.8 506.0 L157.4 505.8 L158.0 505.9 L158.6 506.2 L159.2 505.9 L159.8 506.2 L160.4 506.3 L161.0 506.2 L161.6 506.3 L162.2 506.2 L162.8 506.2 L163.4 506.1 L164.0 506.3 L164.6 506.0 L165.2 506.2 L165.8 506.0 L166.4 506.0 L167.0 506.1 L167.6 505.7 L168.2 506.3 L168.8 506.2 L169.4 505.9 L170.0 505.6 L170.6 506.1 L171.2 506.2 L171.8 506.1 L172.4 506.3 L173.0 506.2 L173.6 506.1 L174.2 506.0 L174.8 506.1 L175.4 506.1 L176.0 506.3 L176.6 506.3 L177.2 506.1 L177.8 506.3 L178.4 506.2 L179.0 506.2 L179.6 506.1 L180.2 506.2 L180.8 506.3 L181.4 506.0 L182.0 504.9 L182.6 505.9 L183.2 506.0 L183.8 506.3 L184.4 506.2 L185.0 506.1 L185.6 506.0 L186.2 506.3 L186.8 506.1 L187.4 505.4 L188.0 505.4 L188.6 505.6 L189.2 506.3 L189.8 505.9 L190.4 505.9 L191.0 506.1 L191.6 505.7 L192.2 506.2 L192.8 505.8 L193.4 506.2 L194.0 505.9 L194.6 506.1 L195.2 505.8 L195.8 506.0 L196.4 506.1 L197.0 506.2 L197.6 505.8 L198.2 506.3 L198.8 505.7 L199.4 506.0 L200.0 506.1 L200.6 506.1 L201.2 506.1 L201.8 506.2 L202.4 505.3 L203.0 504.7 L203.6 506.1 L204.2 505.5 L204.8 505.5 L205.4 505.8 L206.0 506.1 L206.6 506.0 L207.2 506.1 L207.8 506.3 L208.4 506.2 L209.0 506.1 L209.6 506.2 L210.2 506.1 L210.8 506.2 L211.4 506.0 L212.0 506.1 L212.6 505.8 L213.2 505.3 L213.8 505.7 L214.4 506.1 L215.0 506.3 L215.6 506.2 L216.2 506.1 L216.8 506.3 L217.4 506.2 L218.0 505.9 L218.6 506.1 L219.2 505.5 L219.8 506.3 L220.4 506.2 L221.0 506.2 L221.6 505.9 L222.2 506.2 L222.8 505.5 L223.4 506.0 L224.0 506.2 L224.6 505.7 L225.2 505.6 L225.8 506.2 L226.4 505.9 L227.0 506.3 L227.6 506.1 L228.2 506.0 L228.8 506.2 L229.4 506.1 L230.0 505.5 L230.6 506.2 L231.2 506.3 L231.8 506.3 L232.4 506.3 L233.0 506.1 L233.6 506.0 L234.2 506.2 L234.8 506.1 L235.4 506.2 L236.0 505.9 L236.6 506.2 L237.2 505.7 L237.8 506.2 L238.4 505.8 L239.0 506.3 L239.6 506.2 L240.2 506.2 L240.8 505.4 L241.4 506.3 L242.0 505.9 L242.6 506.2 L243.2 506.2 L243.8 505.9 L244.4 506.1 L245.0 505.3 L245.6 506.2 L246.2 505.3 L246.8 506.2 L247.4 505.8 L248.0 506.3 L248.6 506.1 L249.2 506.3 L249.8 506.2 L250.4 506.0 L251.0 505.6 L251.6 506.1 L252.2 505.4 L252.8 505.8 L253.4 506.0 L254.0 505.9 L254.6 506.0 L255.2 505.8 L255.8 505.8 L256.4 505.5 L257.0 505.8 L257.6 506.1 L258.2 506.2 L258.8 506.1 L259.4 506.0 L260.0 506.0 L260.6 505.8 L261.2 506.3 L261.8 506.2 L262.4 506.0 L263.0 506.3 L263.6 505.7 L264.2 506.3 L264.8 506.2 L265.4 506.1 L266.0 505.7 L266.6 506.2 L267.2 506.2 L267.8 506.2 L268.4 506.2 L269.0 506.2 L269.6 506.1 L270.2 506.1 L270.8 506.1 L271.4 505.8 L272.0 506.0 L272.6 505.3 L273.2 506.3 L273.8 506.2 L274.4 506.3 L275.0 506.2 L275.6 506.2 L276.2 505.9 L276.8 505.8 L277.4 505.6 L278.0 506.3 L278.6 506.2 L279.2 505.9 L279.8 506.0 L280.4 506.3 L281.0 506.2 L281.6 505.9 L282.2 504.8 L282.8 506.3 L283.4 506.2 L284.0 506.2 L284.6 506.3 L285.2 506.3 L285.8 505.7 L286.4 505.9 L287.0 505.7 L287.6 506.2 L288.2 506.2 L288.8 505.9 L289.4 506.2 L290.0 506.0 L290.6 505.9 L291.2 506.1 L291.8 505.9 L292.4 506.2 L293.0 505.9 L293.6 505.4 L294.2 506.1 L294.8 506.1 L295.4 505.6 L296.0 505.8 L296.6 506.1 L297.2 506.2 L297.8 506.3 L298.4 506.1 L299.0 506.0 L299.6 505.9 L300.2 505.9 L300.8 506.1 L301.4 506.3 L302.0 505.9 L302.6 506.1 L303.2 506.0 L303.8 506.1 L304.4 505.9 L305.0 506.0 L305.6 506.3 L306.2 505.5 L306.8 506.3 L307.4 506.1 L308.0 505.7 L308.6 506.1 L309.2 506.1 L309.8 506.1 L310.4 506.0 L311.0 506.3 L311.6 506.2 L312.2 505.0 L312.8 506.2 L313.4 506.2 L314.0 506.2 L314.6 506.2 L315.2 506.1 L315.8 505.7 L316.4 506.1 L317.0 506.1 L317.6 506.3 L318.2 506.3 L318.8 506.3 L319.4 506.3 L320.0 506.2 L320.6 506.0 L321.2 505.9 L321.8 504.7 L322.4 506.2 L323.0 506.3 L323.6 506.2 L324.2 506.2 L324.8 505.8 L325.4 506.2 L326.0 506.1 L326.6 506.2 L327.2 506.0 L327.8 506.1 L328.4 506.1 L329.0 505.5 L329.6 505.8 L330.2 506.0 L330.8 506.1 L331.4 506.3 L332.0 506.3 L332.6 506.3 L333.2 505.5 L333.8 506.0 L334.4 506.2 L335.0 506.0 L335.6 506.0 L336.2 506.2 L336.8 506.3 L337.4 506.2 L338.0 506.3 L338.6 505.9 L339.2 505.4 L339.8 505.9 L340.4 506.2 L341.0 505.9 L341.6 506.1 L342.2 506.0 L342.8 506.2 L343.4 506.2 L344.0 505.0 L344.6 506.1 L345.2 506.1 L345.8 506.0 L346.4 506.0 L347.0 506.2 L347.6 506.3 L348.2 505.8 L348.8 505.8 L349.4 506.3 L350.0 506.3 L350.6 506.1 L351.2 506.2 L351.8 505.9 L352.4 506.2 L353.0 506.2 L353.6 506.2 L354.2 506.3 L354.8 506.1 L355.4 506.2 L356.0 506.0 L356.6 506.3 L357.2 506.0 L357.8 506.2 L358.4 506.1 L359.0 506.2 L359.6 505.8 L360.2 506.1 L360.8 506.0 L361.4 506.0 L362.0 506.1 L362.6 506.0 L363.2 506.3 L363.8 506.2 L364.4 506.0 L365.0 506.2 L365.6 506.2 L366.2 506.2 L366.8 506.3 L367.4 506.2 L368.0 506.1 L368.6 506.3 L369.2 506.1 L369.8 506.3 L370.4 506.2 L371.0 506.2 L371.6 506.2 L372.2 506.0 L372.8 506.0 L373.4 506.2 L374.0 506.0 L374.6 506.1 L375.2 505.3 L375.8 506.1 L376.4 505.6 L377.0 506.2 L377.6 506.1 L378.2 506.1 L378.8 506.1 L379.4 505.9 L380.0 506.3 L380.6 506.2 L381.2 506.3 L381.8 506.3 L382.4 506.2 L383.0 506.1 L383.6 505.8 L384.2 506.1 L384.8 505.9 L385.4 506.2 L386.0 505.8 L386.6 506.1 L387.2 505.9 L387.8 505.9 L388.4 506.0 L389.0 505.9 L389.6 506.3 L390.2 506.1 L390.8 506.2 L391.4 505.3 L392.0 506.0 L392.6 506.0 L393.2 506.3 L393.8 506.2 L394.4 506.3 L395.0 505.8 L395.6 506.1 L396.2 506.1 L396.8 506.0 L397.4 506.1 L398.0 506.0 L398.6 506.0 L399.2 506.1 L399.8 505.8 L400.4 506.3 L401.0 505.2 L401.6 506.0 L402.2 505.8 L402.8 506.3 L403.4 506.0 L404.0 506.2 L404.6 506.3 L405.2 506.2 L405.8 506.2 L406.4 506.3 L407.0 506.2 L407.6 506.2 L408.2 506.2 L408.8 506.1 L409.4 506.1 L410.0 505.8 L410.6 505.7 L411.2 505.6 L411.8 506.3 L412.4 506.1 L413.0 506.2 L413.6 506.1 L414.2 506.0 L414.8 506.3 L415.4 506.3 L416.0 506.0 L416.6 506.3 L417.2 506.1 L417.8 506.1 L418.4 506.2 L419.0 506.2 L419.6 506.1 L420.2 506.2 L420.8 506.2 L421.4 506.2 L422.0 506.2 L422.6 506.0 L423.2 506.1 L423.8 506.3 L424.4 506.3 L425.0 506.1 L425.6 505.9 L426.2 506.3 L426.8 506.3 L427.4 505.3 L428.0 506.2 L428.6 506.0 L429.2 505.9 L429.8 505.8 L430.4 506.3 L431.0 506.1 L431.6 506.3 L432.2 506.3 L432.8 506.2 L433.4 506.2 L434.0 506.2 L434.6 506.1 L435.2 506.2 L435.8 506.2 L436.4 506.0 L437.0 506.0 L437.6 505.4 L438.2 505.9 L438.8 506.0 L439.4 506.2 L440.0 506.1 L440.6 506.3 L441.2 506.0 L441.8 506.0 L442.4 506.2 L443.0 505.6 L443.6 506.3 L444.2 506.1 L444.8 504.7 L445.4 505.4 L446.0 505.9 L446.6 506.2 L447.2 505.7 L447.8 506.0 L448.4 505.0 L449.0 506.3 L449.6 505.9 L450.2 505.2 L450.8 506.1 L451.4 506.3 L452.0 505.5 L452.6 506.2 L453.2 506.3 L453.8 505.9 L454.4 506.2 L455.0 505.8 L455.6 505.2 L456.2 505.7 L456.8 506.3 L457.4 506.3 L458.0 506.0 L458.6 506.0 L459.2 504.8 L459.8 506.3 L460.4 505.8 L461.0 506.3 L461.6 506.2 L462.2 506.2 L462.8 506.0 L463.4 506.1 L464.0 506.2 L464.6 506.3 L465.2 505.7 L465.8 506.0 L466.4 506.2 L467.0 505.7 L467.6 506.0 L468.2 505.7 L468.8 506.0 L469.4 506.2 L470.0 506.2 L470.6 506.0 L471.2 506.0 L471.8 506.2 L472.4 506.0 L473.0 506.2 L473.6 506.0 L474.2 505.8 L474.8 506.0 L475.4 505.9 L476.0 506.3 L476.6 506.2 L477.2 505.6 L477.8 506.3 L478.4 506.3 L479.0 506.2 L479.6 506.2 L480.2 506.0 L480.8 506.2 L481.4 506.0 L482.0 506.1 L482.6 506.0 L483.2 505.9 L483.8 506.0 L484.4 506.1 L485.0 505.5 L485.6 506.0 L486.2 506.1 L486.8 506.1 L487.4 506.2 L488.0 506.2 L488.6 506.2 L489.2 506.1 L489.8 506.2 L490.4 506.0 L491.0 505.9 L491.6 506.2 L492.2 506.1 L492.8 506.2 L493.4 506.1 L494.0 506.0 L494.6 506.2 L495.2 506.1 L495.8 506.1 L496.4 506.2 L497.0 506.0 L497.6 506.0 L498.2 506.3 L498.8 506.0 L499.4 505.6 L500.0 506.3Z" fill="#3d259a"/>
<path d="M84.9 506.3 L85.3 504.4 L86.5 503.9 L86.9 494.5 L87.3 489.4 L87.7 493.6 L88.2 499.5 L88.9 503.3 L89.8 504.6 L89.9 505.5 L90.4 506.3Z" fill="#3d259a"/>
<path d="M106.2 506.3 L106.6 503.5 L107.8 502.8 L108.2 485.6 L108.6 476.7 L109.0 484.1 L109.5 494.5 L110.2 501.0 L111.1 503.3 L111.4 505.5 L111.9 506.3Z" fill="#3d259a"/>
<path d="M130.6 506.3 L131.0 504.7 L132.2 504.3 L132.6 496.1 L133.0 491.7 L133.4 495.4 L133.9 500.5 L134.6 503.7 L135.5 504.8 L135.6 505.5 L136.1 506.3Z" fill="#3d259a"/>
<path d="M159.3 506.3 L159.7 505.3 L160.9 505.0 L161.3 499.8 L161.7 497.0 L162.1 499.3 L162.6 502.6 L163.3 504.6 L164.2 505.4 L164.1 505.5 L164.6 506.3Z" fill="#3d259a"/>
<path d="M66.8 506.3 L67.5 502.5 L68.2 506.3Z" fill="#3d259a"/>
<path d="M74.3 506.3 L75.0 503.5 L75.7 506.3Z" fill="#3d259a"/>
<path d="M82.3 506.3 L83.0 504.0 L83.7 506.3Z" fill="#3d259a"/>
<path d="M114.3 506.3 L115.0 503.5 L115.7 506.3Z" fill="#3d259a"/>
<path d="M124.3 506.3 L125.0 503.0 L125.7 506.3Z" fill="#3d259a"/>
<path d="M145.3 506.3 L146.0 504.0 L146.7 506.3Z" fill="#3d259a"/>
<path d="M149.3 506.3 L150.0 503.5 L150.7 506.3Z" fill="#3d259a"/>
<path d="M287.7 506.3 L288.1 503.6 L289.3 503.0 L289.7 489.6 L290.1 482.5 L290.5 488.4 L291.0 496.8 L291.7 502.0 L292.6 503.9 L294.1 505.5 L294.6 506.3Z" fill="#3d259a"/>
<path d="M318.4 506.3 L318.8 504.8 L320.0 504.5 L320.4 497.2 L320.8 493.3 L321.2 496.6 L321.7 501.1 L322.4 504.0 L323.3 505.0 L324.3 505.5 L324.8 506.3Z" fill="#3d259a"/>
<path d="M292.0 506.3 L292.0 504.3 L292.6 505.4 L293.2 504.9 L293.8 504.4 L294.4 506.3 L295.0 505.4 L295.6 506.1 L296.2 506.0 L296.8 504.9 L297.4 505.1 L298.0 503.5 L298.6 504.9 L299.2 504.1 L299.8 505.5 L300.4 505.8 L301.0 505.2 L301.6 502.7 L302.2 506.1 L302.8 504.4 L303.4 505.1 L304.0 504.4 L304.6 503.9 L305.2 503.2 L305.8 504.4 L306.4 506.1 L307.0 502.4 L307.6 504.4 L308.2 505.1 L308.8 503.9 L309.4 505.0 L310.0 505.2 L310.6 505.8 L311.2 505.1 L311.8 503.5 L312.0 506.3Z" fill="#3d259a"/>
<path d="M322.0 506.3 L322.0 504.1 L322.6 504.9 L323.2 505.0 L323.8 506.2 L324.4 505.5 L325.0 504.8 L325.6 504.1 L326.2 505.9 L326.8 505.7 L327.4 505.0 L328.0 506.2 L328.6 503.8 L329.2 505.1 L329.8 503.5 L330.4 505.5 L331.0 505.2 L331.6 504.0 L332.2 504.6 L332.8 503.4 L333.4 505.8 L334.0 505.5 L334.6 505.3 L335.2 503.8 L335.8 506.1 L336.4 505.0 L337.0 506.1 L337.6 505.5 L338.2 505.1 L338.8 505.9 L339.4 501.7 L340.0 505.2 L340.6 505.2 L341.2 506.2 L341.8 505.5 L342.4 505.8 L343.0 503.9 L343.6 504.1 L344.2 505.8 L344.8 503.8 L345.4 502.6 L346.0 505.4 L346.6 504.5 L347.2 506.0 L347.8 502.8 L348.4 504.8 L349.0 505.7 L349.6 503.8 L350.2 505.0 L350.8 505.7 L351.4 504.6 L352.0 501.7 L352.6 504.3 L353.2 505.6 L353.8 506.0 L354.4 505.7 L355.0 502.4 L355.6 505.1 L356.2 504.4 L356.8 502.8 L357.4 504.3 L358.0 504.5 L358.6 506.0 L359.2 504.2 L359.8 505.7 L360.4 506.2 L361.0 502.4 L361.6 505.7 L362.2 505.2 L362.8 505.9 L363.4 503.7 L364.0 505.7 L364.6 505.6 L365.2 505.0 L365.8 505.7 L366.4 505.7 L367.0 505.8 L367.6 505.6 L368.2 506.2 L368.8 502.2 L369.4 506.1 L370.0 506.3Z" fill="#3d259a"/>
<path d="M410.7 506.3 L411.1 505.4 L412.3 505.2 L412.7 500.6 L413.1 498.2 L413.5 500.2 L414.0 503.1 L414.7 504.8 L415.6 505.5 L416.6 505.5 L417.1 506.3Z" fill="#3d259a"/>
<path d="M459.0 506.3 L459.0 500.3 L459.5 500.3 L459.5 503.9 L460.0 503.9 L460.0 503.9 L460.5 503.9 L460.5 503.7 L461.0 503.7 L461.0 500.6 L461.5 500.6 L461.5 503.3 L462.0 503.3 L462.0 503.5 L462.5 503.5 L462.5 503.3 L463.0 503.3 L463.0 503.6 L463.5 503.6 L463.5 505.2 L464.0 505.2 L464.0 503.1 L464.5 503.1 L464.5 502.6 L465.0 502.6 L465.0 504.0 L465.5 504.0 L465.5 501.9 L466.0 501.9 L466.0 504.2 L466.5 504.2 L466.5 499.3 L467.0 499.3 L467.0 502.7 L467.5 502.7 L467.5 501.1 L468.0 501.1 L468.0 501.8 L468.5 501.8 L468.5 501.7 L469.0 501.7 L469.0 501.1 L469.5 501.1 L469.5 501.7 L470.0 501.7 L470.0 498.8 L470.5 498.8 L470.5 499.6 L471.0 499.6 L471.0 499.6 L471.5 499.6 L471.5 498.5 L472.0 498.5 L472.0 501.3 L472.5 501.3 L472.5 499.1 L473.0 499.1 L473.0 499.9 L473.5 499.9 L473.5 503.7 L474.0 503.7 L474.0 501.5 L474.5 501.5 L474.5 503.3 L475.0 503.3 L475.0 503.8 L475.5 503.8 L475.5 504.7 L476.0 504.7 L476.0 505.6 L476.5 505.6 L476.5 505.5 L477.0 505.5 L477.0 505.8 L477.5 505.8 L477.0 506.3Z" fill="#3d259a"/>
<path d="M456.2 506.3 L456.6 503.6 L457.8 502.9 L458.2 489.3 L458.6 482.0 L459.0 488.1 L459.5 496.6 L460.2 501.9 L461.1 503.9 L460.1 505.5 L460.6 506.3Z" fill="#3d259a"/>
<path d="M489.9 506.3 L490.5 503.0 L491.1 506.3Z" fill="#3d259a"/>
<path d="M56.0 555.8 L56.0 555.3 L56.6 555.7 L57.2 555.7 L57.8 555.7 L58.4 555.7 L59.0 555.7 L59.6 555.8 L60.2 555.7 L60.8 555.8 L61.4 555.6 L62.0 555.3 L62.6 555.7 L63.2 555.8 L63.8 555.8 L64.4 555.7 L65.0 555.8 L65.6 555.5 L66.2 555.6 L66.8 555.6 L67.4 555.7 L68.0 555.8 L68.6 555.7 L69.2 555.7 L69.8 555.7 L70.4 555.6 L71.0 555.8 L71.6 555.7 L72.2 555.7 L72.8 555.7 L73.4 555.7 L74.0 555.7 L74.6 555.7 L75.2 555.8 L75.8 555.5 L76.4 555.7 L77.0 555.8 L77.6 555.8 L78.2 555.8 L78.8 555.4 L79.4 555.3 L80.0 555.7 L80.6 555.8 L81.2 555.8 L81.8 555.8 L82.4 555.4 L83.0 555.8 L83.6 555.6 L84.2 555.7 L84.8 555.5 L85.4 555.6 L86.0 555.7 L86.6 555.6 L87.2 555.8 L87.8 555.8 L88.4 555.5 L89.0 555.7 L89.6 555.6 L90.2 555.8 L90.8 555.6 L91.4 555.8 L92.0 555.5 L92.6 555.8 L93.2 555.8 L93.8 555.6 L94.4 555.7 L95.0 555.6 L95.6 555.7 L96.2 555.8 L96.8 555.7 L97.4 555.6 L98.0 555.5 L98.6 555.7 L99.2 555.7 L99.8 555.4 L100.4 554.9 L101.0 555.7 L101.6 555.8 L102.2 555.8 L102.8 555.7 L103.4 555.7 L104.0 555.5 L104.6 555.6 L105.2 555.7 L105.8 555.7 L106.4 555.6 L107.0 555.8 L107.6 555.8 L108.2 555.6 L108.8 555.7 L109.4 555.8 L110.0 555.7 L110.6 555.8 L111.2 555.7 L111.8 555.7 L112.4 555.8 L113.0 555.6 L113.6 555.8 L114.2 555.6 L114.8 555.7 L115.4 555.7 L116.0 555.4 L116.6 555.8 L117.2 555.6 L117.8 555.8 L118.4 555.8 L119.0 555.8 L119.6 555.6 L120.2 555.8 L120.8 555.7 L121.4 555.4 L122.0 555.8 L122.6 555.8 L123.2 555.7 L123.8 555.8 L124.4 555.6 L125.0 555.8 L125.6 555.6 L126.2 555.8 L126.8 555.7 L127.4 555.7 L128.0 555.7 L128.6 555.7 L129.2 555.8 L129.8 555.7 L130.4 555.6 L131.0 555.7 L131.6 555.8 L132.2 555.8 L132.8 555.8 L133.4 555.8 L134.0 555.3 L134.6 555.8 L135.2 555.8 L135.8 555.6 L136.4 555.8 L137.0 555.7 L137.6 555.6 L138.2 555.8 L138.8 555.7 L139.4 555.8 L140.0 555.7 L140.6 555.2 L141.2 555.5 L141.8 555.6 L142.4 555.6 L143.0 555.8 L143.6 555.8 L144.2 555.6 L144.8 555.6 L145.4 555.7 L146.0 555.8 L146.6 555.8 L147.2 555.6 L147.8 555.7 L148.4 555.8 L149.0 555.8 L149.6 555.7 L150.2 555.4 L150.8 555.6 L151.4 555.8 L152.0 555.5 L152.6 555.7 L153.2 555.7 L153.8 555.7 L154.4 555.8 L155.0 555.7 L155.6 555.7 L156.2 555.5 L156.8 555.8 L157.4 555.8 L158.0 555.6 L158.6 555.7 L159.2 555.5 L159.8 555.8 L160.4 555.6 L161.0 555.7 L161.6 555.4 L162.2 555.7 L162.8 555.6 L163.4 555.7 L164.0 555.7 L164.6 555.7 L165.2 555.8 L165.8 555.3 L166.4 555.7 L167.0 555.5 L167.6 555.8 L168.2 555.7 L168.8 555.7 L169.4 555.7 L170.0 555.5 L170.6 555.6 L171.2 555.2 L171.8 555.7 L172.4 555.7 L173.0 555.8 L173.6 555.8 L174.2 555.7 L174.8 555.7 L175.4 555.7 L176.0 555.6 L176.6 555.7 L177.2 555.4 L177.8 555.5 L178.4 555.7 L179.0 555.8 L179.6 555.7 L180.2 555.8 L180.8 555.7 L181.4 555.8 L182.0 555.8 L182.6 555.6 L183.2 555.7 L183.8 555.4 L184.4 555.3 L185.0 555.7 L185.6 555.7 L186.2 555.6 L186.8 555.7 L187.4 555.5 L188.0 555.4 L188.6 555.5 L189.2 555.7 L189.8 555.7 L190.4 555.7 L191.0 555.7 L191.6 555.7 L192.2 555.7 L192.8 555.7 L193.4 555.8 L194.0 555.6 L194.6 555.3 L195.2 555.8 L195.8 555.8 L196.4 555.8 L197.0 555.8 L197.6 555.8 L198.2 555.8 L198.8 555.5 L199.4 555.6 L200.0 555.8 L200.6 555.5 L201.2 555.7 L201.8 555.6 L202.4 555.7 L203.0 555.5 L203.6 555.7 L204.2 555.8 L204.8 555.8 L205.4 555.7 L206.0 555.7 L206.6 555.7 L207.2 555.8 L207.8 555.6 L208.4 555.2 L209.0 555.7 L209.6 555.8 L210.2 555.6 L210.8 555.7 L211.4 555.8 L212.0 555.8 L212.6 555.7 L213.2 555.8 L213.8 555.7 L214.4 555.5 L215.0 555.8 L215.6 555.8 L216.2 555.7 L216.8 555.5 L217.4 555.8 L218.0 555.7 L218.6 555.8 L219.2 555.8 L219.8 555.7 L220.4 555.7 L221.0 555.7 L221.6 555.8 L222.2 555.6 L222.8 555.4 L223.4 555.6 L224.0 555.8 L224.6 555.7 L225.2 555.7 L225.8 555.7 L226.4 555.4 L227.0 555.7 L227.6 555.5 L228.2 555.6 L228.8 555.7 L229.4 555.6 L230.0 555.7 L230.6 555.7 L231.2 555.1 L231.8 555.7 L232.4 555.8 L233.0 555.3 L233.6 555.7 L234.2 555.7 L234.8 555.6 L235.4 555.8 L236.0 555.8 L236.6 555.4 L237.2 555.8 L237.8 555.6 L238.4 555.4 L239.0 555.8 L239.6 555.7 L240.2 555.6 L240.8 555.8 L241.4 555.7 L242.0 555.3 L242.6 555.8 L243.2 555.6 L243.8 555.7 L244.4 555.7 L245.0 555.6 L245.6 555.7 L246.2 555.8 L246.8 555.5 L247.4 555.7 L248.0 555.8 L248.6 555.8 L249.2 555.6 L249.8 555.7 L250.4 555.7 L251.0 555.8 L251.6 555.7 L252.2 555.3 L252.8 555.8 L253.4 555.5 L254.0 555.7 L254.6 555.7 L255.2 555.8 L255.8 555.6 L256.4 555.7 L257.0 555.8 L257.6 555.7 L258.2 555.8 L258.8 555.6 L259.4 555.5 L260.0 555.7 L260.6 555.1 L261.2 555.7 L261.8 555.7 L262.4 555.6 L263.0 555.5 L263.6 555.7 L264.2 555.7 L264.8 555.7 L265.4 555.6 L266.0 555.6 L266.6 555.3 L267.2 555.7 L267.8 555.8 L268.4 555.7 L269.0 555.7 L269.6 555.7 L270.2 555.6 L270.8 555.8 L271.4 555.6 L272.0 555.8 L272.6 555.2 L273.2 555.7 L273.8 555.5 L274.4 555.7 L275.0 555.6 L275.6 555.8 L276.2 555.4 L276.8 555.7 L277.4 555.8 L278.0 555.6 L278.6 555.4 L279.2 555.7 L279.8 555.8 L280.4 555.7 L281.0 555.6 L281.6 555.7 L282.2 555.6 L282.8 555.7 L283.4 555.6 L284.0 555.8 L284.6 555.8 L285.2 555.6 L285.8 555.7 L286.4 555.5 L287.0 555.8 L287.6 555.7 L288.2 555.8 L288.8 555.8 L289.4 555.7 L290.0 555.8 L290.6 555.3 L291.2 555.8 L291.8 555.7 L292.4 555.7 L293.0 555.7 L293.6 555.8 L294.2 555.5 L294.8 555.6 L295.4 555.7 L296.0 555.8 L296.6 555.7 L297.2 555.7 L297.8 555.8 L298.4 555.7 L299.0 555.7 L299.6 555.8 L300.2 555.3 L300.8 555.5 L301.4 555.7 L302.0 555.7 L302.6 555.5 L303.2 555.7 L303.8 555.5 L304.4 555.4 L305.0 555.8 L305.6 555.6 L306.2 555.7 L306.8 555.8 L307.4 555.8 L308.0 555.7 L308.6 555.6 L309.2 555.5 L309.8 555.5 L310.4 555.6 L311.0 555.8 L311.6 555.4 L312.2 555.8 L312.8 555.7 L313.4 555.7 L314.0 555.6 L314.6 555.8 L315.2 555.7 L315.8 555.7 L316.4 555.6 L317.0 555.5 L317.6 555.7 L318.2 555.6 L318.8 555.5 L319.4 555.8 L320.0 555.3 L320.6 555.5 L321.2 555.4 L321.8 555.6 L322.4 555.6 L323.0 555.5 L323.6 555.7 L324.2 555.8 L324.8 555.2 L325.4 555.5 L326.0 555.8 L326.6 555.8 L327.2 555.6 L327.8 555.7 L328.4 555.8 L329.0 555.8 L329.6 555.8 L330.2 555.5 L330.8 555.6 L331.4 555.8 L332.0 555.8 L332.6 555.5 L333.2 555.6 L333.8 555.8 L334.4 555.7 L335.0 555.7 L335.6 555.6 L336.2 555.8 L336.8 555.7 L337.4 555.8 L338.0 555.3 L338.6 555.7 L339.2 555.5 L339.8 555.7 L340.4 555.8 L341.0 555.6 L341.6 555.6 L342.2 555.5 L342.8 555.3 L343.4 555.7 L344.0 555.6 L344.6 555.3 L345.2 555.5 L345.8 555.8 L346.4 555.6 L347.0 555.7 L347.6 555.5 L348.2 555.8 L348.8 555.8 L349.4 555.7 L350.0 555.2 L350.6 555.7 L351.2 555.7 L351.8 555.8 L352.4 555.7 L353.0 555.8 L353.6 555.6 L354.2 555.8 L354.8 555.7 L355.4 555.6 L356.0 555.7 L356.6 555.4 L357.2 555.7 L357.8 555.8 L358.4 555.8 L359.0 555.5 L359.6 555.8 L360.2 555.5 L360.8 555.7 L361.4 555.7 L362.0 555.5 L362.6 555.7 L363.2 555.7 L363.8 555.5 L364.4 555.7 L365.0 555.4 L365.6 555.8 L366.2 555.8 L366.8 555.8 L367.4 555.7 L368.0 555.5 L368.6 555.7 L369.2 555.8 L369.8 555.7 L370.4 555.5 L371.0 555.6 L371.6 555.8 L372.2 555.5 L372.8 555.6 L373.4 555.7 L374.0 555.5 L374.6 555.8 L375.2 555.8 L375.8 555.7 L376.4 555.8 L377.0 555.7 L377.6 555.4 L378.2 555.8 L378.8 555.6 L379.4 555.8 L380.0 555.8 L380.6 555.7 L381.2 555.4 L381.8 555.5 L382.4 555.5 L383.0 555.7 L383.6 555.7 L384.2 555.8 L384.8 555.7 L385.4 555.7 L386.0 555.3 L386.6 555.8 L387.2 555.8 L387.8 555.5 L388.4 555.5 L389.0 555.8 L389.6 555.8 L390.2 555.5 L390.8 555.7 L391.4 555.7 L392.0 555.7 L392.6 555.6 L393.2 555.7 L393.8 555.7 L394.4 555.7 L395.0 555.7 L395.6 555.6 L396.2 555.8 L396.8 555.6 L397.4 555.8 L398.0 555.8 L398.6 555.7 L399.2 555.6 L399.8 555.8 L400.4 555.7 L401.0 555.8 L401.6 555.7 L402.2 555.8 L402.8 555.7 L403.4 555.8 L404.0 555.6 L404.6 555.8 L405.2 555.4 L405.8 555.5 L406.4 555.8 L407.0 555.6 L407.6 555.8 L408.2 555.7 L408.8 555.6 L409.4 555.7 L410.0 555.5 L410.6 555.7 L411.2 555.7 L411.8 555.8 L412.4 555.6 L413.0 555.8 L413.6 555.6 L414.2 555.8 L414.8 555.3 L415.4 555.8 L416.0 555.7 L416.6 555.7 L417.2 555.7 L417.8 555.6 L418.4 555.3 L419.0 555.7 L419.6 555.7 L420.2 555.7 L420.8 555.8 L421.4 555.6 L422.0 555.8 L422.6 555.5 L423.2 555.7 L423.8 555.5 L424.4 555.6 L425.0 555.6 L425.6 555.7 L426.2 555.7 L426.8 555.2 L427.4 555.8 L428.0 555.7 L428.6 555.8 L429.2 555.6 L429.8 555.6 L430.4 555.2 L431.0 555.2 L431.6 555.7 L432.2 555.6 L432.8 555.7 L433.4 555.5 L434.0 555.7 L434.6 555.8 L435.2 555.6 L435.8 555.8 L436.4 555.8 L437.0 555.8 L437.6 555.7 L438.2 555.6 L438.8 555.7 L439.4 555.6 L440.0 555.8 L440.6 555.6 L441.2 555.7 L441.8 555.8 L442.4 555.8 L443.0 555.2 L443.6 555.5 L444.2 555.7 L444.8 555.6 L445.4 555.8 L446.0 555.5 L446.6 555.7 L447.2 555.6 L447.8 555.7 L448.4 555.5 L449.0 555.8 L449.6 555.6 L450.2 555.7 L450.8 555.6 L451.4 555.8 L452.0 555.8 L452.6 555.8 L453.2 555.6 L453.8 555.6 L454.4 555.2 L455.0 555.3 L455.6 555.8 L456.2 555.7 L456.8 555.5 L457.4 555.7 L458.0 555.6 L458.6 555.6 L459.2 555.7 L459.8 555.7 L460.4 555.7 L461.0 555.8 L461.6 555.7 L462.2 555.7 L462.8 555.6 L463.4 555.1 L464.0 555.8 L464.6 555.8 L465.2 555.8 L465.8 555.7 L466.4 555.8 L467.0 555.3 L467.6 555.5 L468.2 555.8 L468.8 555.6 L469.4 555.7 L470.0 555.5 L470.6 555.8 L471.2 555.6 L471.8 555.7 L472.4 555.7 L473.0 555.5 L473.6 555.5 L474.2 555.6 L474.8 555.8 L475.4 555.8 L476.0 555.7 L476.6 555.7 L477.2 555.7 L477.8 555.7 L478.4 555.6 L479.0 555.8 L479.6 555.6 L480.2 555.5 L480.8 555.8 L481.4 555.7 L482.0 555.3 L482.6 555.7 L483.2 555.7 L483.8 555.7 L484.4 555.5 L485.0 555.4 L485.6 555.6 L486.2 555.8 L486.8 555.6 L487.4 555.5 L488.0 555.8 L488.6 555.5 L489.2 555.8 L489.8 555.8 L490.4 555.5 L491.0 555.7 L491.6 555.8 L492.2 555.7 L492.8 555.7 L493.4 555.8 L494.0 555.7 L494.6 555.5 L495.2 555.7 L495.8 555.7 L496.4 555.7 L497.0 555.7 L497.6 555.7 L498.2 555.7 L498.8 555.7 L499.4 555.7 L500.0 555.8Z" fill="#b52a92"/>
<path d="M86.0 555.8 L86.0 555.8 L86.3 555.8 L86.6 555.5 L86.9 554.7 L87.2 552.7 L87.5 550.2 L87.8 549.0 L88.1 549.8 L88.4 551.7 L88.7 553.6 L89.0 554.9 L89.3 555.5 L89.6 555.7 L89.6 555.8Z" fill="#b52a92"/>
<path d="M107.5 555.8 L107.5 555.8 L107.8 555.8 L108.1 555.7 L108.4 555.4 L108.7 554.6 L109.0 553.6 L109.3 553.1 L109.6 553.4 L109.9 554.2 L110.2 554.9 L110.5 555.4 L110.8 555.7 L111.1 555.8 L111.1 555.8Z" fill="#b52a92"/>
<path d="M130.9 555.8 L130.9 555.8 L131.3 555.6 L131.6 554.4 L132.0 550.2 L132.3 540.5 L132.7 527.9 L133.0 521.7 L133.3 525.7 L133.7 535.1 L134.0 544.7 L134.4 551.2 L134.7 554.3 L135.1 555.4 L135.1 555.8Z" fill="#b52a92"/>
<path d="M160.8 555.8 L160.8 555.8 L161.1 555.8 L161.3 555.8 L161.6 555.6 L161.9 555.4 L162.1 555.0 L162.4 554.8 L162.7 554.9 L162.9 555.2 L163.2 555.5 L163.5 555.7 L163.7 555.8 L164.0 555.8 L164.0 555.8Z" fill="#b52a92"/>
<path d="M78.6 555.8 L78.6 555.8 L78.9 555.8 L79.1 555.8 L79.3 555.6 L79.5 555.3 L79.8 554.8 L80.0 554.6 L80.2 554.7 L80.5 555.1 L80.7 555.4 L80.9 555.6 L81.1 555.7 L81.4 555.8 L81.4 555.8Z" fill="#b52a92"/>
<path d="M125.6 555.8 L125.6 555.8 L125.9 555.8 L126.1 555.8 L126.3 555.6 L126.5 555.3 L126.8 554.8 L127.0 554.6 L127.2 554.7 L127.5 555.1 L127.7 555.4 L127.9 555.6 L128.1 555.7 L128.4 555.8 L128.4 555.8Z" fill="#b52a92"/>
<path d="M288.3 555.8 L288.3 555.8 L288.7 555.6 L289.1 554.8 L289.5 551.8 L290.0 544.9 L290.4 536.0 L290.8 531.6 L291.2 534.4 L291.6 541.1 L292.1 547.9 L292.5 552.5 L292.9 554.7 L293.3 555.5 L293.3 555.8Z" fill="#b52a92"/>
<path d="M318.8 555.8 L318.8 555.8 L319.2 555.7 L319.6 555.0 L320.0 552.4 L320.5 546.5 L320.9 538.9 L321.3 535.1 L321.7 537.5 L322.1 543.2 L322.6 549.1 L323.0 553.0 L323.4 554.9 L323.8 555.6 L323.8 555.8Z" fill="#b52a92"/>
<path d="M336.5 555.8 L336.5 555.8 L336.9 555.8 L337.3 555.7 L337.7 555.4 L338.0 554.6 L338.4 553.7 L338.8 553.2 L339.2 553.5 L339.6 554.2 L339.9 555.0 L340.3 555.4 L340.7 555.7 L341.1 555.8 L341.1 555.8Z" fill="#b52a92"/>
<path d="M343.9 555.8 L343.9 555.8 L344.3 555.8 L344.7 555.7 L345.1 555.5 L345.4 555.0 L345.8 554.3 L346.2 554.0 L346.6 554.2 L347.0 554.7 L347.3 555.2 L347.7 555.6 L348.1 555.7 L348.5 555.8 L348.5 555.8Z" fill="#b52a92"/>
<path d="M349.9 555.8 L349.9 555.8 L350.3 555.7 L350.7 555.4 L351.1 554.3 L351.6 551.7 L352.0 548.3 L352.4 546.6 L352.8 547.7 L353.2 550.2 L353.7 552.8 L354.1 554.6 L354.5 555.4 L354.9 555.7 L354.9 555.8Z" fill="#b52a92"/>
<path d="M356.9 555.8 L356.9 555.8 L357.3 555.8 L357.7 555.5 L358.1 554.7 L358.6 552.7 L359.0 550.2 L359.4 549.0 L359.8 549.8 L360.2 551.7 L360.7 553.6 L361.1 554.9 L361.5 555.5 L361.9 555.7 L361.9 555.8Z" fill="#b52a92"/>
<path d="M366.7 555.8 L366.7 555.8 L367.1 555.8 L367.4 555.6 L367.8 555.2 L368.1 554.1 L368.5 552.7 L368.8 552.0 L369.1 552.4 L369.5 553.5 L369.8 554.6 L370.2 555.3 L370.5 555.6 L370.9 555.8 L370.9 555.8Z" fill="#b52a92"/>
<path d="M384.1 555.8 L384.1 555.8 L384.4 555.8 L384.6 555.7 L384.8 555.5 L385.0 555.1 L385.3 554.5 L385.5 554.2 L385.7 554.4 L386.0 554.8 L386.2 555.3 L386.4 555.6 L386.6 555.7 L386.9 555.8 L386.9 555.8Z" fill="#b52a92"/>
<path d="M457.0 555.8 L457.0 555.8 L457.5 555.8 L458.0 555.6 L458.5 555.1 L459.0 553.9 L459.5 552.3 L460.0 551.5 L460.5 552.0 L461.0 553.2 L461.5 554.4 L462.0 555.2 L462.5 555.6 L463.0 555.8 L463.0 555.8Z" fill="#b52a92"/>
<path d="M459.7 555.8 L459.7 555.8 L460.1 555.8 L460.5 555.7 L460.9 555.3 L461.2 554.3 L461.6 553.1 L462.0 552.5 L462.4 552.9 L462.8 553.8 L463.1 554.7 L463.5 555.4 L463.9 555.7 L464.3 555.8 L464.3 555.8Z" fill="#b52a92"/>
<path d="M466.5 555.8 L466.5 555.8 L466.8 555.7 L467.1 555.4 L467.4 554.3 L467.7 551.6 L468.0 548.2 L468.3 546.5 L468.6 547.6 L468.9 550.2 L469.2 552.8 L469.5 554.5 L469.8 555.4 L470.1 555.7 L470.1 555.8Z" fill="#b52a92"/>
<path d="M470.9 555.8 L470.9 555.8 L471.2 555.8 L471.4 555.7 L471.7 555.5 L472.0 555.0 L472.2 554.3 L472.5 554.0 L472.8 554.2 L473.0 554.7 L473.3 555.2 L473.6 555.6 L473.8 555.7 L474.1 555.8 L474.1 555.8Z" fill="#b52a92"/>
<path d="M412.4 555.8 L412.4 555.8 L412.7 555.8 L412.9 555.7 L413.2 555.6 L413.5 555.2 L413.7 554.7 L414.0 554.5 L414.3 554.7 L414.5 555.0 L414.8 555.4 L415.1 555.6 L415.3 555.7 L415.6 555.8 L415.6 555.8Z" fill="#b52a92"/>
<rect x="55.2" y="242.4" width="447.6" height="38.9" fill="none" stroke="#666" stroke-width="1.2"/>
<path d="M55.2 281.3H502.8V242.4" fill="none" stroke="#444" stroke-width="1.1"/>
<rect x="55.2" y="286.5" width="447.6" height="39.6" fill="none" stroke="#666" stroke-width="1.2"/>
<path d="M55.2 326.1H502.8V286.5" fill="none" stroke="#444" stroke-width="1.1"/>
<rect x="55.2" y="330.6" width="447.6" height="39.4" fill="none" stroke="#666" stroke-width="1.2"/>
<path d="M55.2 370.0H502.8V330.6" fill="none" stroke="#444" stroke-width="1.1"/>
<rect x="55.2" y="379.3" width="447.6" height="39.1" fill="none" stroke="#666" stroke-width="1.2"/>
<path d="M55.2 418.4H502.8V379.3" fill="none" stroke="#444" stroke-width="1.1"/>
<rect x="55.2" y="423.4" width="447.6" height="39.0" fill="none" stroke="#666" stroke-width="1.2"/>
<path d="M55.2 462.4H502.8V423.4" fill="none" stroke="#444" stroke-width="1.1"/>
<rect x="55.2" y="467.4" width="447.6" height="39.1" fill="none" stroke="#666" stroke-width="1.2"/>
<path d="M55.2 506.5H502.8V467.4" fill="none" stroke="#444" stroke-width="1.1"/>
<rect x="55.2" y="516.6" width="447.6" height="39.4" fill="none" stroke="#666" stroke-width="1.2"/>
<path d="M55.2 556.0H502.8V516.6" fill="none" stroke="#444" stroke-width="1.1"/>
<path d="M50.8 241.4H45.9V370.1H50.8" fill="none" stroke="#3a3a3a" stroke-width="1.1"/>
<path d="M50.8 378.8H45.9V506.2H50.8" fill="none" stroke="#3a3a3a" stroke-width="1.1"/>
<text x="40.8" y="305.8" font-size="7.6" text-anchor="middle" fill="#222" transform="rotate(-90 40.8 305.8)" stroke="#222" stroke-width="0.22" textLength="29.6" lengthAdjust="spacingAndGlyphs">RNA-seq</text>
<text x="40.8" y="442.3" font-size="7.6" text-anchor="middle" fill="#222" transform="rotate(-90 40.8 442.3)" stroke="#222" stroke-width="0.22" textLength="33" lengthAdjust="spacingAndGlyphs">ATAC-seq</text>
<text x="40.9" y="553.9" font-size="8.1" text-anchor="start" fill="#222" transform="rotate(-90 40.9 553.9)" stroke="#222" stroke-width="0.22" textLength="29.6" lengthAdjust="spacingAndGlyphs">BCL11A</text>
<text x="50.3" y="553.9" font-size="7.6" text-anchor="start" fill="#222" transform="rotate(-90 50.3 553.9)" stroke="#222" stroke-width="0.22" textLength="30.8" lengthAdjust="spacingAndGlyphs">ChIP-seq</text>
</svg></body></html>
